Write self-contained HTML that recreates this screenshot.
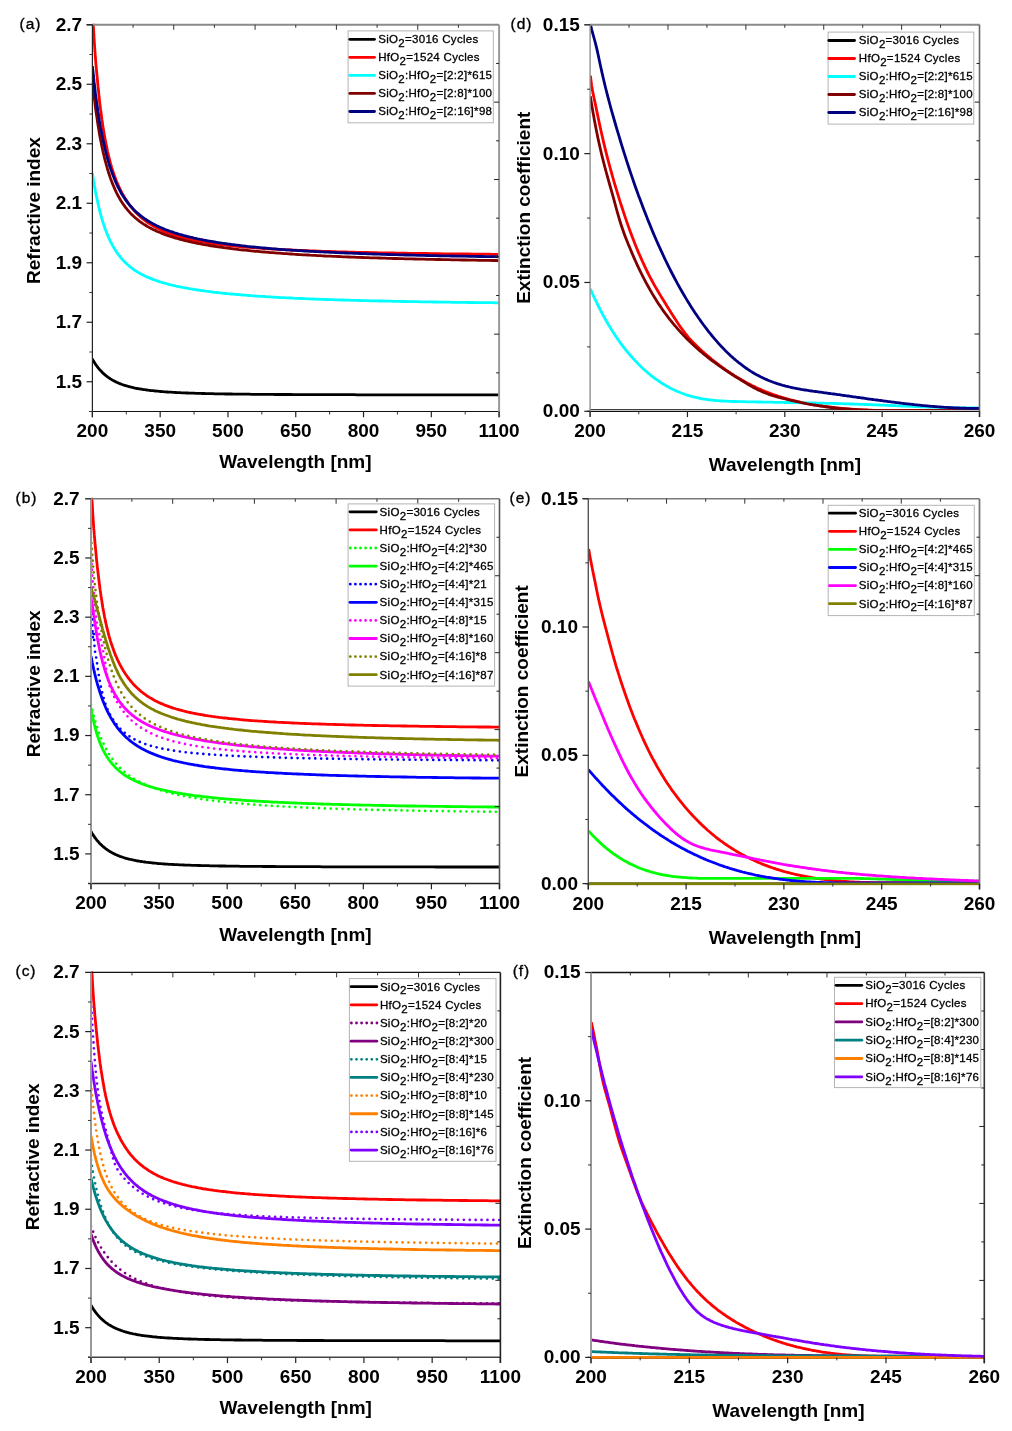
<!DOCTYPE html>
<html><head><meta charset="utf-8"><style>
html,body{margin:0;padding:0;background:#fff;}
body{width:1012px;height:1431px;overflow:hidden;}
svg{display:block;will-change:transform;}
</style></head><body>
<svg width="1012" height="1431" viewBox="0 0 1012 1431" font-family='"Liberation Sans", sans-serif'>
<rect width="1012" height="1431" fill="#fff"/>
<line x1="89.4" y1="411.5" x2="499.1" y2="411.5" stroke="#111" stroke-width="1.2"/>
<clipPath id="clipa"><rect x="92.4" y="23.8" width="406.70000000000005" height="387.7"/></clipPath>
<g clip-path="url(#clipa)" fill="none" stroke-linejoin="round">
<path d="M92.4,359.2 92.4,359.2 92.4,359.2 92.4,359.2 92.4,359.3 92.5,359.3 92.5,359.4 92.5,359.4 92.6,359.5 92.7,359.6 92.7,359.7 92.8,359.9 92.9,360.0 93.0,360.2 93.1,360.3 93.2,360.5 93.3,360.7 93.4,360.9 93.6,361.2 93.7,361.4 93.9,361.7 94.0,361.9 94.2,362.2 94.4,362.5 94.6,362.8 94.8,363.1 95.0,363.4 95.2,363.8 95.4,364.1 95.7,364.5 95.9,364.8 96.2,365.2 96.5,365.6 96.8,366.0 97.1,366.4 97.4,366.8 97.7,367.2 98.0,367.6 98.4,368.1 98.7,368.5 99.1,368.9 99.4,369.4 99.8,369.8 100.2,370.2 100.6,370.7 101.1,371.1 101.5,371.6 101.9,372.0 102.4,372.5 102.8,372.9 103.3,373.4 103.8,373.8 104.3,374.2 104.8,374.7 105.3,375.1 105.9,375.6 106.4,376.0 107.0,376.4 107.5,376.9 108.1,377.3 108.7,377.7 109.3,378.1 109.9,378.5 110.5,378.9 111.2,379.3 111.8,379.7 112.5,380.1 113.2,380.5 113.9,380.8 114.6,381.2 115.3,381.6 116.0,381.9 116.7,382.3 117.5,382.6 118.2,382.9 119.0,383.3 119.8,383.6 120.6,383.9 121.4,384.2 122.2,384.5 123.1,384.8 123.9,385.1 124.8,385.4 125.7,385.7 126.6,385.9 127.5,386.2 128.4,386.4 129.3,386.7 130.2,386.9 131.2,387.2 132.2,387.4 133.1,387.6 134.1,387.8 135.1,388.1 136.1,388.3 137.2,388.5 138.2,388.7 139.3,388.9 140.3,389.0 141.4,389.2 142.5,389.4 143.6,389.6 144.8,389.7 145.9,389.9 147.0,390.0 148.2,390.2 149.4,390.3 150.6,390.5 151.8,390.6 153.0,390.7 154.2,390.9 155.5,391.0 156.7,391.1 158.0,391.2 159.3,391.4 160.6,391.5 161.9,391.6 163.2,391.7 164.5,391.8 165.9,391.9 167.3,392.0 168.6,392.1 170.0,392.2 171.4,392.2 172.9,392.3 174.3,392.4 175.7,392.5 177.2,392.6 178.7,392.6 180.2,392.7 181.7,392.8 183.2,392.8 184.7,392.9 186.3,393.0 187.8,393.0 189.4,393.1 191.0,393.1 192.6,393.2 194.2,393.2 195.8,393.3 197.5,393.3 199.1,393.4 200.8,393.4 202.5,393.5 204.2,393.5 205.9,393.6 207.6,393.6 209.4,393.7 211.1,393.7 212.9,393.7 214.7,393.8 216.5,393.8 218.3,393.8 220.1,393.9 222.0,393.9 223.8,393.9 225.7,394.0 227.6,394.0 229.5,394.0 231.4,394.0 233.4,394.1 235.3,394.1 237.3,394.1 239.2,394.1 241.2,394.2 243.2,394.2 245.2,394.2 247.3,394.2 249.3,394.2 251.4,394.3 253.5,394.3 255.6,394.3 257.7,394.3 259.8,394.3 261.9,394.4 264.1,394.4 266.2,394.4 268.4,394.4 270.6,394.4 272.8,394.4 275.0,394.5 277.3,394.5 279.5,394.5 281.8,394.5 284.1,394.5 286.4,394.5 288.7,394.5 291.0,394.5 293.4,394.6 295.7,394.6 298.1,394.6 300.5,394.6 302.9,394.6 305.3,394.6 307.8,394.6 310.2,394.6 312.7,394.6 315.2,394.6 317.7,394.7 320.2,394.7 322.7,394.7 325.2,394.7 327.8,394.7 330.4,394.7 332.9,394.7 335.5,394.7 338.2,394.7 340.8,394.7 343.4,394.7 346.1,394.7 348.8,394.7 351.5,394.7 354.2,394.7 356.9,394.8 359.7,394.8 362.4,394.8 365.2,394.8 368.0,394.8 370.8,394.8 373.6,394.8 376.4,394.8 379.3,394.8 382.1,394.8 385.0,394.8 387.9,394.8 390.8,394.8 393.7,394.8 396.7,394.8 399.6,394.8 402.6,394.8 405.6,394.8 408.6,394.8 411.6,394.8 414.7,394.8 417.7,394.8 420.8,394.8 423.9,394.9 427.0,394.9 430.1,394.9 433.2,394.9 436.3,394.9 439.5,394.9 442.7,394.9 445.9,394.9 449.1,394.9 452.3,394.9 455.5,394.9 458.8,394.9 462.1,394.9 465.4,394.9 468.7,394.9 472.0,394.9 475.3,394.9 478.7,394.9 482.0,394.9 485.4,394.9 488.8,394.9 492.2,394.9 495.7,394.9 499.1,394.9" stroke="#000000" stroke-width="2.8"/>
<path d="M92.4,4.0 92.4,4.1 92.4,4.2 92.4,4.6 92.4,5.1 92.5,5.7 92.5,6.5 92.5,7.6 92.6,8.7 92.7,10.1 92.7,11.6 92.8,13.3 92.9,15.2 93.0,17.2 93.1,19.3 93.2,21.6 93.3,24.0 93.4,26.5 93.6,29.1 93.7,31.7 93.9,34.5 94.0,37.3 94.2,40.2 94.4,43.1 94.6,46.0 94.8,49.0 95.0,52.0 95.2,55.0 95.4,58.0 95.7,61.1 95.9,64.1 96.2,67.2 96.5,70.3 96.8,73.5 97.1,76.6 97.4,79.8 97.7,83.1 98.0,86.4 98.4,89.7 98.7,93.1 99.1,96.4 99.4,99.8 99.8,103.1 100.2,106.4 100.6,109.7 101.1,113.0 101.5,116.2 101.9,119.4 102.4,122.5 102.8,125.6 103.3,128.7 103.8,131.7 104.3,134.6 104.8,137.5 105.3,140.4 105.9,143.2 106.4,145.9 107.0,148.6 107.5,151.2 108.1,153.8 108.7,156.2 109.3,158.7 109.9,161.1 110.5,163.4 111.2,165.6 111.8,167.8 112.5,170.0 113.2,172.1 113.9,174.1 114.6,176.1 115.3,178.0 116.0,179.9 116.7,181.7 117.5,183.5 118.2,185.2 119.0,186.9 119.8,188.6 120.6,190.2 121.4,191.8 122.2,193.4 123.1,194.9 123.9,196.3 124.8,197.8 125.7,199.2 126.6,200.6 127.5,201.9 128.4,203.3 129.3,204.6 130.2,205.8 131.2,207.0 132.2,208.2 133.1,209.4 134.1,210.5 135.1,211.6 136.1,212.7 137.2,213.8 138.2,214.8 139.3,215.8 140.3,216.7 141.4,217.7 142.5,218.6 143.6,219.5 144.8,220.4 145.9,221.2 147.0,222.1 148.2,222.9 149.4,223.6 150.6,224.4 151.8,225.1 153.0,225.9 154.2,226.6 155.5,227.3 156.7,227.9 158.0,228.6 159.3,229.2 160.6,229.8 161.9,230.4 163.2,231.0 164.5,231.6 165.9,232.1 167.3,232.7 168.6,233.2 170.0,233.7 171.4,234.2 172.9,234.7 174.3,235.2 175.7,235.6 177.2,236.1 178.7,236.5 180.2,236.9 181.7,237.3 183.2,237.7 184.7,238.1 186.3,238.5 187.8,238.9 189.4,239.3 191.0,239.6 192.6,240.0 194.2,240.3 195.8,240.6 197.5,241.0 199.1,241.3 200.8,241.6 202.5,241.9 204.2,242.2 205.9,242.4 207.6,242.7 209.4,243.0 211.1,243.3 212.9,243.5 214.7,243.8 216.5,244.0 218.3,244.3 220.1,244.5 222.0,244.7 223.8,245.0 225.7,245.2 227.6,245.4 229.5,245.6 231.4,245.8 233.4,246.0 235.3,246.2 237.3,246.4 239.2,246.6 241.2,246.8 243.2,246.9 245.2,247.1 247.3,247.3 249.3,247.4 251.4,247.6 253.5,247.8 255.6,247.9 257.7,248.1 259.8,248.2 261.9,248.4 264.1,248.5 266.2,248.7 268.4,248.8 270.6,248.9 272.8,249.1 275.0,249.2 277.3,249.3 279.5,249.4 281.8,249.6 284.1,249.7 286.4,249.8 288.7,249.9 291.0,250.0 293.4,250.1 295.7,250.2 298.1,250.3 300.5,250.4 302.9,250.5 305.3,250.6 307.8,250.7 310.2,250.8 312.7,250.9 315.2,251.0 317.7,251.1 320.2,251.2 322.7,251.3 325.2,251.4 327.8,251.5 330.4,251.5 332.9,251.6 335.5,251.7 338.2,251.8 340.8,251.8 343.4,251.9 346.1,252.0 348.8,252.1 351.5,252.1 354.2,252.2 356.9,252.3 359.7,252.3 362.4,252.4 365.2,252.5 368.0,252.5 370.8,252.6 373.6,252.6 376.4,252.7 379.3,252.8 382.1,252.8 385.0,252.9 387.9,252.9 390.8,253.0 393.7,253.0 396.7,253.1 399.6,253.1 402.6,253.2 405.6,253.2 408.6,253.3 411.6,253.3 414.7,253.4 417.7,253.4 420.8,253.5 423.9,253.5 427.0,253.5 430.1,253.6 433.2,253.6 436.3,253.7 439.5,253.7 442.7,253.8 445.9,253.8 449.1,253.8 452.3,253.9 455.5,253.9 458.8,253.9 462.1,254.0 465.4,254.0 468.7,254.0 472.0,254.1 475.3,254.1 478.7,254.1 482.0,254.2 485.4,254.2 488.8,254.2 492.2,254.3 495.7,254.3 499.1,254.3" stroke="#ff0000" stroke-width="2.8"/>
<path d="M92.4,173.3 92.4,173.3 92.4,173.3 92.4,173.4 92.4,173.6 92.5,173.7 92.5,174.0 92.5,174.2 92.6,174.5 92.7,174.9 92.7,175.3 92.8,175.8 92.9,176.3 93.0,176.9 93.1,177.5 93.2,178.2 93.3,179.0 93.4,179.7 93.6,180.6 93.7,181.4 93.9,182.4 94.0,183.3 94.2,184.4 94.4,185.4 94.6,186.5 94.8,187.6 95.0,188.8 95.2,190.0 95.4,191.3 95.7,192.6 95.9,193.9 96.2,195.2 96.5,196.6 96.8,198.0 97.1,199.4 97.4,200.8 97.7,202.3 98.0,203.7 98.4,205.2 98.7,206.7 99.1,208.2 99.4,209.7 99.8,211.2 100.2,212.8 100.6,214.3 101.1,215.8 101.5,217.3 101.9,218.9 102.4,220.4 102.8,221.9 103.3,223.4 103.8,224.9 104.3,226.3 104.8,227.8 105.3,229.3 105.9,230.7 106.4,232.1 107.0,233.5 107.5,234.9 108.1,236.3 108.7,237.7 109.3,239.0 109.9,240.3 110.5,241.6 111.2,242.9 111.8,244.1 112.5,245.4 113.2,246.6 113.9,247.8 114.6,248.9 115.3,250.1 116.0,251.2 116.7,252.3 117.5,253.4 118.2,254.4 119.0,255.4 119.8,256.4 120.6,257.4 121.4,258.4 122.2,259.3 123.1,260.3 123.9,261.2 124.8,262.0 125.7,262.9 126.6,263.7 127.5,264.5 128.4,265.3 129.3,266.1 130.2,266.9 131.2,267.6 132.2,268.4 133.1,269.1 134.1,269.8 135.1,270.5 136.1,271.1 137.2,271.8 138.2,272.4 139.3,273.0 140.3,273.6 141.4,274.2 142.5,274.8 143.6,275.3 144.8,275.9 145.9,276.4 147.0,276.9 148.2,277.4 149.4,277.9 150.6,278.4 151.8,278.9 153.0,279.4 154.2,279.8 155.5,280.3 156.7,280.7 158.0,281.1 159.3,281.6 160.6,282.0 161.9,282.4 163.2,282.8 164.5,283.2 165.9,283.5 167.3,283.9 168.6,284.3 170.0,284.6 171.4,285.0 172.9,285.3 174.3,285.6 175.7,286.0 177.2,286.3 178.7,286.6 180.2,286.9 181.7,287.2 183.2,287.5 184.7,287.8 186.3,288.1 187.8,288.4 189.4,288.7 191.0,288.9 192.6,289.2 194.2,289.5 195.8,289.7 197.5,290.0 199.1,290.2 200.8,290.5 202.5,290.7 204.2,290.9 205.9,291.2 207.6,291.4 209.4,291.6 211.1,291.8 212.9,292.1 214.7,292.3 216.5,292.5 218.3,292.7 220.1,292.9 222.0,293.1 223.8,293.3 225.7,293.5 227.6,293.7 229.5,293.8 231.4,294.0 233.4,294.2 235.3,294.4 237.3,294.5 239.2,294.7 241.2,294.9 243.2,295.0 245.2,295.2 247.3,295.4 249.3,295.5 251.4,295.7 253.5,295.8 255.6,296.0 257.7,296.1 259.8,296.3 261.9,296.4 264.1,296.5 266.2,296.7 268.4,296.8 270.6,296.9 272.8,297.1 275.0,297.2 277.3,297.3 279.5,297.5 281.8,297.6 284.1,297.7 286.4,297.8 288.7,297.9 291.0,298.0 293.4,298.2 295.7,298.3 298.1,298.4 300.5,298.5 302.9,298.6 305.3,298.7 307.8,298.8 310.2,298.9 312.7,299.0 315.2,299.1 317.7,299.2 320.2,299.3 322.7,299.4 325.2,299.5 327.8,299.5 330.4,299.6 332.9,299.7 335.5,299.8 338.2,299.9 340.8,300.0 343.4,300.0 346.1,300.1 348.8,300.2 351.5,300.3 354.2,300.4 356.9,300.4 359.7,300.5 362.4,300.6 365.2,300.6 368.0,300.7 370.8,300.8 373.6,300.8 376.4,300.9 379.3,301.0 382.1,301.0 385.0,301.1 387.9,301.2 390.8,301.2 393.7,301.3 396.7,301.3 399.6,301.4 402.6,301.5 405.6,301.5 408.6,301.6 411.6,301.6 414.7,301.7 417.7,301.7 420.8,301.8 423.9,301.8 427.0,301.9 430.1,301.9 433.2,302.0 436.3,302.0 439.5,302.1 442.7,302.1 445.9,302.2 449.1,302.2 452.3,302.3 455.5,302.3 458.8,302.4 462.1,302.4 465.4,302.4 468.7,302.5 472.0,302.5 475.3,302.6 478.7,302.6 482.0,302.6 485.4,302.7 488.8,302.7 492.2,302.7 495.7,302.8 499.1,302.8" stroke="#00ffff" stroke-width="2.8"/>
<path d="M92.4,81.5 92.4,81.5 92.4,81.6 92.4,81.7 92.4,81.9 92.5,82.2 92.5,82.5 92.5,82.9 92.6,83.3 92.7,83.9 92.7,84.5 92.8,85.2 92.9,85.9 93.0,86.7 93.1,87.6 93.2,88.6 93.3,89.7 93.4,90.8 93.6,92.0 93.7,93.2 93.9,94.6 94.0,96.0 94.2,97.4 94.4,98.9 94.6,100.5 94.8,102.2 95.0,103.8 95.2,105.6 95.4,107.4 95.7,109.2 95.9,111.1 96.2,113.0 96.5,114.9 96.8,116.9 97.1,118.9 97.4,121.0 97.7,123.0 98.0,125.1 98.4,127.2 98.7,129.4 99.1,131.5 99.4,133.7 99.8,135.8 100.2,138.0 100.6,140.1 101.1,142.3 101.5,144.4 101.9,146.6 102.4,148.7 102.8,150.8 103.3,152.9 103.8,155.0 104.3,157.1 104.8,159.2 105.3,161.2 105.9,163.2 106.4,165.2 107.0,167.2 107.5,169.2 108.1,171.1 108.7,173.0 109.3,174.8 109.9,176.6 110.5,178.4 111.2,180.2 111.8,181.9 112.5,183.6 113.2,185.3 113.9,186.9 114.6,188.5 115.3,190.1 116.0,191.6 116.7,193.1 117.5,194.6 118.2,196.0 119.0,197.4 119.8,198.8 120.6,200.2 121.4,201.5 122.2,202.7 123.1,204.0 123.9,205.2 124.8,206.4 125.7,207.6 126.6,208.7 127.5,209.8 128.4,210.9 129.3,211.9 130.2,212.9 131.2,213.9 132.2,214.9 133.1,215.8 134.1,216.8 135.1,217.7 136.1,218.5 137.2,219.4 138.2,220.2 139.3,221.1 140.3,221.8 141.4,222.6 142.5,223.4 143.6,224.1 144.8,224.8 145.9,225.5 147.0,226.2 148.2,226.9 149.4,227.6 150.6,228.2 151.8,228.8 153.0,229.4 154.2,230.0 155.5,230.6 156.7,231.2 158.0,231.8 159.3,232.3 160.6,232.8 161.9,233.4 163.2,233.9 164.5,234.4 165.9,234.9 167.3,235.4 168.6,235.8 170.0,236.3 171.4,236.7 172.9,237.2 174.3,237.6 175.7,238.1 177.2,238.5 178.7,238.9 180.2,239.3 181.7,239.7 183.2,240.1 184.7,240.5 186.3,240.8 187.8,241.2 189.4,241.6 191.0,241.9 192.6,242.3 194.2,242.6 195.8,243.0 197.5,243.3 199.1,243.6 200.8,243.9 202.5,244.3 204.2,244.6 205.9,244.9 207.6,245.2 209.4,245.5 211.1,245.8 212.9,246.0 214.7,246.3 216.5,246.6 218.3,246.9 220.1,247.1 222.0,247.4 223.8,247.7 225.7,247.9 227.6,248.2 229.5,248.4 231.4,248.6 233.4,248.9 235.3,249.1 237.3,249.3 239.2,249.6 241.2,249.8 243.2,250.0 245.2,250.2 247.3,250.4 249.3,250.6 251.4,250.9 253.5,251.1 255.6,251.3 257.7,251.4 259.8,251.6 261.9,251.8 264.1,252.0 266.2,252.2 268.4,252.4 270.6,252.6 272.8,252.7 275.0,252.9 277.3,253.1 279.5,253.2 281.8,253.4 284.1,253.6 286.4,253.7 288.7,253.9 291.0,254.0 293.4,254.2 295.7,254.3 298.1,254.5 300.5,254.6 302.9,254.8 305.3,254.9 307.8,255.0 310.2,255.2 312.7,255.3 315.2,255.4 317.7,255.6 320.2,255.7 322.7,255.8 325.2,256.0 327.8,256.1 330.4,256.2 332.9,256.3 335.5,256.4 338.2,256.5 340.8,256.6 343.4,256.8 346.1,256.9 348.8,257.0 351.5,257.1 354.2,257.2 356.9,257.3 359.7,257.4 362.4,257.5 365.2,257.6 368.0,257.7 370.8,257.8 373.6,257.9 376.4,257.9 379.3,258.0 382.1,258.1 385.0,258.2 387.9,258.3 390.8,258.4 393.7,258.5 396.7,258.5 399.6,258.6 402.6,258.7 405.6,258.8 408.6,258.9 411.6,258.9 414.7,259.0 417.7,259.1 420.8,259.1 423.9,259.2 427.0,259.3 430.1,259.3 433.2,259.4 436.3,259.5 439.5,259.5 442.7,259.6 445.9,259.7 449.1,259.7 452.3,259.8 455.5,259.9 458.8,259.9 462.1,260.0 465.4,260.0 468.7,260.1 472.0,260.1 475.3,260.2 478.7,260.3 482.0,260.3 485.4,260.4 488.8,260.4 492.2,260.5 495.7,260.5 499.1,260.6" stroke="#800000" stroke-width="2.8"/>
<path d="M92.4,66.1 92.4,66.1 92.4,66.2 92.4,66.3 92.4,66.5 92.5,66.8 92.5,67.1 92.5,67.5 92.6,68.0 92.7,68.6 92.7,69.2 92.8,69.9 92.9,70.7 93.0,71.6 93.1,72.5 93.2,73.6 93.3,74.7 93.4,75.8 93.6,77.1 93.7,78.4 93.9,79.8 94.0,81.2 94.2,82.8 94.4,84.4 94.6,86.0 94.8,87.7 95.0,89.5 95.2,91.3 95.4,93.2 95.7,95.1 95.9,97.1 96.2,99.1 96.5,101.1 96.8,103.2 97.1,105.3 97.4,107.5 97.7,109.7 98.0,111.9 98.4,114.1 98.7,116.3 99.1,118.6 99.4,120.9 99.8,123.1 100.2,125.4 100.6,127.7 101.1,130.0 101.5,132.2 101.9,134.5 102.4,136.8 102.8,139.0 103.3,141.3 103.8,143.5 104.3,145.7 104.8,147.9 105.3,150.1 105.9,152.2 106.4,154.3 107.0,156.4 107.5,158.5 108.1,160.6 108.7,162.6 109.3,164.6 109.9,166.5 110.5,168.4 111.2,170.3 111.8,172.2 112.5,174.0 113.2,175.8 113.9,177.6 114.6,179.3 115.3,181.0 116.0,182.6 116.7,184.3 117.5,185.8 118.2,187.4 119.0,188.9 119.8,190.4 120.6,191.8 121.4,193.3 122.2,194.7 123.1,196.0 123.9,197.3 124.8,198.6 125.7,199.9 126.6,201.1 127.5,202.3 128.4,203.5 129.3,204.6 130.2,205.7 131.2,206.8 132.2,207.9 133.1,208.9 134.1,209.9 135.1,210.9 136.1,211.9 137.2,212.8 138.2,213.7 139.3,214.6 140.3,215.5 141.4,216.3 142.5,217.2 143.6,218.0 144.8,218.8 145.9,219.5 147.0,220.3 148.2,221.0 149.4,221.7 150.6,222.4 151.8,223.1 153.0,223.8 154.2,224.4 155.5,225.1 156.7,225.7 158.0,226.3 159.3,226.9 160.6,227.5 161.9,228.1 163.2,228.6 164.5,229.2 165.9,229.7 167.3,230.2 168.6,230.7 170.0,231.3 171.4,231.7 172.9,232.2 174.3,232.7 175.7,233.2 177.2,233.6 178.7,234.1 180.2,234.5 181.7,234.9 183.2,235.4 184.7,235.8 186.3,236.2 187.8,236.6 189.4,237.0 191.0,237.3 192.6,237.7 194.2,238.1 195.8,238.4 197.5,238.8 199.1,239.1 200.8,239.5 202.5,239.8 204.2,240.2 205.9,240.5 207.6,240.8 209.4,241.1 211.1,241.4 212.9,241.7 214.7,242.0 216.5,242.3 218.3,242.6 220.1,242.9 222.0,243.2 223.8,243.4 225.7,243.7 227.6,244.0 229.5,244.2 231.4,244.5 233.4,244.7 235.3,245.0 237.3,245.2 239.2,245.4 241.2,245.7 243.2,245.9 245.2,246.1 247.3,246.4 249.3,246.6 251.4,246.8 253.5,247.0 255.6,247.2 257.7,247.4 259.8,247.6 261.9,247.8 264.1,248.0 266.2,248.2 268.4,248.4 270.6,248.6 272.8,248.8 275.0,248.9 277.3,249.1 279.5,249.3 281.8,249.5 284.1,249.6 286.4,249.8 288.7,249.9 291.0,250.1 293.4,250.3 295.7,250.4 298.1,250.6 300.5,250.7 302.9,250.9 305.3,251.0 307.8,251.1 310.2,251.3 312.7,251.4 315.2,251.6 317.7,251.7 320.2,251.8 322.7,251.9 325.2,252.1 327.8,252.2 330.4,252.3 332.9,252.4 335.5,252.6 338.2,252.7 340.8,252.8 343.4,252.9 346.1,253.0 348.8,253.1 351.5,253.2 354.2,253.3 356.9,253.4 359.7,253.5 362.4,253.6 365.2,253.7 368.0,253.8 370.8,253.9 373.6,254.0 376.4,254.1 379.3,254.2 382.1,254.3 385.0,254.4 387.9,254.5 390.8,254.6 393.7,254.6 396.7,254.7 399.6,254.8 402.6,254.9 405.6,255.0 408.6,255.0 411.6,255.1 414.7,255.2 417.7,255.3 420.8,255.3 423.9,255.4 427.0,255.5 430.1,255.6 433.2,255.6 436.3,255.7 439.5,255.8 442.7,255.8 445.9,255.9 449.1,255.9 452.3,256.0 455.5,256.1 458.8,256.1 462.1,256.2 465.4,256.2 468.7,256.3 472.0,256.4 475.3,256.4 478.7,256.5 482.0,256.5 485.4,256.6 488.8,256.6 492.2,256.7 495.7,256.7 499.1,256.8" stroke="#000080" stroke-width="2.8"/>
</g>
<line x1="92.4" y1="24.8" x2="499.1" y2="24.8" stroke="#8a8a8a" stroke-width="2"/>
<line x1="499.1" y1="24.8" x2="499.1" y2="417.3" stroke="#9a9a9a" stroke-width="2"/>
<line x1="92.4" y1="24.8" x2="92.4" y2="417.3" stroke="#222" stroke-width="1.2"/>
<line x1="86.60000000000001" y1="24.8" x2="92.4" y2="24.8" stroke="#222" stroke-width="1.2"/>
<line x1="133.07" y1="24.8" x2="133.07" y2="27.8" stroke="#333" stroke-width="1"/>
<line x1="496.1" y1="63.47" x2="499.1" y2="63.47" stroke="#222" stroke-width="1"/>
<line x1="173.74" y1="24.8" x2="173.74" y2="29.8" stroke="#333" stroke-width="1"/>
<line x1="494.1" y1="102.14" x2="499.1" y2="102.14" stroke="#222" stroke-width="1"/>
<line x1="214.41" y1="24.8" x2="214.41" y2="27.8" stroke="#333" stroke-width="1"/>
<line x1="496.1" y1="140.81" x2="499.1" y2="140.81" stroke="#222" stroke-width="1"/>
<line x1="255.08" y1="24.8" x2="255.08" y2="29.8" stroke="#333" stroke-width="1"/>
<line x1="494.1" y1="179.48" x2="499.1" y2="179.48" stroke="#222" stroke-width="1"/>
<line x1="295.75" y1="24.8" x2="295.75" y2="27.8" stroke="#333" stroke-width="1"/>
<line x1="496.1" y1="218.15" x2="499.1" y2="218.15" stroke="#222" stroke-width="1"/>
<line x1="336.42" y1="24.8" x2="336.42" y2="29.8" stroke="#333" stroke-width="1"/>
<line x1="494.1" y1="256.82" x2="499.1" y2="256.82" stroke="#222" stroke-width="1"/>
<line x1="377.09" y1="24.8" x2="377.09" y2="27.8" stroke="#333" stroke-width="1"/>
<line x1="496.1" y1="295.49" x2="499.1" y2="295.49" stroke="#222" stroke-width="1"/>
<line x1="417.76" y1="24.8" x2="417.76" y2="29.8" stroke="#333" stroke-width="1"/>
<line x1="494.1" y1="334.16" x2="499.1" y2="334.16" stroke="#222" stroke-width="1"/>
<line x1="458.43" y1="24.8" x2="458.43" y2="27.8" stroke="#333" stroke-width="1"/>
<line x1="496.1" y1="372.83" x2="499.1" y2="372.83" stroke="#222" stroke-width="1"/>
<line x1="92.40" y1="411.5" x2="92.40" y2="417.3" stroke="#222" stroke-width="1.2"/>
<text x="92.40" y="436.50" font-size="19" font-weight="bold" text-anchor="middle" >200</text>
<line x1="160.18" y1="411.5" x2="160.18" y2="417.3" stroke="#222" stroke-width="1.2"/>
<text x="160.18" y="436.50" font-size="19" font-weight="bold" text-anchor="middle" >350</text>
<line x1="227.97" y1="411.5" x2="227.97" y2="417.3" stroke="#222" stroke-width="1.2"/>
<text x="227.97" y="436.50" font-size="19" font-weight="bold" text-anchor="middle" >500</text>
<line x1="295.75" y1="411.5" x2="295.75" y2="417.3" stroke="#222" stroke-width="1.2"/>
<text x="295.75" y="436.50" font-size="19" font-weight="bold" text-anchor="middle" >650</text>
<line x1="363.53" y1="411.5" x2="363.53" y2="417.3" stroke="#222" stroke-width="1.2"/>
<text x="363.53" y="436.50" font-size="19" font-weight="bold" text-anchor="middle" >800</text>
<line x1="431.32" y1="411.5" x2="431.32" y2="417.3" stroke="#222" stroke-width="1.2"/>
<text x="431.32" y="436.50" font-size="19" font-weight="bold" text-anchor="middle" >950</text>
<line x1="499.10" y1="411.5" x2="499.10" y2="417.3" stroke="#222" stroke-width="1.2"/>
<text x="499.10" y="436.50" font-size="19" font-weight="bold" text-anchor="middle" >1100</text>
<line x1="126.29" y1="411.5" x2="126.29" y2="414.5" stroke="#333" stroke-width="1"/>
<line x1="194.08" y1="411.5" x2="194.08" y2="414.5" stroke="#333" stroke-width="1"/>
<line x1="261.86" y1="411.5" x2="261.86" y2="414.5" stroke="#333" stroke-width="1"/>
<line x1="329.64" y1="411.5" x2="329.64" y2="414.5" stroke="#333" stroke-width="1"/>
<line x1="397.43" y1="411.5" x2="397.43" y2="414.5" stroke="#333" stroke-width="1"/>
<line x1="465.21" y1="411.5" x2="465.21" y2="414.5" stroke="#333" stroke-width="1"/>
<line x1="86.60000000000001" y1="381.75" x2="92.4" y2="381.75" stroke="#222" stroke-width="1.2"/>
<text x="82.10" y="387.65" font-size="19" font-weight="bold" text-anchor="end" >1.5</text>
<line x1="86.60000000000001" y1="322.26" x2="92.4" y2="322.26" stroke="#222" stroke-width="1.2"/>
<text x="82.10" y="328.16" font-size="19" font-weight="bold" text-anchor="end" >1.7</text>
<line x1="86.60000000000001" y1="262.77" x2="92.4" y2="262.77" stroke="#222" stroke-width="1.2"/>
<text x="82.10" y="268.67" font-size="19" font-weight="bold" text-anchor="end" >1.9</text>
<line x1="86.60000000000001" y1="203.28" x2="92.4" y2="203.28" stroke="#222" stroke-width="1.2"/>
<text x="82.10" y="209.18" font-size="19" font-weight="bold" text-anchor="end" >2.1</text>
<line x1="86.60000000000001" y1="143.78" x2="92.4" y2="143.78" stroke="#222" stroke-width="1.2"/>
<text x="82.10" y="149.68" font-size="19" font-weight="bold" text-anchor="end" >2.3</text>
<line x1="86.60000000000001" y1="84.29" x2="92.4" y2="84.29" stroke="#222" stroke-width="1.2"/>
<text x="82.10" y="90.19" font-size="19" font-weight="bold" text-anchor="end" >2.5</text>
<line x1="86.60000000000001" y1="24.80" x2="92.4" y2="24.80" stroke="#222" stroke-width="1.2"/>
<text x="82.10" y="30.70" font-size="19" font-weight="bold" text-anchor="end" >2.7</text>
<line x1="89.4" y1="411.50" x2="92.4" y2="411.50" stroke="#333" stroke-width="1"/>
<line x1="89.4" y1="352.01" x2="92.4" y2="352.01" stroke="#333" stroke-width="1"/>
<line x1="89.4" y1="292.52" x2="92.4" y2="292.52" stroke="#333" stroke-width="1"/>
<line x1="89.4" y1="233.02" x2="92.4" y2="233.02" stroke="#333" stroke-width="1"/>
<line x1="89.4" y1="173.53" x2="92.4" y2="173.53" stroke="#333" stroke-width="1"/>
<line x1="89.4" y1="114.04" x2="92.4" y2="114.04" stroke="#333" stroke-width="1"/>
<line x1="89.4" y1="54.55" x2="92.4" y2="54.55" stroke="#333" stroke-width="1"/>
<text x="295.40" y="467.90" font-size="19" font-weight="bold" text-anchor="middle" >Wavelength [nm]</text>
<text x="0" y="0" font-size="19" font-weight="bold" text-anchor="middle" transform="translate(40.20,210.55) rotate(-90)">Refractive index</text>
<text x="19.60" y="28.80" font-size="15.5" font-weight="normal" text-anchor="start" stroke="#000" stroke-width="0.35" letter-spacing="0.9">(a)</text>
<rect x="348.1" y="30.9" width="145.2" height="91.9" fill="#fff" stroke="#b4b4b4" stroke-width="1"/>
<line x1="349.8" y1="39.30" x2="374.5" y2="39.30" stroke="#000000" stroke-width="2.8" stroke-linecap="round"/>
<text x="378.20" y="43.10" font-size="11.5" font-weight="normal" text-anchor="start" letter-spacing="0.3" stroke="#000" stroke-width="0.3">SiO<tspan dy="3.9">2</tspan><tspan dy="-3.9">=3016 Cycles</tspan></text>
<line x1="349.8" y1="57.35" x2="374.5" y2="57.35" stroke="#ff0000" stroke-width="2.8" stroke-linecap="round"/>
<text x="378.20" y="61.15" font-size="11.5" font-weight="normal" text-anchor="start" letter-spacing="0.3" stroke="#000" stroke-width="0.3">HfO<tspan dy="3.9">2</tspan><tspan dy="-3.9">=1524 Cycles</tspan></text>
<line x1="349.8" y1="75.40" x2="374.5" y2="75.40" stroke="#00ffff" stroke-width="2.8" stroke-linecap="round"/>
<text x="378.20" y="79.20" font-size="11.5" font-weight="normal" text-anchor="start" letter-spacing="0.3" stroke="#000" stroke-width="0.3">SiO<tspan dy="3.9">2</tspan><tspan dy="-3.9">:HfO</tspan><tspan dy="3.9">2</tspan><tspan dy="-3.9">=[2:2]*615</tspan></text>
<line x1="349.8" y1="93.45" x2="374.5" y2="93.45" stroke="#800000" stroke-width="2.8" stroke-linecap="round"/>
<text x="378.20" y="97.25" font-size="11.5" font-weight="normal" text-anchor="start" letter-spacing="0.3" stroke="#000" stroke-width="0.3">SiO<tspan dy="3.9">2</tspan><tspan dy="-3.9">:HfO</tspan><tspan dy="3.9">2</tspan><tspan dy="-3.9">=[2:8]*100</tspan></text>
<line x1="349.8" y1="111.50" x2="374.5" y2="111.50" stroke="#000080" stroke-width="2.8" stroke-linecap="round"/>
<text x="378.20" y="115.30" font-size="11.5" font-weight="normal" text-anchor="start" letter-spacing="0.3" stroke="#000" stroke-width="0.3">SiO<tspan dy="3.9">2</tspan><tspan dy="-3.9">:HfO</tspan><tspan dy="3.9">2</tspan><tspan dy="-3.9">=[2:16]*98</tspan></text>
<line x1="88.0" y1="883.5" x2="499.5" y2="883.5" stroke="#222" stroke-width="1.3"/>
<clipPath id="clipb"><rect x="91.0" y="497.8" width="408.5" height="385.7"/></clipPath>
<g clip-path="url(#clipb)" fill="none" stroke-linejoin="round">
<path d="M91.0,831.5 91.0,831.5 91.0,831.5 91.0,831.5 91.0,831.5 91.1,831.6 91.1,831.6 91.1,831.7 91.2,831.8 91.3,831.9 91.3,832.0 91.4,832.1 91.5,832.3 91.6,832.4 91.7,832.6 91.8,832.8 91.9,833.0 92.0,833.2 92.2,833.4 92.3,833.7 92.5,833.9 92.6,834.2 92.8,834.5 93.0,834.7 93.2,835.0 93.4,835.4 93.6,835.7 93.8,836.0 94.1,836.4 94.3,836.7 94.6,837.1 94.8,837.5 95.1,837.8 95.4,838.2 95.7,838.6 96.0,839.0 96.3,839.4 96.6,839.9 97.0,840.3 97.3,840.7 97.7,841.1 98.1,841.6 98.5,842.0 98.9,842.4 99.3,842.9 99.7,843.3 100.1,843.8 100.6,844.2 101.0,844.7 101.5,845.1 102.0,845.6 102.4,846.0 102.9,846.4 103.5,846.9 104.0,847.3 104.5,847.7 105.1,848.2 105.6,848.6 106.2,849.0 106.8,849.4 107.4,849.9 108.0,850.3 108.6,850.7 109.2,851.1 109.9,851.5 110.5,851.9 111.2,852.2 111.9,852.6 112.6,853.0 113.3,853.4 114.0,853.7 114.7,854.1 115.4,854.4 116.2,854.8 117.0,855.1 117.7,855.4 118.5,855.7 119.3,856.1 120.1,856.4 121.0,856.7 121.8,857.0 122.7,857.2 123.5,857.5 124.4,857.8 125.3,858.1 126.2,858.3 127.1,858.6 128.1,858.8 129.0,859.1 130.0,859.3 130.9,859.5 131.9,859.7 132.9,860.0 133.9,860.2 134.9,860.4 136.0,860.6 137.0,860.8 138.1,861.0 139.2,861.2 140.2,861.3 141.3,861.5 142.5,861.7 143.6,861.8 144.7,862.0 145.9,862.2 147.0,862.3 148.2,862.4 149.4,862.6 150.6,862.7 151.9,862.9 153.1,863.0 154.3,863.1 155.6,863.2 156.9,863.3 158.2,863.5 159.5,863.6 160.8,863.7 162.1,863.8 163.5,863.9 164.8,864.0 166.2,864.1 167.6,864.2 169.0,864.3 170.4,864.3 171.8,864.4 173.2,864.5 174.7,864.6 176.2,864.7 177.7,864.7 179.2,864.8 180.7,864.9 182.2,864.9 183.7,865.0 185.3,865.1 186.8,865.1 188.4,865.2 190.0,865.2 191.6,865.3 193.3,865.3 194.9,865.4 196.5,865.4 198.2,865.5 199.9,865.5 201.6,865.6 203.3,865.6 205.0,865.7 206.7,865.7 208.5,865.7 210.3,865.8 212.0,865.8 213.8,865.9 215.6,865.9 217.5,865.9 219.3,866.0 221.2,866.0 223.0,866.0 224.9,866.0 226.8,866.1 228.7,866.1 230.6,866.1 232.6,866.2 234.5,866.2 236.5,866.2 238.5,866.2 240.5,866.3 242.5,866.3 244.5,866.3 246.6,866.3 248.6,866.3 250.7,866.4 252.8,866.4 254.9,866.4 257.0,866.4 259.1,866.4 261.3,866.4 263.4,866.5 265.6,866.5 267.8,866.5 270.0,866.5 272.2,866.5 274.5,866.5 276.7,866.6 279.0,866.6 281.3,866.6 283.5,866.6 285.9,866.6 288.2,866.6 290.5,866.6 292.9,866.6 295.2,866.7 297.6,866.7 300.0,866.7 302.4,866.7 304.9,866.7 307.3,866.7 309.8,866.7 312.3,866.7 314.7,866.7 317.3,866.7 319.8,866.7 322.3,866.8 324.9,866.8 327.4,866.8 330.0,866.8 332.6,866.8 335.2,866.8 337.9,866.8 340.5,866.8 343.2,866.8 345.8,866.8 348.5,866.8 351.2,866.8 353.9,866.8 356.7,866.8 359.4,866.8 362.2,866.9 365.0,866.9 367.8,866.9 370.6,866.9 373.4,866.9 376.3,866.9 379.1,866.9 382.0,866.9 384.9,866.9 387.8,866.9 390.7,866.9 393.7,866.9 396.6,866.9 399.6,866.9 402.6,866.9 405.6,866.9 408.6,866.9 411.6,866.9 414.7,866.9 417.7,866.9 420.8,866.9 423.9,866.9 427.0,866.9 430.2,866.9 433.3,866.9 436.5,867.0 439.6,867.0 442.8,867.0 446.0,867.0 449.3,867.0 452.5,867.0 455.7,867.0 459.0,867.0 462.3,867.0 465.6,867.0 468.9,867.0 472.3,867.0 475.6,867.0 479.0,867.0 482.4,867.0 485.7,867.0 489.2,867.0 492.6,867.0 496.0,867.0 499.5,867.0" stroke="#000000" stroke-width="2.8"/>
<path d="M91.0,478.1 91.0,478.2 91.0,478.3 91.0,478.7 91.0,479.2 91.1,479.8 91.1,480.6 91.1,481.6 91.2,482.8 91.3,484.2 91.3,485.7 91.4,487.4 91.5,489.2 91.6,491.2 91.7,493.3 91.8,495.6 91.9,498.0 92.0,500.5 92.2,503.0 92.3,505.7 92.5,508.4 92.6,511.2 92.8,514.1 93.0,517.0 93.2,519.9 93.4,522.9 93.6,525.9 93.8,528.9 94.1,531.9 94.3,534.9 94.6,537.9 94.8,541.0 95.1,544.1 95.4,547.2 95.7,550.4 96.0,553.6 96.3,556.8 96.6,560.1 97.0,563.4 97.3,566.7 97.7,570.0 98.1,573.4 98.5,576.7 98.9,580.0 99.3,583.3 99.7,586.5 100.1,589.7 100.6,592.9 101.0,596.0 101.5,599.1 102.0,602.1 102.4,605.1 102.9,608.1 103.5,611.0 104.0,613.8 104.5,616.6 105.1,619.3 105.6,621.9 106.2,624.5 106.8,627.1 107.4,629.6 108.0,632.0 108.6,634.3 109.2,636.7 109.9,638.9 110.5,641.1 111.2,643.2 111.9,645.3 112.6,647.3 113.3,649.3 114.0,651.2 114.7,653.1 115.4,654.9 116.2,656.7 117.0,658.4 117.7,660.1 118.5,661.7 119.3,663.4 120.1,664.9 121.0,666.5 121.8,668.0 122.7,669.5 123.5,670.9 124.4,672.3 125.3,673.7 126.2,675.0 127.1,676.3 128.1,677.6 129.0,678.9 130.0,680.1 130.9,681.3 131.9,682.4 132.9,683.6 133.9,684.7 134.9,685.7 136.0,686.8 137.0,687.8 138.1,688.8 139.2,689.7 140.2,690.7 141.3,691.6 142.5,692.5 143.6,693.4 144.7,694.2 145.9,695.0 147.0,695.8 148.2,696.6 149.4,697.4 150.6,698.1 151.9,698.8 153.1,699.5 154.3,700.2 155.6,700.9 156.9,701.5 158.2,702.2 159.5,702.8 160.8,703.4 162.1,703.9 163.5,704.5 164.8,705.1 166.2,705.6 167.6,706.1 169.0,706.6 170.4,707.1 171.8,707.6 173.2,708.1 174.7,708.5 176.2,709.0 177.7,709.4 179.2,709.8 180.7,710.2 182.2,710.6 183.7,711.0 185.3,711.4 186.8,711.8 188.4,712.2 190.0,712.5 191.6,712.8 193.3,713.2 194.9,713.5 196.5,713.8 198.2,714.1 199.9,714.5 201.6,714.7 203.3,715.0 205.0,715.3 206.7,715.6 208.5,715.9 210.3,716.1 212.0,716.4 213.8,716.6 215.6,716.9 217.5,717.1 219.3,717.4 221.2,717.6 223.0,717.8 224.9,718.0 226.8,718.2 228.7,718.5 230.6,718.7 232.6,718.9 234.5,719.0 236.5,719.2 238.5,719.4 240.5,719.6 242.5,719.8 244.5,720.0 246.6,720.1 248.6,720.3 250.7,720.5 252.8,720.6 254.9,720.8 257.0,720.9 259.1,721.1 261.3,721.2 263.4,721.4 265.6,721.5 267.8,721.6 270.0,721.8 272.2,721.9 274.5,722.0 276.7,722.2 279.0,722.3 281.3,722.4 283.5,722.5 285.9,722.6 288.2,722.7 290.5,722.9 292.9,723.0 295.2,723.1 297.6,723.2 300.0,723.3 302.4,723.4 304.9,723.5 307.3,723.6 309.8,723.7 312.3,723.8 314.7,723.9 317.3,723.9 319.8,724.0 322.3,724.1 324.9,724.2 327.4,724.3 330.0,724.4 332.6,724.4 335.2,724.5 337.9,724.6 340.5,724.7 343.2,724.7 345.8,724.8 348.5,724.9 351.2,725.0 353.9,725.0 356.7,725.1 359.4,725.2 362.2,725.2 365.0,725.3 367.8,725.3 370.6,725.4 373.4,725.5 376.3,725.5 379.1,725.6 382.0,725.6 384.9,725.7 387.8,725.7 390.7,725.8 393.7,725.8 396.6,725.9 399.6,725.9 402.6,726.0 405.6,726.0 408.6,726.1 411.6,726.1 414.7,726.2 417.7,726.2 420.8,726.3 423.9,726.3 427.0,726.4 430.2,726.4 433.3,726.4 436.5,726.5 439.6,726.5 442.8,726.6 446.0,726.6 449.3,726.6 452.5,726.7 455.7,726.7 459.0,726.8 462.3,726.8 465.6,726.8 468.9,726.9 472.3,726.9 475.6,726.9 479.0,727.0 482.4,727.0 485.7,727.0 489.2,727.0 492.6,727.1 496.0,727.1 499.5,727.1" stroke="#ff0000" stroke-width="2.8"/>
<path d="M91.0,704.5 91.0,704.5 91.0,704.6 91.0,704.6 91.0,704.7 91.1,704.8 91.1,705.0 91.1,705.2 91.2,705.4 91.3,705.7 91.3,706.0 91.4,706.3 91.5,706.6 91.6,707.0 91.7,707.5 91.8,707.9 91.9,708.5 92.0,709.0 92.2,709.6 92.3,710.2 92.5,710.8 92.6,711.5 92.8,712.2 93.0,712.9 93.2,713.7 93.4,714.5 93.6,715.3 93.8,716.2 94.1,717.1 94.3,718.0 94.6,718.9 94.8,719.8 95.1,720.8 95.4,721.8 95.7,722.8 96.0,723.8 96.3,724.8 96.6,725.9 97.0,727.0 97.3,728.0 97.7,729.1 98.1,730.2 98.5,731.3 98.9,732.4 99.3,733.5 99.7,734.6 100.1,735.8 100.6,736.9 101.0,738.0 101.5,739.1 102.0,740.2 102.4,741.3 102.9,742.4 103.5,743.6 104.0,744.7 104.5,745.7 105.1,746.8 105.6,747.9 106.2,749.0 106.8,750.0 107.4,751.1 108.0,752.1 108.6,753.2 109.2,754.2 109.9,755.2 110.5,756.2 111.2,757.2 111.9,758.1 112.6,759.1 113.3,760.0 114.0,761.0 114.7,761.9 115.4,762.8 116.2,763.7 117.0,764.6 117.7,765.4 118.5,766.3 119.3,767.1 120.1,767.9 121.0,768.7 121.8,769.5 122.7,770.3 123.5,771.1 124.4,771.8 125.3,772.6 126.2,773.3 127.1,774.0 128.1,774.7 129.0,775.4 130.0,776.1 130.9,776.7 131.9,777.4 132.9,778.0 133.9,778.7 134.9,779.3 136.0,779.9 137.0,780.5 138.1,781.1 139.2,781.6 140.2,782.2 141.3,782.7 142.5,783.3 143.6,783.8 144.7,784.3 145.9,784.9 147.0,785.4 148.2,785.9 149.4,786.3 150.6,786.8 151.9,787.3 153.1,787.7 154.3,788.2 155.6,788.6 156.9,789.1 158.2,789.5 159.5,789.9 160.8,790.3 162.1,790.7 163.5,791.1 164.8,791.5 166.2,791.9 167.6,792.3 169.0,792.6 170.4,793.0 171.8,793.4 173.2,793.7 174.7,794.1 176.2,794.4 177.7,794.7 179.2,795.1 180.7,795.4 182.2,795.7 183.7,796.0 185.3,796.3 186.8,796.6 188.4,796.9 190.0,797.2 191.6,797.5 193.3,797.8 194.9,798.0 196.5,798.3 198.2,798.6 199.9,798.8 201.6,799.1 203.3,799.3 205.0,799.6 206.7,799.8 208.5,800.1 210.3,800.3 212.0,800.5 213.8,800.7 215.6,801.0 217.5,801.2 219.3,801.4 221.2,801.6 223.0,801.8 224.9,802.0 226.8,802.2 228.7,802.4 230.6,802.6 232.6,802.8 234.5,803.0 236.5,803.2 238.5,803.4 240.5,803.5 242.5,803.7 244.5,803.9 246.6,804.1 248.6,804.2 250.7,804.4 252.8,804.5 254.9,804.7 257.0,804.9 259.1,805.0 261.3,805.2 263.4,805.3 265.6,805.5 267.8,805.6 270.0,805.7 272.2,805.9 274.5,806.0 276.7,806.1 279.0,806.3 281.3,806.4 283.5,806.5 285.9,806.7 288.2,806.8 290.5,806.9 292.9,807.0 295.2,807.1 297.6,807.2 300.0,807.4 302.4,807.5 304.9,807.6 307.3,807.7 309.8,807.8 312.3,807.9 314.7,808.0 317.3,808.1 319.8,808.2 322.3,808.3 324.9,808.4 327.4,808.5 330.0,808.6 332.6,808.6 335.2,808.7 337.9,808.8 340.5,808.9 343.2,809.0 345.8,809.1 348.5,809.2 351.2,809.2 353.9,809.3 356.7,809.4 359.4,809.5 362.2,809.5 365.0,809.6 367.8,809.7 370.6,809.8 373.4,809.8 376.3,809.9 379.1,810.0 382.0,810.0 384.9,810.1 387.8,810.2 390.7,810.2 393.7,810.3 396.6,810.3 399.6,810.4 402.6,810.5 405.6,810.5 408.6,810.6 411.6,810.6 414.7,810.7 417.7,810.7 420.8,810.8 423.9,810.9 427.0,810.9 430.2,811.0 433.3,811.0 436.5,811.1 439.6,811.1 442.8,811.1 446.0,811.2 449.3,811.2 452.5,811.3 455.7,811.3 459.0,811.4 462.3,811.4 465.6,811.5 468.9,811.5 472.3,811.5 475.6,811.6 479.0,811.6 482.4,811.7 485.7,811.7 489.2,811.7 492.6,811.8 496.0,811.8 499.5,811.8" stroke="#00ff00" stroke-width="2.7" stroke-dasharray="0 5.9" stroke-linecap="round"/>
<path d="M91.0,708.4 91.0,708.4 91.0,708.4 91.0,708.5 91.0,708.6 91.1,708.7 91.1,708.9 91.1,709.2 91.2,709.4 91.3,709.8 91.3,710.1 91.4,710.5 91.5,711.0 91.6,711.4 91.7,712.0 91.8,712.5 91.9,713.2 92.0,713.8 92.2,714.5 92.3,715.2 92.5,716.0 92.6,716.8 92.8,717.6 93.0,718.5 93.2,719.4 93.4,720.3 93.6,721.3 93.8,722.3 94.1,723.3 94.3,724.3 94.6,725.3 94.8,726.4 95.1,727.5 95.4,728.6 95.7,729.7 96.0,730.8 96.3,731.9 96.6,733.1 97.0,734.2 97.3,735.3 97.7,736.5 98.1,737.6 98.5,738.7 98.9,739.9 99.3,741.0 99.7,742.1 100.1,743.2 100.6,744.3 101.0,745.4 101.5,746.5 102.0,747.5 102.4,748.6 102.9,749.6 103.5,750.7 104.0,751.7 104.5,752.7 105.1,753.7 105.6,754.6 106.2,755.6 106.8,756.5 107.4,757.5 108.0,758.4 108.6,759.3 109.2,760.1 109.9,761.0 110.5,761.9 111.2,762.7 111.9,763.5 112.6,764.3 113.3,765.1 114.0,765.9 114.7,766.7 115.4,767.4 116.2,768.2 117.0,768.9 117.7,769.6 118.5,770.3 119.3,771.0 120.1,771.7 121.0,772.3 121.8,773.0 122.7,773.6 123.5,774.3 124.4,774.9 125.3,775.5 126.2,776.1 127.1,776.6 128.1,777.2 129.0,777.7 130.0,778.3 130.9,778.8 131.9,779.3 132.9,779.8 133.9,780.3 134.9,780.8 136.0,781.3 137.0,781.8 138.1,782.2 139.2,782.7 140.2,783.1 141.3,783.6 142.5,784.0 143.6,784.4 144.7,784.8 145.9,785.2 147.0,785.6 148.2,786.0 149.4,786.4 150.6,786.8 151.9,787.1 153.1,787.5 154.3,787.8 155.6,788.2 156.9,788.5 158.2,788.9 159.5,789.2 160.8,789.5 162.1,789.8 163.5,790.1 164.8,790.4 166.2,790.7 167.6,791.0 169.0,791.3 170.4,791.6 171.8,791.9 173.2,792.2 174.7,792.4 176.2,792.7 177.7,793.0 179.2,793.2 180.7,793.5 182.2,793.7 183.7,794.0 185.3,794.2 186.8,794.4 188.4,794.7 190.0,794.9 191.6,795.1 193.3,795.4 194.9,795.6 196.5,795.8 198.2,796.0 199.9,796.2 201.6,796.4 203.3,796.6 205.0,796.8 206.7,797.0 208.5,797.2 210.3,797.4 212.0,797.6 213.8,797.8 215.6,797.9 217.5,798.1 219.3,798.3 221.2,798.5 223.0,798.6 224.9,798.8 226.8,799.0 228.7,799.1 230.6,799.3 232.6,799.4 234.5,799.6 236.5,799.7 238.5,799.9 240.5,800.0 242.5,800.2 244.5,800.3 246.6,800.5 248.6,800.6 250.7,800.7 252.8,800.9 254.9,801.0 257.0,801.1 259.1,801.2 261.3,801.4 263.4,801.5 265.6,801.6 267.8,801.7 270.0,801.8 272.2,802.0 274.5,802.1 276.7,802.2 279.0,802.3 281.3,802.4 283.5,802.5 285.9,802.6 288.2,802.7 290.5,802.8 292.9,802.9 295.2,803.0 297.6,803.1 300.0,803.2 302.4,803.3 304.9,803.4 307.3,803.5 309.8,803.6 312.3,803.6 314.7,803.7 317.3,803.8 319.8,803.9 322.3,804.0 324.9,804.1 327.4,804.1 330.0,804.2 332.6,804.3 335.2,804.4 337.9,804.4 340.5,804.5 343.2,804.6 345.8,804.7 348.5,804.7 351.2,804.8 353.9,804.9 356.7,804.9 359.4,805.0 362.2,805.1 365.0,805.1 367.8,805.2 370.6,805.2 373.4,805.3 376.3,805.4 379.1,805.4 382.0,805.5 384.9,805.5 387.8,805.6 390.7,805.6 393.7,805.7 396.6,805.8 399.6,805.8 402.6,805.9 405.6,805.9 408.6,806.0 411.6,806.0 414.7,806.0 417.7,806.1 420.8,806.1 423.9,806.2 427.0,806.2 430.2,806.3 433.3,806.3 436.5,806.4 439.6,806.4 442.8,806.4 446.0,806.5 449.3,806.5 452.5,806.6 455.7,806.6 459.0,806.6 462.3,806.7 465.6,806.7 468.9,806.8 472.3,806.8 475.6,806.8 479.0,806.9 482.4,806.9 485.7,806.9 489.2,807.0 492.6,807.0 496.0,807.0 499.5,807.1" stroke="#00ff00" stroke-width="2.8"/>
<path d="M91.0,581.4 91.0,580.9 91.0,579.1 91.0,576.1 91.0,572.4 91.1,568.5 91.1,565.3 91.1,563.8 91.2,564.8 91.3,568.6 91.3,575.0 91.4,582.6 91.5,588.8 91.6,592.6 91.7,594.2 91.8,593.9 91.9,592.8 92.0,592.5 92.2,595.6 92.3,605.4 92.5,621.0 92.6,631.9 92.8,637.3 93.0,638.3 93.2,636.1 93.4,632.8 93.6,630.9 93.8,632.8 94.1,637.6 94.3,643.1 94.6,647.4 94.8,650.2 95.1,652.0 95.4,653.3 95.7,654.7 96.0,656.4 96.3,658.4 96.6,660.7 97.0,663.1 97.3,665.7 97.7,668.2 98.1,670.8 98.5,673.3 98.9,675.7 99.3,678.2 99.7,680.5 100.1,682.8 100.6,685.1 101.0,687.3 101.5,689.5 102.0,691.6 102.4,693.6 102.9,695.5 103.5,697.4 104.0,699.3 104.5,701.0 105.1,702.7 105.6,704.4 106.2,706.0 106.8,707.5 107.4,709.0 108.0,710.4 108.6,711.8 109.2,713.1 109.9,714.3 110.5,715.6 111.2,716.7 111.9,717.9 112.6,719.0 113.3,720.1 114.0,721.1 114.7,722.1 115.4,723.1 116.2,724.1 117.0,725.0 117.7,726.0 118.5,726.9 119.3,727.8 120.1,728.6 121.0,729.5 121.8,730.3 122.7,731.1 123.5,731.8 124.4,732.6 125.3,733.3 126.2,734.0 127.1,734.7 128.1,735.4 129.0,736.0 130.0,736.7 130.9,737.3 131.9,737.9 132.9,738.5 133.9,739.0 134.9,739.6 136.0,740.1 137.0,740.6 138.1,741.1 139.2,741.6 140.2,742.1 141.3,742.6 142.5,743.0 143.6,743.4 144.7,743.8 145.9,744.3 147.0,744.6 148.2,745.0 149.4,745.4 150.6,745.8 151.9,746.1 153.1,746.5 154.3,746.8 155.6,747.1 156.9,747.4 158.2,747.7 159.5,748.0 160.8,748.3 162.1,748.6 163.5,748.9 164.8,749.1 166.2,749.4 167.6,749.6 169.0,749.9 170.4,750.1 171.8,750.3 173.2,750.6 174.7,750.8 176.2,751.0 177.7,751.2 179.2,751.4 180.7,751.6 182.2,751.8 183.7,752.0 185.3,752.2 186.8,752.4 188.4,752.5 190.0,752.7 191.6,752.9 193.3,753.0 194.9,753.2 196.5,753.3 198.2,753.5 199.9,753.6 201.6,753.8 203.3,753.9 205.0,754.1 206.7,754.2 208.5,754.3 210.3,754.5 212.0,754.6 213.8,754.7 215.6,754.8 217.5,754.9 219.3,755.1 221.2,755.2 223.0,755.3 224.9,755.4 226.8,755.5 228.7,755.6 230.6,755.7 232.6,755.8 234.5,755.9 236.5,756.0 238.5,756.1 240.5,756.2 242.5,756.3 244.5,756.4 246.6,756.5 248.6,756.5 250.7,756.6 252.8,756.7 254.9,756.8 257.0,756.9 259.1,756.9 261.3,757.0 263.4,757.1 265.6,757.2 267.8,757.2 270.0,757.3 272.2,757.4 274.5,757.4 276.7,757.5 279.0,757.6 281.3,757.6 283.5,757.7 285.9,757.8 288.2,757.8 290.5,757.9 292.9,757.9 295.2,758.0 297.6,758.1 300.0,758.1 302.4,758.2 304.9,758.2 307.3,758.3 309.8,758.3 312.3,758.4 314.7,758.4 317.3,758.5 319.8,758.5 322.3,758.6 324.9,758.6 327.4,758.7 330.0,758.7 332.6,758.7 335.2,758.8 337.9,758.8 340.5,758.9 343.2,758.9 345.8,759.0 348.5,759.0 351.2,759.0 353.9,759.1 356.7,759.1 359.4,759.1 362.2,759.2 365.0,759.2 367.8,759.3 370.6,759.3 373.4,759.3 376.3,759.4 379.1,759.4 382.0,759.4 384.9,759.5 387.8,759.5 390.7,759.5 393.7,759.5 396.6,759.6 399.6,759.6 402.6,759.6 405.6,759.7 408.6,759.7 411.6,759.7 414.7,759.7 417.7,759.8 420.8,759.8 423.9,759.8 427.0,759.8 430.2,759.9 433.3,759.9 436.5,759.9 439.6,759.9 442.8,760.0 446.0,760.0 449.3,760.0 452.5,760.0 455.7,760.1 459.0,760.1 462.3,760.1 465.6,760.1 468.9,760.1 472.3,760.2 475.6,760.2 479.0,760.2 482.4,760.2 485.7,760.2 489.2,760.2 492.6,760.3 496.0,760.3 499.5,760.3" stroke="#0000ff" stroke-width="2.7" stroke-dasharray="0 5.9" stroke-linecap="round"/>
<path d="M91.0,656.2 91.0,656.2 91.0,656.3 91.0,656.3 91.0,656.4 91.1,656.6 91.1,656.7 91.1,657.0 91.2,657.2 91.3,657.5 91.3,657.9 91.4,658.2 91.5,658.7 91.6,659.1 91.7,659.6 91.8,660.2 91.9,660.8 92.0,661.4 92.2,662.1 92.3,662.8 92.5,663.5 92.6,664.3 92.8,665.2 93.0,666.0 93.2,666.9 93.4,667.8 93.6,668.8 93.8,669.8 94.1,670.8 94.3,671.9 94.6,673.0 94.8,674.1 95.1,675.2 95.4,676.4 95.7,677.6 96.0,678.8 96.3,680.0 96.6,681.2 97.0,682.5 97.3,683.7 97.7,685.0 98.1,686.3 98.5,687.6 98.9,688.9 99.3,690.2 99.7,691.5 100.1,692.9 100.6,694.2 101.0,695.5 101.5,696.8 102.0,698.2 102.4,699.5 102.9,700.8 103.5,702.1 104.0,703.4 104.5,704.7 105.1,706.0 105.6,707.3 106.2,708.6 106.8,709.8 107.4,711.1 108.0,712.3 108.6,713.5 109.2,714.7 109.9,715.9 110.5,717.1 111.2,718.3 111.9,719.4 112.6,720.6 113.3,721.7 114.0,722.8 114.7,723.9 115.4,725.0 116.2,726.0 117.0,727.1 117.7,728.1 118.5,729.1 119.3,730.1 120.1,731.0 121.0,732.0 121.8,732.9 122.7,733.9 123.5,734.8 124.4,735.6 125.3,736.5 126.2,737.4 127.1,738.2 128.1,739.0 129.0,739.8 130.0,740.6 130.9,741.4 131.9,742.2 132.9,742.9 133.9,743.6 134.9,744.3 136.0,745.0 137.0,745.7 138.1,746.4 139.2,747.0 140.2,747.7 141.3,748.3 142.5,748.9 143.6,749.5 144.7,750.1 145.9,750.7 147.0,751.3 148.2,751.8 149.4,752.4 150.6,752.9 151.9,753.4 153.1,753.9 154.3,754.4 155.6,754.9 156.9,755.4 158.2,755.9 159.5,756.3 160.8,756.8 162.1,757.2 163.5,757.7 164.8,758.1 166.2,758.5 167.6,758.9 169.0,759.3 170.4,759.7 171.8,760.1 173.2,760.5 174.7,760.8 176.2,761.2 177.7,761.5 179.2,761.9 180.7,762.2 182.2,762.5 183.7,762.9 185.3,763.2 186.8,763.5 188.4,763.8 190.0,764.1 191.6,764.4 193.3,764.7 194.9,765.0 196.5,765.2 198.2,765.5 199.9,765.8 201.6,766.0 203.3,766.3 205.0,766.6 206.7,766.8 208.5,767.0 210.3,767.3 212.0,767.5 213.8,767.7 215.6,768.0 217.5,768.2 219.3,768.4 221.2,768.6 223.0,768.8 224.9,769.0 226.8,769.2 228.7,769.4 230.6,769.6 232.6,769.8 234.5,770.0 236.5,770.1 238.5,770.3 240.5,770.5 242.5,770.7 244.5,770.8 246.6,771.0 248.6,771.2 250.7,771.3 252.8,771.5 254.9,771.6 257.0,771.8 259.1,771.9 261.3,772.1 263.4,772.2 265.6,772.3 267.8,772.5 270.0,772.6 272.2,772.7 274.5,772.9 276.7,773.0 279.0,773.1 281.3,773.2 283.5,773.4 285.9,773.5 288.2,773.6 290.5,773.7 292.9,773.8 295.2,773.9 297.6,774.0 300.0,774.1 302.4,774.2 304.9,774.3 307.3,774.4 309.8,774.5 312.3,774.6 314.7,774.7 317.3,774.8 319.8,774.9 322.3,775.0 324.9,775.1 327.4,775.2 330.0,775.3 332.6,775.3 335.2,775.4 337.9,775.5 340.5,775.6 343.2,775.7 345.8,775.7 348.5,775.8 351.2,775.9 353.9,775.9 356.7,776.0 359.4,776.1 362.2,776.2 365.0,776.2 367.8,776.3 370.6,776.4 373.4,776.4 376.3,776.5 379.1,776.5 382.0,776.6 384.9,776.7 387.8,776.7 390.7,776.8 393.7,776.8 396.6,776.9 399.6,776.9 402.6,777.0 405.6,777.0 408.6,777.1 411.6,777.2 414.7,777.2 417.7,777.3 420.8,777.3 423.9,777.3 427.0,777.4 430.2,777.4 433.3,777.5 436.5,777.5 439.6,777.6 442.8,777.6 446.0,777.7 449.3,777.7 452.5,777.7 455.7,777.8 459.0,777.8 462.3,777.9 465.6,777.9 468.9,777.9 472.3,778.0 475.6,778.0 479.0,778.0 482.4,778.1 485.7,778.1 489.2,778.1 492.6,778.2 496.0,778.2 499.5,778.2" stroke="#0000ff" stroke-width="2.8"/>
<path d="M91.0,557.9 91.0,557.9 91.0,558.0 91.0,558.0 91.0,558.1 91.1,558.3 91.1,558.5 91.1,558.9 91.2,559.4 91.3,560.0 91.3,560.9 91.4,561.9 91.5,563.2 91.6,564.7 91.7,566.5 91.8,568.4 91.9,570.5 92.0,572.6 92.2,574.7 92.3,576.7 92.5,578.6 92.6,580.5 92.8,582.3 93.0,584.1 93.2,585.8 93.4,587.7 93.6,589.6 93.8,591.9 94.1,594.4 94.3,597.3 94.6,600.4 94.8,603.6 95.1,606.9 95.4,610.0 95.7,612.9 96.0,615.6 96.3,618.2 96.6,620.7 97.0,622.9 97.3,625.1 97.7,627.1 98.1,629.0 98.5,630.9 98.9,632.6 99.3,634.4 99.7,636.1 100.1,637.7 100.6,639.5 101.0,641.3 101.5,643.1 102.0,645.1 102.4,647.3 102.9,649.7 103.5,652.3 104.0,655.2 104.5,658.5 105.1,662.0 105.6,665.7 106.2,669.5 106.8,673.2 107.4,676.7 108.0,680.0 108.6,682.8 109.2,685.2 109.9,687.1 110.5,688.8 111.2,690.4 111.9,691.9 112.6,693.4 113.3,694.9 114.0,696.3 114.7,697.8 115.4,699.1 116.2,700.5 117.0,701.9 117.7,703.2 118.5,704.5 119.3,705.7 120.1,706.9 121.0,708.2 121.8,709.3 122.7,710.5 123.5,711.6 124.4,712.7 125.3,713.8 126.2,714.9 127.1,715.9 128.1,716.9 129.0,717.9 130.0,718.8 130.9,719.8 131.9,720.7 132.9,721.6 133.9,722.4 134.9,723.3 136.0,724.1 137.0,724.9 138.1,725.7 139.2,726.4 140.2,727.2 141.3,727.9 142.5,728.6 143.6,729.3 144.7,730.0 145.9,730.6 147.0,731.3 148.2,731.9 149.4,732.5 150.6,733.1 151.9,733.7 153.1,734.3 154.3,734.8 155.6,735.3 156.9,735.9 158.2,736.4 159.5,736.9 160.8,737.4 162.1,737.8 163.5,738.3 164.8,738.7 166.2,739.2 167.6,739.6 169.0,740.0 170.4,740.4 171.8,740.8 173.2,741.2 174.7,741.6 176.2,742.0 177.7,742.3 179.2,742.7 180.7,743.0 182.2,743.4 183.7,743.7 185.3,744.0 186.8,744.3 188.4,744.7 190.0,745.0 191.6,745.2 193.3,745.5 194.9,745.8 196.5,746.1 198.2,746.4 199.9,746.6 201.6,746.9 203.3,747.1 205.0,747.4 206.7,747.6 208.5,747.8 210.3,748.1 212.0,748.3 213.8,748.5 215.6,748.7 217.5,748.9 219.3,749.1 221.2,749.3 223.0,749.5 224.9,749.7 226.8,749.9 228.7,750.1 230.6,750.3 232.6,750.5 234.5,750.6 236.5,750.8 238.5,751.0 240.5,751.1 242.5,751.3 244.5,751.5 246.6,751.6 248.6,751.8 250.7,751.9 252.8,752.1 254.9,752.2 257.0,752.3 259.1,752.5 261.3,752.6 263.4,752.7 265.6,752.9 267.8,753.0 270.0,753.1 272.2,753.2 274.5,753.4 276.7,753.5 279.0,753.6 281.3,753.7 283.5,753.8 285.9,753.9 288.2,754.0 290.5,754.1 292.9,754.2 295.2,754.3 297.6,754.4 300.0,754.5 302.4,754.6 304.9,754.7 307.3,754.8 309.8,754.9 312.3,755.0 314.7,755.1 317.3,755.2 319.8,755.2 322.3,755.3 324.9,755.4 327.4,755.5 330.0,755.6 332.6,755.6 335.2,755.7 337.9,755.8 340.5,755.8 343.2,755.9 345.8,756.0 348.5,756.1 351.2,756.1 353.9,756.2 356.7,756.2 359.4,756.3 362.2,756.4 365.0,756.4 367.8,756.5 370.6,756.6 373.4,756.6 376.3,756.7 379.1,756.7 382.0,756.8 384.9,756.8 387.8,756.9 390.7,756.9 393.7,757.0 396.6,757.0 399.6,757.1 402.6,757.1 405.6,757.2 408.6,757.2 411.6,757.3 414.7,757.3 417.7,757.4 420.8,757.4 423.9,757.4 427.0,757.5 430.2,757.5 433.3,757.6 436.5,757.6 439.6,757.6 442.8,757.7 446.0,757.7 449.3,757.8 452.5,757.8 455.7,757.8 459.0,757.9 462.3,757.9 465.6,757.9 468.9,758.0 472.3,758.0 475.6,758.0 479.0,758.1 482.4,758.1 485.7,758.1 489.2,758.2 492.6,758.2 496.0,758.2 499.5,758.3" stroke="#ff00ff" stroke-width="2.7" stroke-dasharray="0 5.9" stroke-linecap="round"/>
<path d="M91.0,597.7 91.0,597.7 91.0,597.7 91.0,597.8 91.0,597.9 91.1,598.1 91.1,598.3 91.1,598.5 91.2,598.8 91.3,599.1 91.3,599.5 91.4,599.9 91.5,600.4 91.6,601.0 91.7,601.6 91.8,602.3 91.9,603.0 92.0,603.8 92.2,604.7 92.3,605.6 92.5,606.6 92.6,607.7 92.8,608.8 93.0,610.0 93.2,611.3 93.4,612.7 93.6,614.2 93.8,615.7 94.1,617.2 94.3,618.9 94.6,620.6 94.8,622.4 95.1,624.2 95.4,626.0 95.7,627.9 96.0,629.9 96.3,631.8 96.6,633.8 97.0,635.8 97.3,637.8 97.7,639.8 98.1,641.8 98.5,643.8 98.9,645.8 99.3,647.8 99.7,649.8 100.1,651.8 100.6,653.7 101.0,655.7 101.5,657.6 102.0,659.5 102.4,661.4 102.9,663.3 103.5,665.2 104.0,667.0 104.5,668.8 105.1,670.6 105.6,672.3 106.2,674.1 106.8,675.8 107.4,677.4 108.0,679.1 108.6,680.7 109.2,682.2 109.9,683.8 110.5,685.3 111.2,686.8 111.9,688.2 112.6,689.7 113.3,691.1 114.0,692.4 114.7,693.8 115.4,695.1 116.2,696.4 117.0,697.6 117.7,698.8 118.5,700.0 119.3,701.2 120.1,702.3 121.0,703.4 121.8,704.5 122.7,705.6 123.5,706.6 124.4,707.6 125.3,708.6 126.2,709.5 127.1,710.5 128.1,711.4 129.0,712.3 130.0,713.1 130.9,714.0 131.9,714.8 132.9,715.6 133.9,716.4 134.9,717.2 136.0,717.9 137.0,718.6 138.1,719.4 139.2,720.0 140.2,720.7 141.3,721.4 142.5,722.0 143.6,722.7 144.7,723.3 145.9,723.9 147.0,724.5 148.2,725.1 149.4,725.6 150.6,726.2 151.9,726.7 153.1,727.3 154.3,727.8 155.6,728.3 156.9,728.8 158.2,729.3 159.5,729.8 160.8,730.2 162.1,730.7 163.5,731.1 164.8,731.6 166.2,732.0 167.6,732.4 169.0,732.9 170.4,733.3 171.8,733.7 173.2,734.1 174.7,734.5 176.2,734.9 177.7,735.2 179.2,735.6 180.7,736.0 182.2,736.3 183.7,736.7 185.3,737.0 186.8,737.4 188.4,737.7 190.0,738.0 191.6,738.4 193.3,738.7 194.9,739.0 196.5,739.3 198.2,739.6 199.9,739.9 201.6,740.2 203.3,740.5 205.0,740.8 206.7,741.1 208.5,741.4 210.3,741.6 212.0,741.9 213.8,742.2 215.6,742.4 217.5,742.7 219.3,743.0 221.2,743.2 223.0,743.5 224.9,743.7 226.8,743.9 228.7,744.2 230.6,744.4 232.6,744.6 234.5,744.9 236.5,745.1 238.5,745.3 240.5,745.5 242.5,745.7 244.5,745.9 246.6,746.1 248.6,746.4 250.7,746.6 252.8,746.8 254.9,746.9 257.0,747.1 259.1,747.3 261.3,747.5 263.4,747.7 265.6,747.9 267.8,748.1 270.0,748.2 272.2,748.4 274.5,748.6 276.7,748.7 279.0,748.9 281.3,749.1 283.5,749.2 285.9,749.4 288.2,749.5 290.5,749.7 292.9,749.8 295.2,750.0 297.6,750.1 300.0,750.3 302.4,750.4 304.9,750.6 307.3,750.7 309.8,750.8 312.3,751.0 314.7,751.1 317.3,751.2 319.8,751.3 322.3,751.5 324.9,751.6 327.4,751.7 330.0,751.8 332.6,751.9 335.2,752.1 337.9,752.2 340.5,752.3 343.2,752.4 345.8,752.5 348.5,752.6 351.2,752.7 353.9,752.8 356.7,752.9 359.4,753.0 362.2,753.1 365.0,753.2 367.8,753.3 370.6,753.4 373.4,753.5 376.3,753.6 379.1,753.7 382.0,753.8 384.9,753.9 387.8,753.9 390.7,754.0 393.7,754.1 396.6,754.2 399.6,754.3 402.6,754.4 405.6,754.4 408.6,754.5 411.6,754.6 414.7,754.7 417.7,754.7 420.8,754.8 423.9,754.9 427.0,754.9 430.2,755.0 433.3,755.1 436.5,755.1 439.6,755.2 442.8,755.3 446.0,755.3 449.3,755.4 452.5,755.5 455.7,755.5 459.0,755.6 462.3,755.6 465.6,755.7 468.9,755.8 472.3,755.8 475.6,755.9 479.0,755.9 482.4,756.0 485.7,756.0 489.2,756.1 492.6,756.1 496.0,756.2 499.5,756.2" stroke="#ff00ff" stroke-width="2.8"/>
<path d="M91.0,537.2 91.0,537.2 91.0,537.3 91.0,537.4 91.0,537.6 91.1,537.8 91.1,538.1 91.1,538.6 91.2,539.1 91.3,539.8 91.3,540.7 91.4,541.7 91.5,542.9 91.6,544.3 91.7,545.8 91.8,547.6 91.9,549.4 92.0,551.5 92.2,553.5 92.3,555.7 92.5,557.9 92.6,560.1 92.8,562.4 93.0,564.7 93.2,567.1 93.4,569.4 93.6,571.8 93.8,574.2 94.1,576.6 94.3,579.1 94.6,581.6 94.8,584.0 95.1,586.5 95.4,589.1 95.7,591.6 96.0,594.1 96.3,596.7 96.6,599.3 97.0,601.9 97.3,604.5 97.7,607.1 98.1,609.7 98.5,612.3 98.9,614.9 99.3,617.5 99.7,620.1 100.1,622.7 100.6,625.3 101.0,627.8 101.5,630.4 102.0,632.9 102.4,635.4 102.9,637.9 103.5,640.3 104.0,642.7 104.5,645.2 105.1,647.5 105.6,649.9 106.2,652.2 106.8,654.5 107.4,656.7 108.0,658.9 108.6,661.1 109.2,663.2 109.9,665.3 110.5,667.4 111.2,669.4 111.9,671.4 112.6,673.3 113.3,675.2 114.0,677.1 114.7,678.9 115.4,680.7 116.2,682.4 117.0,684.1 117.7,685.8 118.5,687.4 119.3,689.0 120.1,690.5 121.0,692.0 121.8,693.5 122.7,694.9 123.5,696.3 124.4,697.7 125.3,699.0 126.2,700.3 127.1,701.5 128.1,702.8 129.0,704.0 130.0,705.1 130.9,706.2 131.9,707.3 132.9,708.4 133.9,709.4 134.9,710.5 136.0,711.4 137.0,712.4 138.1,713.3 139.2,714.2 140.2,715.1 141.3,716.0 142.5,716.8 143.6,717.6 144.7,718.4 145.9,719.2 147.0,720.0 148.2,720.7 149.4,721.4 150.6,722.1 151.9,722.8 153.1,723.5 154.3,724.1 155.6,724.8 156.9,725.4 158.2,726.0 159.5,726.6 160.8,727.1 162.1,727.7 163.5,728.2 164.8,728.8 166.2,729.3 167.6,729.8 169.0,730.3 170.4,730.8 171.8,731.3 173.2,731.7 174.7,732.2 176.2,732.7 177.7,733.1 179.2,733.5 180.7,733.9 182.2,734.4 183.7,734.8 185.3,735.1 186.8,735.5 188.4,735.9 190.0,736.3 191.6,736.6 193.3,737.0 194.9,737.4 196.5,737.7 198.2,738.0 199.9,738.4 201.6,738.7 203.3,739.0 205.0,739.3 206.7,739.6 208.5,739.9 210.3,740.2 212.0,740.5 213.8,740.8 215.6,741.1 217.5,741.3 219.3,741.6 221.2,741.9 223.0,742.1 224.9,742.4 226.8,742.6 228.7,742.9 230.6,743.1 232.6,743.4 234.5,743.6 236.5,743.8 238.5,744.1 240.5,744.3 242.5,744.5 244.5,744.7 246.6,744.9 248.6,745.1 250.7,745.3 252.8,745.5 254.9,745.7 257.0,745.9 259.1,746.1 261.3,746.3 263.4,746.5 265.6,746.7 267.8,746.8 270.0,747.0 272.2,747.2 274.5,747.4 276.7,747.5 279.0,747.7 281.3,747.8 283.5,748.0 285.9,748.2 288.2,748.3 290.5,748.5 292.9,748.6 295.2,748.8 297.6,748.9 300.0,749.0 302.4,749.2 304.9,749.3 307.3,749.4 309.8,749.6 312.3,749.7 314.7,749.8 317.3,750.0 319.8,750.1 322.3,750.2 324.9,750.3 327.4,750.4 330.0,750.6 332.6,750.7 335.2,750.8 337.9,750.9 340.5,751.0 343.2,751.1 345.8,751.2 348.5,751.3 351.2,751.4 353.9,751.5 356.7,751.6 359.4,751.7 362.2,751.8 365.0,751.9 367.8,752.0 370.6,752.1 373.4,752.2 376.3,752.3 379.1,752.3 382.0,752.4 384.9,752.5 387.8,752.6 390.7,752.7 393.7,752.7 396.6,752.8 399.6,752.9 402.6,753.0 405.6,753.0 408.6,753.1 411.6,753.2 414.7,753.3 417.7,753.3 420.8,753.4 423.9,753.5 427.0,753.5 430.2,753.6 433.3,753.7 436.5,753.7 439.6,753.8 442.8,753.9 446.0,753.9 449.3,754.0 452.5,754.0 455.7,754.1 459.0,754.1 462.3,754.2 465.6,754.3 468.9,754.3 472.3,754.4 475.6,754.4 479.0,754.5 482.4,754.5 485.7,754.6 489.2,754.6 492.6,754.7 496.0,754.7 499.5,754.8" stroke="#808000" stroke-width="2.7" stroke-dasharray="0 5.9" stroke-linecap="round"/>
<path d="M91.0,588.0 91.0,588.0 91.0,588.0 91.0,588.0 91.0,588.1 91.1,588.2 91.1,588.3 91.1,588.4 91.2,588.5 91.3,588.7 91.3,588.9 91.4,589.1 91.5,589.4 91.6,589.6 91.7,589.9 91.8,590.3 91.9,590.6 92.0,591.0 92.2,591.4 92.3,591.9 92.5,592.4 92.6,592.9 92.8,593.5 93.0,594.1 93.2,594.7 93.4,595.4 93.6,596.1 93.8,596.9 94.1,597.7 94.3,598.6 94.6,599.5 94.8,600.4 95.1,601.4 95.4,602.4 95.7,603.5 96.0,604.6 96.3,605.8 96.6,607.0 97.0,608.3 97.3,609.6 97.7,610.9 98.1,612.3 98.5,613.8 98.9,615.3 99.3,616.8 99.7,618.4 100.1,620.0 100.6,621.6 101.0,623.3 101.5,625.0 102.0,626.8 102.4,628.5 102.9,630.3 103.5,632.2 104.0,634.0 104.5,635.9 105.1,637.7 105.6,639.6 106.2,641.5 106.8,643.4 107.4,645.3 108.0,647.3 108.6,649.2 109.2,651.1 109.9,653.0 110.5,654.9 111.2,656.7 111.9,658.6 112.6,660.4 113.3,662.2 114.0,664.0 114.7,665.8 115.4,667.5 116.2,669.2 117.0,670.9 117.7,672.5 118.5,674.1 119.3,675.7 120.1,677.2 121.0,678.7 121.8,680.1 122.7,681.5 123.5,682.9 124.4,684.2 125.3,685.5 126.2,686.8 127.1,688.0 128.1,689.2 129.0,690.4 130.0,691.5 130.9,692.7 131.9,693.7 132.9,694.8 133.9,695.8 134.9,696.8 136.0,697.8 137.0,698.7 138.1,699.6 139.2,700.5 140.2,701.4 141.3,702.2 142.5,703.1 143.6,703.9 144.7,704.7 145.9,705.4 147.0,706.2 148.2,706.9 149.4,707.6 150.6,708.3 151.9,709.0 153.1,709.6 154.3,710.2 155.6,710.9 156.9,711.5 158.2,712.1 159.5,712.6 160.8,713.2 162.1,713.8 163.5,714.3 164.8,714.8 166.2,715.3 167.6,715.8 169.0,716.3 170.4,716.8 171.8,717.3 173.2,717.7 174.7,718.2 176.2,718.6 177.7,719.1 179.2,719.5 180.7,719.9 182.2,720.3 183.7,720.7 185.3,721.1 186.8,721.5 188.4,721.8 190.0,722.2 191.6,722.5 193.3,722.9 194.9,723.2 196.5,723.6 198.2,723.9 199.9,724.2 201.6,724.6 203.3,724.9 205.0,725.2 206.7,725.5 208.5,725.8 210.3,726.1 212.0,726.3 213.8,726.6 215.6,726.9 217.5,727.2 219.3,727.4 221.2,727.7 223.0,727.9 224.9,728.2 226.8,728.4 228.7,728.7 230.6,728.9 232.6,729.1 234.5,729.4 236.5,729.6 238.5,729.8 240.5,730.0 242.5,730.2 244.5,730.5 246.6,730.7 248.6,730.9 250.7,731.1 252.8,731.3 254.9,731.4 257.0,731.6 259.1,731.8 261.3,732.0 263.4,732.2 265.6,732.4 267.8,732.5 270.0,732.7 272.2,732.9 274.5,733.0 276.7,733.2 279.0,733.4 281.3,733.5 283.5,733.7 285.9,733.8 288.2,734.0 290.5,734.1 292.9,734.3 295.2,734.4 297.6,734.5 300.0,734.7 302.4,734.8 304.9,735.0 307.3,735.1 309.8,735.2 312.3,735.3 314.7,735.5 317.3,735.6 319.8,735.7 322.3,735.8 324.9,735.9 327.4,736.1 330.0,736.2 332.6,736.3 335.2,736.4 337.9,736.5 340.5,736.6 343.2,736.7 345.8,736.8 348.5,736.9 351.2,737.0 353.9,737.1 356.7,737.2 359.4,737.3 362.2,737.4 365.0,737.5 367.8,737.6 370.6,737.7 373.4,737.7 376.3,737.8 379.1,737.9 382.0,738.0 384.9,738.1 387.8,738.2 390.7,738.2 393.7,738.3 396.6,738.4 399.6,738.5 402.6,738.5 405.6,738.6 408.6,738.7 411.6,738.7 414.7,738.8 417.7,738.9 420.8,738.9 423.9,739.0 427.0,739.1 430.2,739.1 433.3,739.2 436.5,739.3 439.6,739.3 442.8,739.4 446.0,739.4 449.3,739.5 452.5,739.6 455.7,739.6 459.0,739.7 462.3,739.7 465.6,739.8 468.9,739.8 472.3,739.9 475.6,739.9 479.0,740.0 482.4,740.0 485.7,740.1 489.2,740.1 492.6,740.2 496.0,740.2 499.5,740.3" stroke="#808000" stroke-width="2.8"/>
</g>
<line x1="91.0" y1="498.8" x2="499.5" y2="498.8" stroke="#7a7a7a" stroke-width="1.6"/>
<line x1="499.5" y1="498.8" x2="499.5" y2="889.3" stroke="#555" stroke-width="1.6"/>
<line x1="91.0" y1="498.8" x2="91.0" y2="889.3" stroke="#999" stroke-width="2"/>
<line x1="85.2" y1="498.8" x2="91.0" y2="498.8" stroke="#999" stroke-width="1.2"/>
<line x1="131.85" y1="498.8" x2="131.85" y2="501.8" stroke="#333" stroke-width="1"/>
<line x1="496.5" y1="537.27" x2="499.5" y2="537.27" stroke="#222" stroke-width="1"/>
<line x1="172.70" y1="498.8" x2="172.70" y2="503.8" stroke="#333" stroke-width="1"/>
<line x1="494.5" y1="575.74" x2="499.5" y2="575.74" stroke="#222" stroke-width="1"/>
<line x1="213.55" y1="498.8" x2="213.55" y2="501.8" stroke="#333" stroke-width="1"/>
<line x1="496.5" y1="614.21" x2="499.5" y2="614.21" stroke="#222" stroke-width="1"/>
<line x1="254.40" y1="498.8" x2="254.40" y2="503.8" stroke="#333" stroke-width="1"/>
<line x1="494.5" y1="652.68" x2="499.5" y2="652.68" stroke="#222" stroke-width="1"/>
<line x1="295.25" y1="498.8" x2="295.25" y2="501.8" stroke="#333" stroke-width="1"/>
<line x1="496.5" y1="691.15" x2="499.5" y2="691.15" stroke="#222" stroke-width="1"/>
<line x1="336.10" y1="498.8" x2="336.10" y2="503.8" stroke="#333" stroke-width="1"/>
<line x1="494.5" y1="729.62" x2="499.5" y2="729.62" stroke="#222" stroke-width="1"/>
<line x1="376.95" y1="498.8" x2="376.95" y2="501.8" stroke="#333" stroke-width="1"/>
<line x1="496.5" y1="768.09" x2="499.5" y2="768.09" stroke="#222" stroke-width="1"/>
<line x1="417.80" y1="498.8" x2="417.80" y2="503.8" stroke="#333" stroke-width="1"/>
<line x1="494.5" y1="806.56" x2="499.5" y2="806.56" stroke="#222" stroke-width="1"/>
<line x1="458.65" y1="498.8" x2="458.65" y2="501.8" stroke="#333" stroke-width="1"/>
<line x1="496.5" y1="845.03" x2="499.5" y2="845.03" stroke="#222" stroke-width="1"/>
<line x1="91.00" y1="883.5" x2="91.00" y2="889.3" stroke="#222" stroke-width="1.2"/>
<text x="91.00" y="909.20" font-size="19" font-weight="bold" text-anchor="middle" >200</text>
<line x1="159.08" y1="883.5" x2="159.08" y2="889.3" stroke="#222" stroke-width="1.2"/>
<text x="159.08" y="909.20" font-size="19" font-weight="bold" text-anchor="middle" >350</text>
<line x1="227.17" y1="883.5" x2="227.17" y2="889.3" stroke="#222" stroke-width="1.2"/>
<text x="227.17" y="909.20" font-size="19" font-weight="bold" text-anchor="middle" >500</text>
<line x1="295.25" y1="883.5" x2="295.25" y2="889.3" stroke="#222" stroke-width="1.2"/>
<text x="295.25" y="909.20" font-size="19" font-weight="bold" text-anchor="middle" >650</text>
<line x1="363.33" y1="883.5" x2="363.33" y2="889.3" stroke="#222" stroke-width="1.2"/>
<text x="363.33" y="909.20" font-size="19" font-weight="bold" text-anchor="middle" >800</text>
<line x1="431.42" y1="883.5" x2="431.42" y2="889.3" stroke="#222" stroke-width="1.2"/>
<text x="431.42" y="909.20" font-size="19" font-weight="bold" text-anchor="middle" >950</text>
<line x1="499.50" y1="883.5" x2="499.50" y2="889.3" stroke="#222" stroke-width="1.2"/>
<text x="499.50" y="909.20" font-size="19" font-weight="bold" text-anchor="middle" >1100</text>
<line x1="125.04" y1="883.5" x2="125.04" y2="886.5" stroke="#333" stroke-width="1"/>
<line x1="193.12" y1="883.5" x2="193.12" y2="886.5" stroke="#333" stroke-width="1"/>
<line x1="261.21" y1="883.5" x2="261.21" y2="886.5" stroke="#333" stroke-width="1"/>
<line x1="329.29" y1="883.5" x2="329.29" y2="886.5" stroke="#333" stroke-width="1"/>
<line x1="397.38" y1="883.5" x2="397.38" y2="886.5" stroke="#333" stroke-width="1"/>
<line x1="465.46" y1="883.5" x2="465.46" y2="886.5" stroke="#333" stroke-width="1"/>
<line x1="85.2" y1="853.91" x2="91.0" y2="853.91" stroke="#222" stroke-width="1.2"/>
<text x="79.70" y="859.81" font-size="19" font-weight="bold" text-anchor="end" >1.5</text>
<line x1="85.2" y1="794.72" x2="91.0" y2="794.72" stroke="#222" stroke-width="1.2"/>
<text x="79.70" y="800.62" font-size="19" font-weight="bold" text-anchor="end" >1.7</text>
<line x1="85.2" y1="735.54" x2="91.0" y2="735.54" stroke="#222" stroke-width="1.2"/>
<text x="79.70" y="741.44" font-size="19" font-weight="bold" text-anchor="end" >1.9</text>
<line x1="85.2" y1="676.35" x2="91.0" y2="676.35" stroke="#222" stroke-width="1.2"/>
<text x="79.70" y="682.25" font-size="19" font-weight="bold" text-anchor="end" >2.1</text>
<line x1="85.2" y1="617.17" x2="91.0" y2="617.17" stroke="#222" stroke-width="1.2"/>
<text x="79.70" y="623.07" font-size="19" font-weight="bold" text-anchor="end" >2.3</text>
<line x1="85.2" y1="557.98" x2="91.0" y2="557.98" stroke="#222" stroke-width="1.2"/>
<text x="79.70" y="563.88" font-size="19" font-weight="bold" text-anchor="end" >2.5</text>
<line x1="85.2" y1="498.80" x2="91.0" y2="498.80" stroke="#222" stroke-width="1.2"/>
<text x="79.70" y="504.70" font-size="19" font-weight="bold" text-anchor="end" >2.7</text>
<line x1="88.0" y1="883.50" x2="91.0" y2="883.50" stroke="#333" stroke-width="1"/>
<line x1="88.0" y1="824.32" x2="91.0" y2="824.32" stroke="#333" stroke-width="1"/>
<line x1="88.0" y1="765.13" x2="91.0" y2="765.13" stroke="#333" stroke-width="1"/>
<line x1="88.0" y1="705.95" x2="91.0" y2="705.95" stroke="#333" stroke-width="1"/>
<line x1="88.0" y1="646.76" x2="91.0" y2="646.76" stroke="#333" stroke-width="1"/>
<line x1="88.0" y1="587.58" x2="91.0" y2="587.58" stroke="#333" stroke-width="1"/>
<line x1="88.0" y1="528.39" x2="91.0" y2="528.39" stroke="#333" stroke-width="1"/>
<text x="295.45" y="941.10" font-size="19" font-weight="bold" text-anchor="middle" >Wavelength [nm]</text>
<text x="0" y="0" font-size="19" font-weight="bold" text-anchor="middle" transform="translate(39.60,683.80) rotate(-90)">Refractive index</text>
<text x="15.60" y="502.60" font-size="15.5" font-weight="normal" text-anchor="start" stroke="#000" stroke-width="0.35" letter-spacing="0.9">(b)</text>
<rect x="348.1" y="503.9" width="146.5" height="182.20000000000005" fill="#fff" stroke="#b4b4b4" stroke-width="1"/>
<line x1="350.0" y1="511.80" x2="376.3" y2="511.80" stroke="#000000" stroke-width="2.8" stroke-linecap="round"/>
<text x="379.60" y="515.60" font-size="11.5" font-weight="normal" text-anchor="start" letter-spacing="0.3" stroke="#000" stroke-width="0.3">SiO<tspan dy="3.9">2</tspan><tspan dy="-3.9">=3016 Cycles</tspan></text>
<line x1="350.0" y1="529.90" x2="376.3" y2="529.90" stroke="#ff0000" stroke-width="2.8" stroke-linecap="round"/>
<text x="379.60" y="533.70" font-size="11.5" font-weight="normal" text-anchor="start" letter-spacing="0.3" stroke="#000" stroke-width="0.3">HfO<tspan dy="3.9">2</tspan><tspan dy="-3.9">=1524 Cycles</tspan></text>
<line x1="350.3" y1="548.00" x2="377.5" y2="548.00" stroke="#00ff00" stroke-width="2.8" stroke-dasharray="0 5.1" stroke-linecap="round"/>
<text x="379.60" y="551.80" font-size="11.5" font-weight="normal" text-anchor="start" letter-spacing="0.3" stroke="#000" stroke-width="0.3">SiO<tspan dy="3.9">2</tspan><tspan dy="-3.9">:HfO</tspan><tspan dy="3.9">2</tspan><tspan dy="-3.9">=[4:2]*30</tspan></text>
<line x1="350.0" y1="566.10" x2="376.3" y2="566.10" stroke="#00ff00" stroke-width="2.8" stroke-linecap="round"/>
<text x="379.60" y="569.90" font-size="11.5" font-weight="normal" text-anchor="start" letter-spacing="0.3" stroke="#000" stroke-width="0.3">SiO<tspan dy="3.9">2</tspan><tspan dy="-3.9">:HfO</tspan><tspan dy="3.9">2</tspan><tspan dy="-3.9">=[4:2]*465</tspan></text>
<line x1="350.3" y1="584.20" x2="377.5" y2="584.20" stroke="#0000ff" stroke-width="2.8" stroke-dasharray="0 5.1" stroke-linecap="round"/>
<text x="379.60" y="588.00" font-size="11.5" font-weight="normal" text-anchor="start" letter-spacing="0.3" stroke="#000" stroke-width="0.3">SiO<tspan dy="3.9">2</tspan><tspan dy="-3.9">:HfO</tspan><tspan dy="3.9">2</tspan><tspan dy="-3.9">=[4:4]*21</tspan></text>
<line x1="350.0" y1="602.30" x2="376.3" y2="602.30" stroke="#0000ff" stroke-width="2.8" stroke-linecap="round"/>
<text x="379.60" y="606.10" font-size="11.5" font-weight="normal" text-anchor="start" letter-spacing="0.3" stroke="#000" stroke-width="0.3">SiO<tspan dy="3.9">2</tspan><tspan dy="-3.9">:HfO</tspan><tspan dy="3.9">2</tspan><tspan dy="-3.9">=[4:4]*315</tspan></text>
<line x1="350.3" y1="620.40" x2="377.5" y2="620.40" stroke="#ff00ff" stroke-width="2.8" stroke-dasharray="0 5.1" stroke-linecap="round"/>
<text x="379.60" y="624.20" font-size="11.5" font-weight="normal" text-anchor="start" letter-spacing="0.3" stroke="#000" stroke-width="0.3">SiO<tspan dy="3.9">2</tspan><tspan dy="-3.9">:HfO</tspan><tspan dy="3.9">2</tspan><tspan dy="-3.9">=[4:8]*15</tspan></text>
<line x1="350.0" y1="638.50" x2="376.3" y2="638.50" stroke="#ff00ff" stroke-width="2.8" stroke-linecap="round"/>
<text x="379.60" y="642.30" font-size="11.5" font-weight="normal" text-anchor="start" letter-spacing="0.3" stroke="#000" stroke-width="0.3">SiO<tspan dy="3.9">2</tspan><tspan dy="-3.9">:HfO</tspan><tspan dy="3.9">2</tspan><tspan dy="-3.9">=[4:8]*160</tspan></text>
<line x1="350.3" y1="656.60" x2="377.5" y2="656.60" stroke="#808000" stroke-width="2.8" stroke-dasharray="0 5.1" stroke-linecap="round"/>
<text x="379.60" y="660.40" font-size="11.5" font-weight="normal" text-anchor="start" letter-spacing="0.3" stroke="#000" stroke-width="0.3">SiO<tspan dy="3.9">2</tspan><tspan dy="-3.9">:HfO</tspan><tspan dy="3.9">2</tspan><tspan dy="-3.9">=[4:16]*8</tspan></text>
<line x1="350.0" y1="674.70" x2="376.3" y2="674.70" stroke="#808000" stroke-width="2.8" stroke-linecap="round"/>
<text x="379.60" y="678.50" font-size="11.5" font-weight="normal" text-anchor="start" letter-spacing="0.3" stroke="#000" stroke-width="0.3">SiO<tspan dy="3.9">2</tspan><tspan dy="-3.9">:HfO</tspan><tspan dy="3.9">2</tspan><tspan dy="-3.9">=[4:16]*87</tspan></text>
<line x1="88.0" y1="1357.3" x2="500.4" y2="1357.3" stroke="#444" stroke-width="1.6"/>
<clipPath id="clipc"><rect x="91.0" y="971.4" width="409.4" height="385.9"/></clipPath>
<g clip-path="url(#clipc)" fill="none" stroke-linejoin="round">
<path d="M91.0,1305.2 91.0,1305.2 91.0,1305.2 91.0,1305.3 91.0,1305.3 91.1,1305.3 91.1,1305.4 91.1,1305.5 91.2,1305.6 91.3,1305.7 91.3,1305.8 91.4,1305.9 91.5,1306.1 91.6,1306.2 91.7,1306.4 91.8,1306.6 91.9,1306.8 92.0,1307.0 92.2,1307.2 92.3,1307.4 92.5,1307.7 92.6,1308.0 92.8,1308.2 93.0,1308.5 93.2,1308.8 93.4,1309.1 93.6,1309.5 93.8,1309.8 94.1,1310.1 94.3,1310.5 94.6,1310.9 94.8,1311.2 95.1,1311.6 95.4,1312.0 95.7,1312.4 96.0,1312.8 96.3,1313.2 96.7,1313.6 97.0,1314.1 97.4,1314.5 97.7,1314.9 98.1,1315.4 98.5,1315.8 98.9,1316.2 99.3,1316.7 99.7,1317.1 100.1,1317.6 100.6,1318.0 101.0,1318.4 101.5,1318.9 102.0,1319.3 102.5,1319.8 103.0,1320.2 103.5,1320.7 104.0,1321.1 104.5,1321.5 105.1,1322.0 105.6,1322.4 106.2,1322.8 106.8,1323.2 107.4,1323.6 108.0,1324.1 108.6,1324.5 109.3,1324.9 109.9,1325.3 110.6,1325.6 111.2,1326.0 111.9,1326.4 112.6,1326.8 113.3,1327.1 114.0,1327.5 114.7,1327.9 115.5,1328.2 116.2,1328.5 117.0,1328.9 117.8,1329.2 118.6,1329.5 119.4,1329.8 120.2,1330.1 121.0,1330.4 121.9,1330.7 122.7,1331.0 123.6,1331.3 124.5,1331.6 125.4,1331.8 126.3,1332.1 127.2,1332.4 128.1,1332.6 129.1,1332.8 130.0,1333.1 131.0,1333.3 132.0,1333.5 133.0,1333.8 134.0,1334.0 135.0,1334.2 136.1,1334.4 137.1,1334.6 138.2,1334.8 139.3,1334.9 140.3,1335.1 141.5,1335.3 142.6,1335.5 143.7,1335.6 144.8,1335.8 146.0,1335.9 147.2,1336.1 148.4,1336.2 149.6,1336.4 150.8,1336.5 152.0,1336.6 153.2,1336.8 154.5,1336.9 155.7,1337.0 157.0,1337.1 158.3,1337.3 159.6,1337.4 160.9,1337.5 162.3,1337.6 163.6,1337.7 165.0,1337.8 166.4,1337.9 167.7,1338.0 169.1,1338.0 170.6,1338.1 172.0,1338.2 173.4,1338.3 174.9,1338.4 176.4,1338.4 177.8,1338.5 179.3,1338.6 180.9,1338.7 182.4,1338.7 183.9,1338.8 185.5,1338.8 187.1,1338.9 188.6,1339.0 190.2,1339.0 191.8,1339.1 193.5,1339.1 195.1,1339.2 196.8,1339.2 198.4,1339.3 200.1,1339.3 201.8,1339.4 203.5,1339.4 205.3,1339.5 207.0,1339.5 208.8,1339.5 210.5,1339.6 212.3,1339.6 214.1,1339.6 215.9,1339.7 217.7,1339.7 219.6,1339.7 221.4,1339.8 223.3,1339.8 225.2,1339.8 227.1,1339.9 229.0,1339.9 230.9,1339.9 232.9,1339.9 234.8,1340.0 236.8,1340.0 238.8,1340.0 240.8,1340.0 242.8,1340.1 244.9,1340.1 246.9,1340.1 249.0,1340.1 251.0,1340.1 253.1,1340.2 255.2,1340.2 257.4,1340.2 259.5,1340.2 261.6,1340.2 263.8,1340.3 266.0,1340.3 268.2,1340.3 270.4,1340.3 272.6,1340.3 274.9,1340.3 277.1,1340.3 279.4,1340.4 281.7,1340.4 284.0,1340.4 286.3,1340.4 288.6,1340.4 291.0,1340.4 293.3,1340.4 295.7,1340.4 298.1,1340.5 300.5,1340.5 302.9,1340.5 305.3,1340.5 307.8,1340.5 310.3,1340.5 312.7,1340.5 315.2,1340.5 317.8,1340.5 320.3,1340.5 322.8,1340.5 325.4,1340.6 328.0,1340.6 330.5,1340.6 333.1,1340.6 335.8,1340.6 338.4,1340.6 341.0,1340.6 343.7,1340.6 346.4,1340.6 349.1,1340.6 351.8,1340.6 354.5,1340.6 357.3,1340.6 360.0,1340.6 362.8,1340.6 365.6,1340.6 368.4,1340.7 371.2,1340.7 374.1,1340.7 376.9,1340.7 379.8,1340.7 382.7,1340.7 385.6,1340.7 388.5,1340.7 391.4,1340.7 394.3,1340.7 397.3,1340.7 400.3,1340.7 403.3,1340.7 406.3,1340.7 409.3,1340.7 412.3,1340.7 415.4,1340.7 418.5,1340.7 421.6,1340.7 424.7,1340.7 427.8,1340.7 430.9,1340.7 434.1,1340.7 437.2,1340.7 440.4,1340.7 443.6,1340.7 446.8,1340.8 450.0,1340.8 453.3,1340.8 456.5,1340.8 459.8,1340.8 463.1,1340.8 466.4,1340.8 469.8,1340.8 473.1,1340.8 476.5,1340.8 479.8,1340.8 483.2,1340.8 486.6,1340.8 490.0,1340.8 493.5,1340.8 496.9,1340.8 500.4,1340.8" stroke="#000000" stroke-width="2.8"/>
<path d="M91.0,951.7 91.0,951.7 91.0,951.9 91.0,952.3 91.0,952.7 91.1,953.4 91.1,954.2 91.1,955.2 91.2,956.4 91.3,957.8 91.3,959.3 91.4,961.0 91.5,962.8 91.6,964.8 91.7,966.9 91.8,969.2 91.9,971.6 92.0,974.1 92.2,976.6 92.3,979.3 92.5,982.0 92.6,984.9 92.8,987.7 93.0,990.6 93.2,993.5 93.4,996.5 93.6,999.5 93.8,1002.5 94.1,1005.5 94.3,1008.5 94.6,1011.5 94.8,1014.6 95.1,1017.7 95.4,1020.8 95.7,1024.0 96.0,1027.2 96.3,1030.4 96.7,1033.7 97.0,1037.0 97.4,1040.3 97.7,1043.7 98.1,1047.0 98.5,1050.3 98.9,1053.6 99.3,1056.9 99.7,1060.1 100.1,1063.4 100.6,1066.5 101.0,1069.7 101.5,1072.8 102.0,1075.8 102.5,1078.8 103.0,1081.7 103.5,1084.6 104.0,1087.5 104.5,1090.2 105.1,1093.0 105.6,1095.6 106.2,1098.2 106.8,1100.8 107.4,1103.2 108.0,1105.7 108.6,1108.0 109.3,1110.3 109.9,1112.6 110.6,1114.8 111.2,1116.9 111.9,1119.0 112.6,1121.0 113.3,1123.0 114.0,1124.9 114.7,1126.7 115.5,1128.6 116.2,1130.3 117.0,1132.1 117.8,1133.8 118.6,1135.4 119.4,1137.0 120.2,1138.6 121.0,1140.2 121.9,1141.7 122.7,1143.2 123.6,1144.6 124.5,1146.0 125.4,1147.4 126.3,1148.7 127.2,1150.0 128.1,1151.3 129.1,1152.6 130.0,1153.8 131.0,1155.0 132.0,1156.1 133.0,1157.3 134.0,1158.4 135.0,1159.4 136.1,1160.5 137.1,1161.5 138.2,1162.5 139.3,1163.4 140.3,1164.4 141.5,1165.3 142.6,1166.2 143.7,1167.1 144.8,1167.9 146.0,1168.7 147.2,1169.5 148.4,1170.3 149.6,1171.1 150.8,1171.8 152.0,1172.5 153.2,1173.2 154.5,1173.9 155.7,1174.6 157.0,1175.2 158.3,1175.9 159.6,1176.5 160.9,1177.1 162.3,1177.6 163.6,1178.2 165.0,1178.8 166.4,1179.3 167.7,1179.8 169.1,1180.3 170.6,1180.8 172.0,1181.3 173.4,1181.8 174.9,1182.2 176.4,1182.7 177.8,1183.1 179.3,1183.5 180.9,1183.9 182.4,1184.4 183.9,1184.7 185.5,1185.1 187.1,1185.5 188.6,1185.9 190.2,1186.2 191.8,1186.6 193.5,1186.9 195.1,1187.2 196.8,1187.5 198.4,1187.9 200.1,1188.2 201.8,1188.5 203.5,1188.8 205.3,1189.0 207.0,1189.3 208.8,1189.6 210.5,1189.8 212.3,1190.1 214.1,1190.4 215.9,1190.6 217.7,1190.8 219.6,1191.1 221.4,1191.3 223.3,1191.5 225.2,1191.7 227.1,1192.0 229.0,1192.2 230.9,1192.4 232.9,1192.6 234.8,1192.8 236.8,1193.0 238.8,1193.1 240.8,1193.3 242.8,1193.5 244.9,1193.7 246.9,1193.8 249.0,1194.0 251.0,1194.2 253.1,1194.3 255.2,1194.5 257.4,1194.6 259.5,1194.8 261.6,1194.9 263.8,1195.1 266.0,1195.2 268.2,1195.4 270.4,1195.5 272.6,1195.6 274.9,1195.7 277.1,1195.9 279.4,1196.0 281.7,1196.1 284.0,1196.2 286.3,1196.4 288.6,1196.5 291.0,1196.6 293.3,1196.7 295.7,1196.8 298.1,1196.9 300.5,1197.0 302.9,1197.1 305.3,1197.2 307.8,1197.3 310.3,1197.4 312.7,1197.5 315.2,1197.6 317.8,1197.7 320.3,1197.7 322.8,1197.8 325.4,1197.9 328.0,1198.0 330.5,1198.1 333.1,1198.2 335.8,1198.2 338.4,1198.3 341.0,1198.4 343.7,1198.5 346.4,1198.5 349.1,1198.6 351.8,1198.7 354.5,1198.7 357.3,1198.8 360.0,1198.9 362.8,1198.9 365.6,1199.0 368.4,1199.1 371.2,1199.1 374.1,1199.2 376.9,1199.2 379.8,1199.3 382.7,1199.4 385.6,1199.4 388.5,1199.5 391.4,1199.5 394.3,1199.6 397.3,1199.6 400.3,1199.7 403.3,1199.7 406.3,1199.8 409.3,1199.8 412.3,1199.9 415.4,1199.9 418.5,1200.0 421.6,1200.0 424.7,1200.0 427.8,1200.1 430.9,1200.1 434.1,1200.2 437.2,1200.2 440.4,1200.2 443.6,1200.3 446.8,1200.3 450.0,1200.4 453.3,1200.4 456.5,1200.4 459.8,1200.5 463.1,1200.5 466.4,1200.5 469.8,1200.6 473.1,1200.6 476.5,1200.6 479.8,1200.7 483.2,1200.7 486.6,1200.7 490.0,1200.8 493.5,1200.8 496.9,1200.8 500.4,1200.9" stroke="#ff0000" stroke-width="2.8"/>
<path d="M91.0,1226.3 91.0,1226.3 91.0,1226.3 91.0,1226.4 91.0,1226.4 91.1,1226.5 91.1,1226.6 91.1,1226.7 91.2,1226.8 91.3,1227.0 91.3,1227.1 91.4,1227.3 91.5,1227.6 91.6,1227.8 91.7,1228.1 91.8,1228.3 91.9,1228.6 92.0,1229.0 92.2,1229.3 92.3,1229.7 92.5,1230.1 92.6,1230.5 92.8,1230.9 93.0,1231.4 93.2,1231.8 93.4,1232.3 93.6,1232.8 93.8,1233.4 94.1,1233.9 94.3,1234.5 94.6,1235.0 94.8,1235.6 95.1,1236.2 95.4,1236.9 95.7,1237.5 96.0,1238.2 96.3,1238.8 96.7,1239.5 97.0,1240.2 97.4,1240.9 97.7,1241.6 98.1,1242.3 98.5,1243.0 98.9,1243.8 99.3,1244.5 99.7,1245.3 100.1,1246.0 100.6,1246.8 101.0,1247.5 101.5,1248.3 102.0,1249.1 102.5,1249.8 103.0,1250.6 103.5,1251.4 104.0,1252.1 104.5,1252.9 105.1,1253.7 105.6,1254.5 106.2,1255.2 106.8,1256.0 107.4,1256.7 108.0,1257.5 108.6,1258.3 109.3,1259.0 109.9,1259.8 110.6,1260.5 111.2,1261.2 111.9,1262.0 112.6,1262.7 113.3,1263.4 114.0,1264.1 114.7,1264.8 115.5,1265.5 116.2,1266.2 117.0,1266.9 117.8,1267.6 118.6,1268.2 119.4,1268.9 120.2,1269.5 121.0,1270.2 121.9,1270.8 122.7,1271.5 123.6,1272.1 124.5,1272.7 125.4,1273.3 126.3,1273.9 127.2,1274.4 128.1,1275.0 129.1,1275.6 130.0,1276.1 131.0,1276.7 132.0,1277.2 133.0,1277.7 134.0,1278.3 135.0,1278.8 136.1,1279.3 137.1,1279.8 138.2,1280.2 139.3,1280.7 140.3,1281.2 141.5,1281.7 142.6,1282.1 143.7,1282.5 144.8,1283.0 146.0,1283.4 147.2,1283.8 148.4,1284.2 149.6,1284.6 150.8,1285.0 152.0,1285.4 153.2,1285.8 154.5,1286.2 155.7,1286.5 157.0,1286.9 158.3,1287.2 159.6,1287.6 160.9,1287.9 162.3,1288.2 163.6,1288.6 165.0,1288.9 166.4,1289.2 167.7,1289.5 169.1,1289.8 170.6,1290.1 172.0,1290.4 173.4,1290.7 174.9,1290.9 176.4,1291.2 177.8,1291.5 179.3,1291.7 180.9,1292.0 182.4,1292.2 183.9,1292.5 185.5,1292.7 187.1,1292.9 188.6,1293.2 190.2,1293.4 191.8,1293.6 193.5,1293.8 195.1,1294.0 196.8,1294.2 198.4,1294.4 200.1,1294.6 201.8,1294.8 203.5,1295.0 205.3,1295.2 207.0,1295.4 208.8,1295.6 210.5,1295.7 212.3,1295.9 214.1,1296.1 215.9,1296.2 217.7,1296.4 219.6,1296.6 221.4,1296.7 223.3,1296.9 225.2,1297.0 227.1,1297.2 229.0,1297.3 230.9,1297.4 232.9,1297.6 234.8,1297.7 236.8,1297.8 238.8,1298.0 240.8,1298.1 242.8,1298.2 244.9,1298.3 246.9,1298.5 249.0,1298.6 251.0,1298.7 253.1,1298.8 255.2,1298.9 257.4,1299.0 259.5,1299.1 261.6,1299.2 263.8,1299.3 266.0,1299.4 268.2,1299.5 270.4,1299.6 272.6,1299.7 274.9,1299.8 277.1,1299.9 279.4,1300.0 281.7,1300.1 284.0,1300.1 286.3,1300.2 288.6,1300.3 291.0,1300.4 293.3,1300.5 295.7,1300.5 298.1,1300.6 300.5,1300.7 302.9,1300.7 305.3,1300.8 307.8,1300.9 310.3,1301.0 312.7,1301.0 315.2,1301.1 317.8,1301.2 320.3,1301.2 322.8,1301.3 325.4,1301.3 328.0,1301.4 330.5,1301.5 333.1,1301.5 335.8,1301.6 338.4,1301.6 341.0,1301.7 343.7,1301.7 346.4,1301.8 349.1,1301.8 351.8,1301.9 354.5,1301.9 357.3,1302.0 360.0,1302.0 362.8,1302.1 365.6,1302.1 368.4,1302.2 371.2,1302.2 374.1,1302.2 376.9,1302.3 379.8,1302.3 382.7,1302.4 385.6,1302.4 388.5,1302.4 391.4,1302.5 394.3,1302.5 397.3,1302.6 400.3,1302.6 403.3,1302.6 406.3,1302.7 409.3,1302.7 412.3,1302.7 415.4,1302.8 418.5,1302.8 421.6,1302.8 424.7,1302.9 427.8,1302.9 430.9,1302.9 434.1,1303.0 437.2,1303.0 440.4,1303.0 443.6,1303.0 446.8,1303.1 450.0,1303.1 453.3,1303.1 456.5,1303.2 459.8,1303.2 463.1,1303.2 466.4,1303.2 469.8,1303.3 473.1,1303.3 476.5,1303.3 479.8,1303.3 483.2,1303.4 486.6,1303.4 490.0,1303.4 493.5,1303.4 496.9,1303.4 500.4,1303.5" stroke="#800080" stroke-width="2.7" stroke-dasharray="0 5.9" stroke-linecap="round"/>
<path d="M91.0,1234.1 91.0,1234.1 91.0,1234.1 91.0,1234.1 91.0,1234.2 91.1,1234.3 91.1,1234.4 91.1,1234.5 91.2,1234.6 91.3,1234.8 91.3,1235.0 91.4,1235.2 91.5,1235.5 91.6,1235.8 91.7,1236.0 91.8,1236.4 91.9,1236.7 92.0,1237.1 92.2,1237.4 92.3,1237.9 92.5,1238.3 92.6,1238.7 92.8,1239.2 93.0,1239.7 93.2,1240.2 93.4,1240.7 93.6,1241.3 93.8,1241.9 94.1,1242.4 94.3,1243.0 94.6,1243.6 94.8,1244.3 95.1,1244.9 95.4,1245.6 95.7,1246.2 96.0,1246.9 96.3,1247.6 96.7,1248.3 97.0,1248.9 97.4,1249.6 97.7,1250.3 98.1,1251.1 98.5,1251.8 98.9,1252.5 99.3,1253.2 99.7,1253.9 100.1,1254.6 100.6,1255.3 101.0,1256.0 101.5,1256.8 102.0,1257.5 102.5,1258.2 103.0,1258.9 103.5,1259.6 104.0,1260.3 104.5,1260.9 105.1,1261.6 105.6,1262.3 106.2,1263.0 106.8,1263.6 107.4,1264.3 108.0,1264.9 108.6,1265.5 109.3,1266.2 109.9,1266.8 110.6,1267.4 111.2,1268.0 111.9,1268.6 112.6,1269.2 113.3,1269.7 114.0,1270.3 114.7,1270.9 115.5,1271.4 116.2,1272.0 117.0,1272.5 117.8,1273.0 118.6,1273.5 119.4,1274.0 120.2,1274.5 121.0,1275.0 121.9,1275.5 122.7,1275.9 123.6,1276.4 124.5,1276.9 125.4,1277.3 126.3,1277.7 127.2,1278.2 128.1,1278.6 129.1,1279.0 130.0,1279.4 131.0,1279.8 132.0,1280.2 133.0,1280.6 134.0,1281.0 135.0,1281.3 136.1,1281.7 137.1,1282.1 138.2,1282.4 139.3,1282.8 140.3,1283.1 141.5,1283.5 142.6,1283.8 143.7,1284.1 144.8,1284.4 146.0,1284.8 147.2,1285.1 148.4,1285.4 149.6,1285.7 150.8,1286.0 152.0,1286.3 153.2,1286.6 154.5,1286.8 155.7,1287.1 157.0,1287.4 158.3,1287.7 159.6,1287.9 160.9,1288.2 162.3,1288.5 163.6,1288.7 165.0,1289.0 166.4,1289.2 167.7,1289.5 169.1,1289.7 170.6,1290.0 172.0,1290.2 173.4,1290.4 174.9,1290.7 176.4,1290.9 177.8,1291.1 179.3,1291.3 180.9,1291.5 182.4,1291.8 183.9,1292.0 185.5,1292.2 187.1,1292.4 188.6,1292.6 190.2,1292.8 191.8,1293.0 193.5,1293.2 195.1,1293.4 196.8,1293.6 198.4,1293.7 200.1,1293.9 201.8,1294.1 203.5,1294.3 205.3,1294.5 207.0,1294.6 208.8,1294.8 210.5,1295.0 212.3,1295.1 214.1,1295.3 215.9,1295.5 217.7,1295.6 219.6,1295.8 221.4,1295.9 223.3,1296.1 225.2,1296.3 227.1,1296.4 229.0,1296.5 230.9,1296.7 232.9,1296.8 234.8,1297.0 236.8,1297.1 238.8,1297.2 240.8,1297.4 242.8,1297.5 244.9,1297.6 246.9,1297.8 249.0,1297.9 251.0,1298.0 253.1,1298.1 255.2,1298.3 257.4,1298.4 259.5,1298.5 261.6,1298.6 263.8,1298.7 266.0,1298.8 268.2,1299.0 270.4,1299.1 272.6,1299.2 274.9,1299.3 277.1,1299.4 279.4,1299.5 281.7,1299.6 284.0,1299.7 286.3,1299.8 288.6,1299.9 291.0,1300.0 293.3,1300.1 295.7,1300.1 298.1,1300.2 300.5,1300.3 302.9,1300.4 305.3,1300.5 307.8,1300.6 310.3,1300.7 312.7,1300.8 315.2,1300.8 317.8,1300.9 320.3,1301.0 322.8,1301.1 325.4,1301.1 328.0,1301.2 330.5,1301.3 333.1,1301.4 335.8,1301.4 338.4,1301.5 341.0,1301.6 343.7,1301.6 346.4,1301.7 349.1,1301.8 351.8,1301.8 354.5,1301.9 357.3,1302.0 360.0,1302.0 362.8,1302.1 365.6,1302.1 368.4,1302.2 371.2,1302.3 374.1,1302.3 376.9,1302.4 379.8,1302.4 382.7,1302.5 385.6,1302.5 388.5,1302.6 391.4,1302.6 394.3,1302.7 397.3,1302.7 400.3,1302.8 403.3,1302.8 406.3,1302.9 409.3,1302.9 412.3,1303.0 415.4,1303.0 418.5,1303.1 421.6,1303.1 424.7,1303.2 427.8,1303.2 430.9,1303.2 434.1,1303.3 437.2,1303.3 440.4,1303.4 443.6,1303.4 446.8,1303.4 450.0,1303.5 453.3,1303.5 456.5,1303.6 459.8,1303.6 463.1,1303.6 466.4,1303.7 469.8,1303.7 473.1,1303.7 476.5,1303.8 479.8,1303.8 483.2,1303.8 486.6,1303.9 490.0,1303.9 493.5,1303.9 496.9,1304.0 500.4,1304.0" stroke="#800080" stroke-width="2.8"/>
<path d="M91.0,1160.1 91.0,1160.1 91.0,1160.2 91.0,1160.3 91.0,1160.4 91.1,1160.6 91.1,1160.8 91.1,1161.1 91.2,1161.4 91.3,1161.8 91.3,1162.2 91.4,1162.6 91.5,1163.2 91.6,1163.7 91.7,1164.4 91.8,1165.0 91.9,1165.8 92.0,1166.5 92.2,1167.3 92.3,1168.2 92.5,1169.1 92.6,1170.1 92.8,1171.1 93.0,1172.1 93.2,1173.2 93.4,1174.3 93.6,1175.5 93.8,1176.7 94.1,1177.9 94.3,1179.1 94.6,1180.4 94.8,1181.7 95.1,1183.1 95.4,1184.4 95.7,1185.8 96.0,1187.2 96.3,1188.6 96.7,1190.0 97.0,1191.5 97.4,1192.9 97.7,1194.4 98.1,1195.8 98.5,1197.3 98.9,1198.7 99.3,1200.2 99.7,1201.6 100.1,1203.1 100.6,1204.5 101.0,1206.0 101.5,1207.4 102.0,1208.8 102.5,1210.2 103.0,1211.6 103.5,1213.0 104.0,1214.4 104.5,1215.7 105.1,1217.1 105.6,1218.4 106.2,1219.7 106.8,1220.9 107.4,1222.2 108.0,1223.4 108.6,1224.6 109.3,1225.8 109.9,1227.0 110.6,1228.1 111.2,1229.2 111.9,1230.3 112.6,1231.4 113.3,1232.4 114.0,1233.5 114.7,1234.5 115.5,1235.4 116.2,1236.4 117.0,1237.3 117.8,1238.2 118.6,1239.1 119.4,1240.0 120.2,1240.8 121.0,1241.7 121.9,1242.5 122.7,1243.2 123.6,1244.0 124.5,1244.7 125.4,1245.5 126.3,1246.2 127.2,1246.9 128.1,1247.5 129.1,1248.2 130.0,1248.8 131.0,1249.4 132.0,1250.0 133.0,1250.6 134.0,1251.2 135.0,1251.7 136.1,1252.3 137.1,1252.8 138.2,1253.3 139.3,1253.8 140.3,1254.3 141.5,1254.8 142.6,1255.2 143.7,1255.7 144.8,1256.1 146.0,1256.5 147.2,1257.0 148.4,1257.4 149.6,1257.8 150.8,1258.2 152.0,1258.5 153.2,1258.9 154.5,1259.3 155.7,1259.6 157.0,1260.0 158.3,1260.3 159.6,1260.7 160.9,1261.0 162.3,1261.3 163.6,1261.6 165.0,1261.9 166.4,1262.2 167.7,1262.5 169.1,1262.8 170.6,1263.1 172.0,1263.4 173.4,1263.7 174.9,1263.9 176.4,1264.2 177.8,1264.5 179.3,1264.7 180.9,1265.0 182.4,1265.2 183.9,1265.5 185.5,1265.7 187.1,1265.9 188.6,1266.2 190.2,1266.4 191.8,1266.6 193.5,1266.8 195.1,1267.0 196.8,1267.3 198.4,1267.5 200.1,1267.7 201.8,1267.9 203.5,1268.1 205.3,1268.3 207.0,1268.5 208.8,1268.6 210.5,1268.8 212.3,1269.0 214.1,1269.2 215.9,1269.4 217.7,1269.6 219.6,1269.7 221.4,1269.9 223.3,1270.1 225.2,1270.2 227.1,1270.4 229.0,1270.5 230.9,1270.7 232.9,1270.9 234.8,1271.0 236.8,1271.2 238.8,1271.3 240.8,1271.5 242.8,1271.6 244.9,1271.7 246.9,1271.9 249.0,1272.0 251.0,1272.2 253.1,1272.3 255.2,1272.4 257.4,1272.5 259.5,1272.7 261.6,1272.8 263.8,1272.9 266.0,1273.0 268.2,1273.2 270.4,1273.3 272.6,1273.4 274.9,1273.5 277.1,1273.6 279.4,1273.7 281.7,1273.8 284.0,1274.0 286.3,1274.1 288.6,1274.2 291.0,1274.3 293.3,1274.4 295.7,1274.5 298.1,1274.6 300.5,1274.7 302.9,1274.8 305.3,1274.9 307.8,1274.9 310.3,1275.0 312.7,1275.1 315.2,1275.2 317.8,1275.3 320.3,1275.4 322.8,1275.5 325.4,1275.6 328.0,1275.6 330.5,1275.7 333.1,1275.8 335.8,1275.9 338.4,1275.9 341.0,1276.0 343.7,1276.1 346.4,1276.2 349.1,1276.2 351.8,1276.3 354.5,1276.4 357.3,1276.5 360.0,1276.5 362.8,1276.6 365.6,1276.7 368.4,1276.7 371.2,1276.8 374.1,1276.8 376.9,1276.9 379.8,1277.0 382.7,1277.0 385.6,1277.1 388.5,1277.1 391.4,1277.2 394.3,1277.3 397.3,1277.3 400.3,1277.4 403.3,1277.4 406.3,1277.5 409.3,1277.5 412.3,1277.6 415.4,1277.6 418.5,1277.7 421.6,1277.7 424.7,1277.8 427.8,1277.8 430.9,1277.9 434.1,1277.9 437.2,1278.0 440.4,1278.0 443.6,1278.0 446.8,1278.1 450.0,1278.1 453.3,1278.2 456.5,1278.2 459.8,1278.3 463.1,1278.3 466.4,1278.3 469.8,1278.4 473.1,1278.4 476.5,1278.4 479.8,1278.5 483.2,1278.5 486.6,1278.6 490.0,1278.6 493.5,1278.6 496.9,1278.7 500.4,1278.7" stroke="#008080" stroke-width="2.7" stroke-dasharray="0 5.9" stroke-linecap="round"/>
<path d="M91.0,1178.2 91.0,1178.3 91.0,1178.3 91.0,1178.3 91.0,1178.4 91.1,1178.5 91.1,1178.7 91.1,1178.9 91.2,1179.1 91.3,1179.3 91.3,1179.6 91.4,1179.9 91.5,1180.3 91.6,1180.7 91.7,1181.1 91.8,1181.5 91.9,1182.0 92.0,1182.5 92.2,1183.1 92.3,1183.7 92.5,1184.3 92.6,1185.0 92.8,1185.6 93.0,1186.3 93.2,1187.1 93.4,1187.9 93.6,1188.6 93.8,1189.5 94.1,1190.3 94.3,1191.2 94.6,1192.1 94.8,1193.0 95.1,1193.9 95.4,1194.9 95.7,1195.8 96.0,1196.8 96.3,1197.8 96.7,1198.8 97.0,1199.9 97.4,1200.9 97.7,1202.0 98.1,1203.0 98.5,1204.1 98.9,1205.1 99.3,1206.2 99.7,1207.3 100.1,1208.4 100.6,1209.4 101.0,1210.5 101.5,1211.6 102.0,1212.7 102.5,1213.7 103.0,1214.8 103.5,1215.9 104.0,1216.9 104.5,1218.0 105.1,1219.0 105.6,1220.1 106.2,1221.1 106.8,1222.1 107.4,1223.1 108.0,1224.1 108.6,1225.1 109.3,1226.1 109.9,1227.1 110.6,1228.0 111.2,1228.9 111.9,1229.9 112.6,1230.8 113.3,1231.7 114.0,1232.6 114.7,1233.4 115.5,1234.3 116.2,1235.2 117.0,1236.0 117.8,1236.8 118.6,1237.6 119.4,1238.4 120.2,1239.2 121.0,1239.9 121.9,1240.7 122.7,1241.4 123.6,1242.1 124.5,1242.8 125.4,1243.5 126.3,1244.2 127.2,1244.9 128.1,1245.5 129.1,1246.2 130.0,1246.8 131.0,1247.4 132.0,1248.0 133.0,1248.6 134.0,1249.2 135.0,1249.7 136.1,1250.3 137.1,1250.8 138.2,1251.4 139.3,1251.9 140.3,1252.4 141.5,1252.9 142.6,1253.4 143.7,1253.9 144.8,1254.3 146.0,1254.8 147.2,1255.2 148.4,1255.7 149.6,1256.1 150.8,1256.5 152.0,1256.9 153.2,1257.4 154.5,1257.7 155.7,1258.1 157.0,1258.5 158.3,1258.9 159.6,1259.3 160.9,1259.6 162.3,1260.0 163.6,1260.3 165.0,1260.6 166.4,1261.0 167.7,1261.3 169.1,1261.6 170.6,1261.9 172.0,1262.2 173.4,1262.5 174.9,1262.8 176.4,1263.1 177.8,1263.4 179.3,1263.7 180.9,1263.9 182.4,1264.2 183.9,1264.5 185.5,1264.7 187.1,1265.0 188.6,1265.2 190.2,1265.4 191.8,1265.7 193.5,1265.9 195.1,1266.1 196.8,1266.4 198.4,1266.6 200.1,1266.8 201.8,1267.0 203.5,1267.2 205.3,1267.4 207.0,1267.6 208.8,1267.8 210.5,1268.0 212.3,1268.2 214.1,1268.3 215.9,1268.5 217.7,1268.7 219.6,1268.9 221.4,1269.0 223.3,1269.2 225.2,1269.4 227.1,1269.5 229.0,1269.7 230.9,1269.9 232.9,1270.0 234.8,1270.2 236.8,1270.3 238.8,1270.4 240.8,1270.6 242.8,1270.7 244.9,1270.9 246.9,1271.0 249.0,1271.1 251.0,1271.2 253.1,1271.4 255.2,1271.5 257.4,1271.6 259.5,1271.7 261.6,1271.9 263.8,1272.0 266.0,1272.1 268.2,1272.2 270.4,1272.3 272.6,1272.4 274.9,1272.5 277.1,1272.6 279.4,1272.7 281.7,1272.8 284.0,1272.9 286.3,1273.0 288.6,1273.1 291.0,1273.2 293.3,1273.3 295.7,1273.4 298.1,1273.5 300.5,1273.6 302.9,1273.6 305.3,1273.7 307.8,1273.8 310.3,1273.9 312.7,1274.0 315.2,1274.0 317.8,1274.1 320.3,1274.2 322.8,1274.3 325.4,1274.3 328.0,1274.4 330.5,1274.5 333.1,1274.5 335.8,1274.6 338.4,1274.7 341.0,1274.7 343.7,1274.8 346.4,1274.9 349.1,1274.9 351.8,1275.0 354.5,1275.1 357.3,1275.1 360.0,1275.2 362.8,1275.2 365.6,1275.3 368.4,1275.3 371.2,1275.4 374.1,1275.4 376.9,1275.5 379.8,1275.5 382.7,1275.6 385.6,1275.6 388.5,1275.7 391.4,1275.7 394.3,1275.8 397.3,1275.8 400.3,1275.9 403.3,1275.9 406.3,1276.0 409.3,1276.0 412.3,1276.1 415.4,1276.1 418.5,1276.1 421.6,1276.2 424.7,1276.2 427.8,1276.3 430.9,1276.3 434.1,1276.3 437.2,1276.4 440.4,1276.4 443.6,1276.4 446.8,1276.5 450.0,1276.5 453.3,1276.5 456.5,1276.6 459.8,1276.6 463.1,1276.6 466.4,1276.7 469.8,1276.7 473.1,1276.7 476.5,1276.8 479.8,1276.8 483.2,1276.8 486.6,1276.9 490.0,1276.9 493.5,1276.9 496.9,1276.9 500.4,1277.0" stroke="#008080" stroke-width="2.8"/>
<path d="M91.0,1083.6 91.0,1083.6 91.0,1083.7 91.0,1083.8 91.0,1084.1 91.1,1084.4 91.1,1084.8 91.1,1085.3 91.2,1085.8 91.3,1086.5 91.3,1087.2 91.4,1088.0 91.5,1089.0 91.6,1090.0 91.7,1091.1 91.8,1092.2 91.9,1093.5 92.0,1094.8 92.2,1096.2 92.3,1097.7 92.5,1099.3 92.6,1100.9 92.8,1102.6 93.0,1104.4 93.2,1106.2 93.4,1108.1 93.6,1110.0 93.8,1112.0 94.1,1114.0 94.3,1116.1 94.6,1118.2 94.8,1120.3 95.1,1122.4 95.4,1124.6 95.7,1126.7 96.0,1128.9 96.3,1131.1 96.7,1133.3 97.0,1135.5 97.4,1137.7 97.7,1139.9 98.1,1142.0 98.5,1144.2 98.9,1146.3 99.3,1148.4 99.7,1150.5 100.1,1152.6 100.6,1154.6 101.0,1156.6 101.5,1158.6 102.0,1160.5 102.5,1162.4 103.0,1164.3 103.5,1166.1 104.0,1167.9 104.5,1169.7 105.1,1171.4 105.6,1173.1 106.2,1174.7 106.8,1176.3 107.4,1177.8 108.0,1179.3 108.6,1180.8 109.3,1182.3 109.9,1183.7 110.6,1185.0 111.2,1186.4 111.9,1187.7 112.6,1189.0 113.3,1190.2 114.0,1191.5 114.7,1192.6 115.5,1193.8 116.2,1195.0 117.0,1196.1 117.8,1197.2 118.6,1198.2 119.4,1199.3 120.2,1200.3 121.0,1201.3 121.9,1202.3 122.7,1203.2 123.6,1204.1 124.5,1205.0 125.4,1205.9 126.3,1206.8 127.2,1207.6 128.1,1208.4 129.1,1209.2 130.0,1210.0 131.0,1210.7 132.0,1211.5 133.0,1212.2 134.0,1212.9 135.0,1213.5 136.1,1214.2 137.1,1214.8 138.2,1215.5 139.3,1216.1 140.3,1216.7 141.5,1217.2 142.6,1217.8 143.7,1218.4 144.8,1218.9 146.0,1219.4 147.2,1219.9 148.4,1220.4 149.6,1220.9 150.8,1221.4 152.0,1221.8 153.2,1222.3 154.5,1222.7 155.7,1223.1 157.0,1223.6 158.3,1224.0 159.6,1224.4 160.9,1224.8 162.3,1225.1 163.6,1225.5 165.0,1225.9 166.4,1226.2 167.7,1226.6 169.1,1226.9 170.6,1227.2 172.0,1227.6 173.4,1227.9 174.9,1228.2 176.4,1228.5 177.8,1228.8 179.3,1229.1 180.9,1229.4 182.4,1229.7 183.9,1229.9 185.5,1230.2 187.1,1230.5 188.6,1230.7 190.2,1231.0 191.8,1231.2 193.5,1231.5 195.1,1231.7 196.8,1231.9 198.4,1232.2 200.1,1232.4 201.8,1232.6 203.5,1232.8 205.3,1233.1 207.0,1233.3 208.8,1233.5 210.5,1233.7 212.3,1233.9 214.1,1234.1 215.9,1234.3 217.7,1234.4 219.6,1234.6 221.4,1234.8 223.3,1235.0 225.2,1235.2 227.1,1235.3 229.0,1235.5 230.9,1235.7 232.9,1235.8 234.8,1236.0 236.8,1236.1 238.8,1236.3 240.8,1236.5 242.8,1236.6 244.9,1236.7 246.9,1236.9 249.0,1237.0 251.0,1237.2 253.1,1237.3 255.2,1237.4 257.4,1237.6 259.5,1237.7 261.6,1237.8 263.8,1238.0 266.0,1238.1 268.2,1238.2 270.4,1238.3 272.6,1238.4 274.9,1238.6 277.1,1238.7 279.4,1238.8 281.7,1238.9 284.0,1239.0 286.3,1239.1 288.6,1239.2 291.0,1239.3 293.3,1239.4 295.7,1239.5 298.1,1239.6 300.5,1239.7 302.9,1239.8 305.3,1239.9 307.8,1240.0 310.3,1240.1 312.7,1240.2 315.2,1240.3 317.8,1240.3 320.3,1240.4 322.8,1240.5 325.4,1240.6 328.0,1240.7 330.5,1240.7 333.1,1240.8 335.8,1240.9 338.4,1241.0 341.0,1241.1 343.7,1241.1 346.4,1241.2 349.1,1241.3 351.8,1241.3 354.5,1241.4 357.3,1241.5 360.0,1241.5 362.8,1241.6 365.6,1241.7 368.4,1241.7 371.2,1241.8 374.1,1241.8 376.9,1241.9 379.8,1242.0 382.7,1242.0 385.6,1242.1 388.5,1242.1 391.4,1242.2 394.3,1242.2 397.3,1242.3 400.3,1242.4 403.3,1242.4 406.3,1242.5 409.3,1242.5 412.3,1242.6 415.4,1242.6 418.5,1242.6 421.6,1242.7 424.7,1242.7 427.8,1242.8 430.9,1242.8 434.1,1242.9 437.2,1242.9 440.4,1243.0 443.6,1243.0 446.8,1243.0 450.0,1243.1 453.3,1243.1 456.5,1243.2 459.8,1243.2 463.1,1243.2 466.4,1243.3 469.8,1243.3 473.1,1243.3 476.5,1243.4 479.8,1243.4 483.2,1243.5 486.6,1243.5 490.0,1243.5 493.5,1243.6 496.9,1243.6 500.4,1243.6" stroke="#ff8000" stroke-width="2.7" stroke-dasharray="0 5.9" stroke-linecap="round"/>
<path d="M91.0,1135.8 91.0,1135.8 91.0,1135.9 91.0,1136.0 91.0,1136.1 91.1,1136.2 91.1,1136.4 91.1,1136.7 91.2,1137.0 91.3,1137.3 91.3,1137.7 91.4,1138.1 91.5,1138.6 91.6,1139.1 91.7,1139.7 91.8,1140.3 91.9,1140.9 92.0,1141.6 92.2,1142.4 92.3,1143.1 92.5,1144.0 92.6,1144.8 92.8,1145.7 93.0,1146.6 93.2,1147.6 93.4,1148.6 93.6,1149.6 93.8,1150.7 94.1,1151.7 94.3,1152.8 94.6,1153.9 94.8,1155.1 95.1,1156.2 95.4,1157.4 95.7,1158.6 96.0,1159.8 96.3,1161.0 96.7,1162.2 97.0,1163.4 97.4,1164.6 97.7,1165.9 98.1,1167.1 98.5,1168.3 98.9,1169.5 99.3,1170.7 99.7,1171.9 100.1,1173.1 100.6,1174.3 101.0,1175.5 101.5,1176.6 102.0,1177.8 102.5,1178.9 103.0,1180.1 103.5,1181.2 104.0,1182.3 104.5,1183.4 105.1,1184.4 105.6,1185.5 106.2,1186.5 106.8,1187.5 107.4,1188.5 108.0,1189.5 108.6,1190.5 109.3,1191.4 109.9,1192.4 110.6,1193.3 111.2,1194.2 111.9,1195.1 112.6,1195.9 113.3,1196.8 114.0,1197.6 114.7,1198.5 115.5,1199.3 116.2,1200.1 117.0,1200.9 117.8,1201.7 118.6,1202.4 119.4,1203.2 120.2,1204.0 121.0,1204.7 121.9,1205.4 122.7,1206.1 123.6,1206.9 124.5,1207.6 125.4,1208.3 126.3,1209.0 127.2,1209.7 128.1,1210.3 129.1,1211.0 130.0,1211.7 131.0,1212.4 132.0,1213.0 133.0,1213.7 134.0,1214.3 135.0,1214.9 136.1,1215.6 137.1,1216.2 138.2,1216.8 139.3,1217.4 140.3,1218.0 141.5,1218.6 142.6,1219.2 143.7,1219.8 144.8,1220.3 146.0,1220.9 147.2,1221.5 148.4,1222.0 149.6,1222.6 150.8,1223.1 152.0,1223.6 153.2,1224.1 154.5,1224.6 155.7,1225.1 157.0,1225.6 158.3,1226.1 159.6,1226.6 160.9,1227.1 162.3,1227.5 163.6,1228.0 165.0,1228.4 166.4,1228.9 167.7,1229.3 169.1,1229.7 170.6,1230.1 172.0,1230.5 173.4,1230.9 174.9,1231.3 176.4,1231.7 177.8,1232.1 179.3,1232.5 180.9,1232.9 182.4,1233.2 183.9,1233.6 185.5,1233.9 187.1,1234.3 188.6,1234.6 190.2,1234.9 191.8,1235.3 193.5,1235.6 195.1,1235.9 196.8,1236.2 198.4,1236.5 200.1,1236.8 201.8,1237.1 203.5,1237.4 205.3,1237.7 207.0,1237.9 208.8,1238.2 210.5,1238.5 212.3,1238.7 214.1,1239.0 215.9,1239.2 217.7,1239.5 219.6,1239.7 221.4,1240.0 223.3,1240.2 225.2,1240.4 227.1,1240.6 229.0,1240.9 230.9,1241.1 232.9,1241.3 234.8,1241.5 236.8,1241.7 238.8,1241.9 240.8,1242.1 242.8,1242.3 244.9,1242.5 246.9,1242.6 249.0,1242.8 251.0,1243.0 253.1,1243.2 255.2,1243.3 257.4,1243.5 259.5,1243.7 261.6,1243.8 263.8,1244.0 266.0,1244.1 268.2,1244.3 270.4,1244.4 272.6,1244.6 274.9,1244.7 277.1,1244.9 279.4,1245.0 281.7,1245.2 284.0,1245.3 286.3,1245.4 288.6,1245.5 291.0,1245.7 293.3,1245.8 295.7,1245.9 298.1,1246.0 300.5,1246.1 302.9,1246.3 305.3,1246.4 307.8,1246.5 310.3,1246.6 312.7,1246.7 315.2,1246.8 317.8,1246.9 320.3,1247.0 322.8,1247.1 325.4,1247.2 328.0,1247.3 330.5,1247.4 333.1,1247.5 335.8,1247.6 338.4,1247.6 341.0,1247.7 343.7,1247.8 346.4,1247.9 349.1,1248.0 351.8,1248.1 354.5,1248.1 357.3,1248.2 360.0,1248.3 362.8,1248.4 365.6,1248.4 368.4,1248.5 371.2,1248.6 374.1,1248.7 376.9,1248.7 379.8,1248.8 382.7,1248.9 385.6,1248.9 388.5,1249.0 391.4,1249.0 394.3,1249.1 397.3,1249.2 400.3,1249.2 403.3,1249.3 406.3,1249.3 409.3,1249.4 412.3,1249.5 415.4,1249.5 418.5,1249.6 421.6,1249.6 424.7,1249.7 427.8,1249.7 430.9,1249.8 434.1,1249.8 437.2,1249.9 440.4,1249.9 443.6,1249.9 446.8,1250.0 450.0,1250.0 453.3,1250.1 456.5,1250.1 459.8,1250.2 463.1,1250.2 466.4,1250.3 469.8,1250.3 473.1,1250.3 476.5,1250.4 479.8,1250.4 483.2,1250.4 486.6,1250.5 490.0,1250.5 493.5,1250.6 496.9,1250.6 500.4,1250.6" stroke="#ff8000" stroke-width="2.8"/>
<path d="M91.0,1001.2 91.0,1001.2 91.0,1001.4 91.0,1001.6 91.0,1002.0 91.1,1002.4 91.1,1003.1 91.1,1003.8 91.2,1004.7 91.3,1005.8 91.3,1006.9 91.4,1008.3 91.5,1009.7 91.6,1011.4 91.7,1013.1 91.8,1015.1 91.9,1017.1 92.0,1019.3 92.2,1021.7 92.3,1024.1 92.5,1026.7 92.6,1029.4 92.8,1032.3 93.0,1035.2 93.2,1038.2 93.4,1041.2 93.6,1044.4 93.8,1047.6 94.1,1050.8 94.3,1054.1 94.6,1057.4 94.8,1060.7 95.1,1064.0 95.4,1067.3 95.7,1070.6 96.0,1073.9 96.3,1077.1 96.7,1080.2 97.0,1083.3 97.4,1086.4 97.7,1089.3 98.1,1092.2 98.5,1094.9 98.9,1097.6 99.3,1100.2 99.7,1102.7 100.1,1105.2 100.6,1107.6 101.0,1109.9 101.5,1112.1 102.0,1114.3 102.5,1116.5 103.0,1118.6 103.5,1120.8 104.0,1122.9 104.5,1125.0 105.1,1127.1 105.6,1129.3 106.2,1131.5 106.8,1133.8 107.4,1136.1 108.0,1138.6 108.6,1141.1 109.3,1143.7 109.9,1146.4 110.6,1149.1 111.2,1151.7 111.9,1154.3 112.6,1156.9 113.3,1159.3 114.0,1161.5 114.7,1163.6 115.5,1165.4 116.2,1167.1 117.0,1168.6 117.8,1170.0 118.6,1171.2 119.4,1172.4 120.2,1173.5 121.0,1174.6 121.9,1175.6 122.7,1176.7 123.6,1177.7 124.5,1178.7 125.4,1179.7 126.3,1180.6 127.2,1181.6 128.1,1182.5 129.1,1183.4 130.0,1184.3 131.0,1185.2 132.0,1186.1 133.0,1186.9 134.0,1187.7 135.0,1188.5 136.1,1189.3 137.1,1190.1 138.2,1190.8 139.3,1191.6 140.3,1192.3 141.5,1193.0 142.6,1193.7 143.7,1194.4 144.8,1195.0 146.0,1195.7 147.2,1196.3 148.4,1196.9 149.6,1197.5 150.8,1198.1 152.0,1198.6 153.2,1199.2 154.5,1199.7 155.7,1200.3 157.0,1200.8 158.3,1201.3 159.6,1201.8 160.9,1202.2 162.3,1202.7 163.6,1203.2 165.0,1203.6 166.4,1204.0 167.7,1204.4 169.1,1204.8 170.6,1205.2 172.0,1205.6 173.4,1206.0 174.9,1206.4 176.4,1206.7 177.8,1207.1 179.3,1207.4 180.9,1207.7 182.4,1208.1 183.9,1208.4 185.5,1208.7 187.1,1209.0 188.6,1209.3 190.2,1209.5 191.8,1209.8 193.5,1210.1 195.1,1210.3 196.8,1210.6 198.4,1210.8 200.1,1211.1 201.8,1211.3 203.5,1211.5 205.3,1211.8 207.0,1212.0 208.8,1212.2 210.5,1212.4 212.3,1212.6 214.1,1212.8 215.9,1213.0 217.7,1213.2 219.6,1213.3 221.4,1213.5 223.3,1213.7 225.2,1213.8 227.1,1214.0 229.0,1214.2 230.9,1214.3 232.9,1214.5 234.8,1214.6 236.8,1214.7 238.8,1214.9 240.8,1215.0 242.8,1215.2 244.9,1215.3 246.9,1215.4 249.0,1215.5 251.0,1215.6 253.1,1215.8 255.2,1215.9 257.4,1216.0 259.5,1216.1 261.6,1216.2 263.8,1216.3 266.0,1216.4 268.2,1216.5 270.4,1216.6 272.6,1216.7 274.9,1216.8 277.1,1216.8 279.4,1216.9 281.7,1217.0 284.0,1217.1 286.3,1217.2 288.6,1217.3 291.0,1217.3 293.3,1217.4 295.7,1217.5 298.1,1217.5 300.5,1217.6 302.9,1217.7 305.3,1217.7 307.8,1217.8 310.3,1217.9 312.7,1217.9 315.2,1218.0 317.8,1218.0 320.3,1218.1 322.8,1218.2 325.4,1218.2 328.0,1218.3 330.5,1218.3 333.1,1218.4 335.8,1218.4 338.4,1218.5 341.0,1218.5 343.7,1218.6 346.4,1218.6 349.1,1218.6 351.8,1218.7 354.5,1218.7 357.3,1218.8 360.0,1218.8 362.8,1218.9 365.6,1218.9 368.4,1218.9 371.2,1219.0 374.1,1219.0 376.9,1219.0 379.8,1219.1 382.7,1219.1 385.6,1219.1 388.5,1219.2 391.4,1219.2 394.3,1219.2 397.3,1219.3 400.3,1219.3 403.3,1219.3 406.3,1219.4 409.3,1219.4 412.3,1219.4 415.4,1219.4 418.5,1219.5 421.6,1219.5 424.7,1219.5 427.8,1219.5 430.9,1219.6 434.1,1219.6 437.2,1219.6 440.4,1219.6 443.6,1219.7 446.8,1219.7 450.0,1219.7 453.3,1219.7 456.5,1219.7 459.8,1219.8 463.1,1219.8 466.4,1219.8 469.8,1219.8 473.1,1219.8 476.5,1219.9 479.8,1219.9 483.2,1219.9 486.6,1219.9 490.0,1219.9 493.5,1219.9 496.9,1220.0 500.4,1220.0" stroke="#8000ff" stroke-width="2.7" stroke-dasharray="0 5.9" stroke-linecap="round"/>
<path d="M91.0,1061.3 91.0,1061.4 91.0,1061.4 91.0,1061.5 91.0,1061.7 91.1,1061.9 91.1,1062.1 91.1,1062.4 91.2,1062.8 91.3,1063.3 91.3,1063.7 91.4,1064.3 91.5,1064.9 91.6,1065.6 91.7,1066.3 91.8,1067.1 91.9,1068.0 92.0,1068.9 92.2,1069.9 92.3,1070.9 92.5,1072.0 92.6,1073.1 92.8,1074.3 93.0,1075.6 93.2,1076.9 93.4,1078.2 93.6,1079.6 93.8,1081.0 94.1,1082.5 94.3,1084.0 94.6,1085.6 94.8,1087.2 95.1,1088.8 95.4,1090.5 95.7,1092.2 96.0,1093.9 96.3,1095.6 96.7,1097.4 97.0,1099.2 97.4,1101.0 97.7,1102.8 98.1,1104.7 98.5,1106.5 98.9,1108.4 99.3,1110.2 99.7,1112.1 100.1,1114.0 100.6,1115.9 101.0,1117.7 101.5,1119.6 102.0,1121.5 102.5,1123.3 103.0,1125.2 103.5,1127.0 104.0,1128.8 104.5,1130.6 105.1,1132.4 105.6,1134.2 106.2,1136.0 106.8,1137.8 107.4,1139.5 108.0,1141.2 108.6,1142.9 109.3,1144.6 109.9,1146.2 110.6,1147.8 111.2,1149.4 111.9,1151.0 112.6,1152.6 113.3,1154.1 114.0,1155.6 114.7,1157.1 115.5,1158.5 116.2,1160.0 117.0,1161.4 117.8,1162.7 118.6,1164.1 119.4,1165.4 120.2,1166.7 121.0,1168.0 121.9,1169.2 122.7,1170.4 123.6,1171.6 124.5,1172.8 125.4,1174.0 126.3,1175.1 127.2,1176.2 128.1,1177.3 129.1,1178.3 130.0,1179.3 131.0,1180.3 132.0,1181.3 133.0,1182.3 134.0,1183.2 135.0,1184.1 136.1,1185.0 137.1,1185.9 138.2,1186.8 139.3,1187.6 140.3,1188.4 141.5,1189.2 142.6,1190.0 143.7,1190.8 144.8,1191.5 146.0,1192.3 147.2,1193.0 148.4,1193.7 149.6,1194.3 150.8,1195.0 152.0,1195.7 153.2,1196.3 154.5,1196.9 155.7,1197.5 157.0,1198.1 158.3,1198.7 159.6,1199.3 160.9,1199.8 162.3,1200.4 163.6,1200.9 165.0,1201.4 166.4,1201.9 167.7,1202.4 169.1,1202.9 170.6,1203.4 172.0,1203.8 173.4,1204.3 174.9,1204.7 176.4,1205.2 177.8,1205.6 179.3,1206.0 180.9,1206.4 182.4,1206.8 183.9,1207.2 185.5,1207.6 187.1,1207.9 188.6,1208.3 190.2,1208.7 191.8,1209.0 193.5,1209.4 195.1,1209.7 196.8,1210.0 198.4,1210.3 200.1,1210.7 201.8,1211.0 203.5,1211.3 205.3,1211.6 207.0,1211.9 208.8,1212.1 210.5,1212.4 212.3,1212.7 214.1,1213.0 215.9,1213.2 217.7,1213.5 219.6,1213.7 221.4,1214.0 223.3,1214.2 225.2,1214.5 227.1,1214.7 229.0,1214.9 230.9,1215.1 232.9,1215.4 234.8,1215.6 236.8,1215.8 238.8,1216.0 240.8,1216.2 242.8,1216.4 244.9,1216.6 246.9,1216.8 249.0,1217.0 251.0,1217.1 253.1,1217.3 255.2,1217.5 257.4,1217.7 259.5,1217.8 261.6,1218.0 263.8,1218.2 266.0,1218.3 268.2,1218.5 270.4,1218.6 272.6,1218.8 274.9,1218.9 277.1,1219.1 279.4,1219.2 281.7,1219.4 284.0,1219.5 286.3,1219.7 288.6,1219.8 291.0,1219.9 293.3,1220.0 295.7,1220.2 298.1,1220.3 300.5,1220.4 302.9,1220.5 305.3,1220.7 307.8,1220.8 310.3,1220.9 312.7,1221.0 315.2,1221.1 317.8,1221.2 320.3,1221.3 322.8,1221.4 325.4,1221.5 328.0,1221.6 330.5,1221.7 333.1,1221.8 335.8,1221.9 338.4,1222.0 341.0,1222.1 343.7,1222.2 346.4,1222.3 349.1,1222.3 351.8,1222.4 354.5,1222.5 357.3,1222.6 360.0,1222.7 362.8,1222.8 365.6,1222.8 368.4,1222.9 371.2,1223.0 374.1,1223.1 376.9,1223.1 379.8,1223.2 382.7,1223.3 385.6,1223.3 388.5,1223.4 391.4,1223.5 394.3,1223.5 397.3,1223.6 400.3,1223.7 403.3,1223.7 406.3,1223.8 409.3,1223.8 412.3,1223.9 415.4,1224.0 418.5,1224.0 421.6,1224.1 424.7,1224.1 427.8,1224.2 430.9,1224.2 434.1,1224.3 437.2,1224.3 440.4,1224.4 443.6,1224.4 446.8,1224.5 450.0,1224.5 453.3,1224.6 456.5,1224.6 459.8,1224.7 463.1,1224.7 466.4,1224.8 469.8,1224.8 473.1,1224.8 476.5,1224.9 479.8,1224.9 483.2,1225.0 486.6,1225.0 490.0,1225.1 493.5,1225.1 496.9,1225.1 500.4,1225.2" stroke="#8000ff" stroke-width="2.8"/>
</g>
<line x1="91.0" y1="972.4" x2="500.4" y2="972.4" stroke="#111" stroke-width="1.4"/>
<line x1="500.4" y1="972.4" x2="500.4" y2="1363.1" stroke="#222" stroke-width="1.6"/>
<line x1="91.0" y1="972.4" x2="91.0" y2="1363.1" stroke="#999" stroke-width="2"/>
<line x1="85.2" y1="972.4" x2="91.0" y2="972.4" stroke="#999" stroke-width="1.2"/>
<line x1="131.94" y1="972.4" x2="131.94" y2="975.4" stroke="#333" stroke-width="1"/>
<line x1="497.4" y1="1010.89" x2="500.4" y2="1010.89" stroke="#222" stroke-width="1"/>
<line x1="172.88" y1="972.4" x2="172.88" y2="977.4" stroke="#333" stroke-width="1"/>
<line x1="495.4" y1="1049.38" x2="500.4" y2="1049.38" stroke="#222" stroke-width="1"/>
<line x1="213.82" y1="972.4" x2="213.82" y2="975.4" stroke="#333" stroke-width="1"/>
<line x1="497.4" y1="1087.87" x2="500.4" y2="1087.87" stroke="#222" stroke-width="1"/>
<line x1="254.76" y1="972.4" x2="254.76" y2="977.4" stroke="#333" stroke-width="1"/>
<line x1="495.4" y1="1126.36" x2="500.4" y2="1126.36" stroke="#222" stroke-width="1"/>
<line x1="295.70" y1="972.4" x2="295.70" y2="975.4" stroke="#333" stroke-width="1"/>
<line x1="497.4" y1="1164.85" x2="500.4" y2="1164.85" stroke="#222" stroke-width="1"/>
<line x1="336.64" y1="972.4" x2="336.64" y2="977.4" stroke="#333" stroke-width="1"/>
<line x1="495.4" y1="1203.34" x2="500.4" y2="1203.34" stroke="#222" stroke-width="1"/>
<line x1="377.58" y1="972.4" x2="377.58" y2="975.4" stroke="#333" stroke-width="1"/>
<line x1="497.4" y1="1241.83" x2="500.4" y2="1241.83" stroke="#222" stroke-width="1"/>
<line x1="418.52" y1="972.4" x2="418.52" y2="977.4" stroke="#333" stroke-width="1"/>
<line x1="495.4" y1="1280.32" x2="500.4" y2="1280.32" stroke="#222" stroke-width="1"/>
<line x1="459.46" y1="972.4" x2="459.46" y2="975.4" stroke="#333" stroke-width="1"/>
<line x1="497.4" y1="1318.81" x2="500.4" y2="1318.81" stroke="#222" stroke-width="1"/>
<line x1="91.00" y1="1357.3" x2="91.00" y2="1363.1" stroke="#222" stroke-width="1.2"/>
<text x="91.00" y="1383.20" font-size="19" font-weight="bold" text-anchor="middle" >200</text>
<line x1="159.23" y1="1357.3" x2="159.23" y2="1363.1" stroke="#222" stroke-width="1.2"/>
<text x="159.23" y="1383.20" font-size="19" font-weight="bold" text-anchor="middle" >350</text>
<line x1="227.47" y1="1357.3" x2="227.47" y2="1363.1" stroke="#222" stroke-width="1.2"/>
<text x="227.47" y="1383.20" font-size="19" font-weight="bold" text-anchor="middle" >500</text>
<line x1="295.70" y1="1357.3" x2="295.70" y2="1363.1" stroke="#222" stroke-width="1.2"/>
<text x="295.70" y="1383.20" font-size="19" font-weight="bold" text-anchor="middle" >650</text>
<line x1="363.93" y1="1357.3" x2="363.93" y2="1363.1" stroke="#222" stroke-width="1.2"/>
<text x="363.93" y="1383.20" font-size="19" font-weight="bold" text-anchor="middle" >800</text>
<line x1="432.17" y1="1357.3" x2="432.17" y2="1363.1" stroke="#222" stroke-width="1.2"/>
<text x="432.17" y="1383.20" font-size="19" font-weight="bold" text-anchor="middle" >950</text>
<line x1="500.40" y1="1357.3" x2="500.40" y2="1363.1" stroke="#222" stroke-width="1.2"/>
<text x="500.40" y="1383.20" font-size="19" font-weight="bold" text-anchor="middle" >1100</text>
<line x1="125.12" y1="1357.3" x2="125.12" y2="1360.3" stroke="#333" stroke-width="1"/>
<line x1="193.35" y1="1357.3" x2="193.35" y2="1360.3" stroke="#333" stroke-width="1"/>
<line x1="261.58" y1="1357.3" x2="261.58" y2="1360.3" stroke="#333" stroke-width="1"/>
<line x1="329.82" y1="1357.3" x2="329.82" y2="1360.3" stroke="#333" stroke-width="1"/>
<line x1="398.05" y1="1357.3" x2="398.05" y2="1360.3" stroke="#333" stroke-width="1"/>
<line x1="466.28" y1="1357.3" x2="466.28" y2="1360.3" stroke="#333" stroke-width="1"/>
<line x1="85.2" y1="1327.69" x2="91.0" y2="1327.69" stroke="#222" stroke-width="1.2"/>
<text x="79.70" y="1333.59" font-size="19" font-weight="bold" text-anchor="end" >1.5</text>
<line x1="85.2" y1="1268.48" x2="91.0" y2="1268.48" stroke="#222" stroke-width="1.2"/>
<text x="79.70" y="1274.38" font-size="19" font-weight="bold" text-anchor="end" >1.7</text>
<line x1="85.2" y1="1209.26" x2="91.0" y2="1209.26" stroke="#222" stroke-width="1.2"/>
<text x="79.70" y="1215.16" font-size="19" font-weight="bold" text-anchor="end" >1.9</text>
<line x1="85.2" y1="1150.05" x2="91.0" y2="1150.05" stroke="#222" stroke-width="1.2"/>
<text x="79.70" y="1155.95" font-size="19" font-weight="bold" text-anchor="end" >2.1</text>
<line x1="85.2" y1="1090.83" x2="91.0" y2="1090.83" stroke="#222" stroke-width="1.2"/>
<text x="79.70" y="1096.73" font-size="19" font-weight="bold" text-anchor="end" >2.3</text>
<line x1="85.2" y1="1031.62" x2="91.0" y2="1031.62" stroke="#222" stroke-width="1.2"/>
<text x="79.70" y="1037.52" font-size="19" font-weight="bold" text-anchor="end" >2.5</text>
<line x1="85.2" y1="972.40" x2="91.0" y2="972.40" stroke="#222" stroke-width="1.2"/>
<text x="79.70" y="978.30" font-size="19" font-weight="bold" text-anchor="end" >2.7</text>
<line x1="88.0" y1="1357.30" x2="91.0" y2="1357.30" stroke="#333" stroke-width="1"/>
<line x1="88.0" y1="1298.08" x2="91.0" y2="1298.08" stroke="#333" stroke-width="1"/>
<line x1="88.0" y1="1238.87" x2="91.0" y2="1238.87" stroke="#333" stroke-width="1"/>
<line x1="88.0" y1="1179.65" x2="91.0" y2="1179.65" stroke="#333" stroke-width="1"/>
<line x1="88.0" y1="1120.44" x2="91.0" y2="1120.44" stroke="#333" stroke-width="1"/>
<line x1="88.0" y1="1061.22" x2="91.0" y2="1061.22" stroke="#333" stroke-width="1"/>
<line x1="88.0" y1="1002.01" x2="91.0" y2="1002.01" stroke="#333" stroke-width="1"/>
<text x="295.75" y="1414.20" font-size="19" font-weight="bold" text-anchor="middle" >Wavelength [nm]</text>
<text x="0" y="0" font-size="19" font-weight="bold" text-anchor="middle" transform="translate(38.80,1156.90) rotate(-90)">Refractive index</text>
<text x="15.60" y="976.30" font-size="15.5" font-weight="normal" text-anchor="start" stroke="#000" stroke-width="0.35" letter-spacing="0.9">(c)</text>
<rect x="349.4" y="978.6" width="146.60000000000002" height="182.69999999999993" fill="#fff" stroke="#b4b4b4" stroke-width="1"/>
<line x1="351.09999999999997" y1="986.70" x2="376.8" y2="986.70" stroke="#000000" stroke-width="2.8" stroke-linecap="round"/>
<text x="379.90" y="990.50" font-size="11.5" font-weight="normal" text-anchor="start" letter-spacing="0.3" stroke="#000" stroke-width="0.3">SiO<tspan dy="3.9">2</tspan><tspan dy="-3.9">=3016 Cycles</tspan></text>
<line x1="351.09999999999997" y1="1004.85" x2="376.8" y2="1004.85" stroke="#ff0000" stroke-width="2.8" stroke-linecap="round"/>
<text x="379.90" y="1008.65" font-size="11.5" font-weight="normal" text-anchor="start" letter-spacing="0.3" stroke="#000" stroke-width="0.3">HfO<tspan dy="3.9">2</tspan><tspan dy="-3.9">=1524 Cycles</tspan></text>
<line x1="351.4" y1="1023.00" x2="378.0" y2="1023.00" stroke="#800080" stroke-width="2.8" stroke-dasharray="0 5.1" stroke-linecap="round"/>
<text x="379.90" y="1026.80" font-size="11.5" font-weight="normal" text-anchor="start" letter-spacing="0.3" stroke="#000" stroke-width="0.3">SiO<tspan dy="3.9">2</tspan><tspan dy="-3.9">:HfO</tspan><tspan dy="3.9">2</tspan><tspan dy="-3.9">=[8:2]*20</tspan></text>
<line x1="351.09999999999997" y1="1041.15" x2="376.8" y2="1041.15" stroke="#800080" stroke-width="2.8" stroke-linecap="round"/>
<text x="379.90" y="1044.95" font-size="11.5" font-weight="normal" text-anchor="start" letter-spacing="0.3" stroke="#000" stroke-width="0.3">SiO<tspan dy="3.9">2</tspan><tspan dy="-3.9">:HfO</tspan><tspan dy="3.9">2</tspan><tspan dy="-3.9">=[8:2]*300</tspan></text>
<line x1="351.4" y1="1059.30" x2="378.0" y2="1059.30" stroke="#008080" stroke-width="2.8" stroke-dasharray="0 5.1" stroke-linecap="round"/>
<text x="379.90" y="1063.10" font-size="11.5" font-weight="normal" text-anchor="start" letter-spacing="0.3" stroke="#000" stroke-width="0.3">SiO<tspan dy="3.9">2</tspan><tspan dy="-3.9">:HfO</tspan><tspan dy="3.9">2</tspan><tspan dy="-3.9">=[8:4]*15</tspan></text>
<line x1="351.09999999999997" y1="1077.45" x2="376.8" y2="1077.45" stroke="#008080" stroke-width="2.8" stroke-linecap="round"/>
<text x="379.90" y="1081.25" font-size="11.5" font-weight="normal" text-anchor="start" letter-spacing="0.3" stroke="#000" stroke-width="0.3">SiO<tspan dy="3.9">2</tspan><tspan dy="-3.9">:HfO</tspan><tspan dy="3.9">2</tspan><tspan dy="-3.9">=[8:4]*230</tspan></text>
<line x1="351.4" y1="1095.60" x2="378.0" y2="1095.60" stroke="#ff8000" stroke-width="2.8" stroke-dasharray="0 5.1" stroke-linecap="round"/>
<text x="379.90" y="1099.40" font-size="11.5" font-weight="normal" text-anchor="start" letter-spacing="0.3" stroke="#000" stroke-width="0.3">SiO<tspan dy="3.9">2</tspan><tspan dy="-3.9">:HfO</tspan><tspan dy="3.9">2</tspan><tspan dy="-3.9">=[8:8]*10</tspan></text>
<line x1="351.09999999999997" y1="1113.75" x2="376.8" y2="1113.75" stroke="#ff8000" stroke-width="2.8" stroke-linecap="round"/>
<text x="379.90" y="1117.55" font-size="11.5" font-weight="normal" text-anchor="start" letter-spacing="0.3" stroke="#000" stroke-width="0.3">SiO<tspan dy="3.9">2</tspan><tspan dy="-3.9">:HfO</tspan><tspan dy="3.9">2</tspan><tspan dy="-3.9">=[8:8]*145</tspan></text>
<line x1="351.4" y1="1131.90" x2="378.0" y2="1131.90" stroke="#8000ff" stroke-width="2.8" stroke-dasharray="0 5.1" stroke-linecap="round"/>
<text x="379.90" y="1135.70" font-size="11.5" font-weight="normal" text-anchor="start" letter-spacing="0.3" stroke="#000" stroke-width="0.3">SiO<tspan dy="3.9">2</tspan><tspan dy="-3.9">:HfO</tspan><tspan dy="3.9">2</tspan><tspan dy="-3.9">=[8:16]*6</tspan></text>
<line x1="351.09999999999997" y1="1150.05" x2="376.8" y2="1150.05" stroke="#8000ff" stroke-width="2.8" stroke-linecap="round"/>
<text x="379.90" y="1153.85" font-size="11.5" font-weight="normal" text-anchor="start" letter-spacing="0.3" stroke="#000" stroke-width="0.3">SiO<tspan dy="3.9">2</tspan><tspan dy="-3.9">:HfO</tspan><tspan dy="3.9">2</tspan><tspan dy="-3.9">=[8:16]*76</tspan></text>
<line x1="587.1" y1="411.3" x2="979.5" y2="411.3" stroke="#111" stroke-width="1.3"/>
<clipPath id="clipd"><rect x="590.1" y="23.8" width="389.4" height="386.3"/></clipPath>
<g clip-path="url(#clipd)" fill="none" stroke-linejoin="round">
<path d="M590.1,410.6 979.5,410.6" stroke="#000000" stroke-width="2.8"/>
<path d="M590.4,75.8 591.7,86.0 593.0,93.4 594.3,99.4 595.6,105.4 596.9,111.6 598.2,117.9 599.5,124.1 600.8,130.0 602.1,135.8 603.4,141.4 604.7,146.8 606.0,152.1 607.3,157.2 608.6,162.2 609.9,167.0 611.2,171.7 612.5,176.3 613.8,180.9 615.1,185.3 616.4,189.7 617.7,193.9 619.0,198.1 620.3,202.3 621.6,206.3 622.9,210.3 624.2,214.2 625.5,218.1 626.8,221.9 628.1,225.6 629.4,229.2 630.7,232.7 632.0,236.2 633.3,239.6 634.6,243.0 635.9,246.2 637.2,249.4 638.5,252.6 639.9,255.6 641.2,258.6 642.5,261.5 643.8,264.4 645.1,267.2 646.4,269.9 647.7,272.5 649.0,275.1 650.3,277.6 651.6,280.0 652.9,282.4 654.2,284.8 655.5,287.1 656.8,289.3 658.1,291.5 659.4,293.7 660.7,295.9 662.0,298.0 663.3,300.1 664.6,302.2 665.9,304.3 667.2,306.4 668.5,308.5 669.8,310.6 671.1,312.7 672.4,314.7 673.7,316.8 675.0,318.8 676.3,320.8 677.6,322.8 678.9,324.7 680.2,326.6 681.5,328.4 682.8,330.2 684.1,331.9 685.4,333.6 686.7,335.2 688.0,336.8 689.3,338.3 690.6,339.8 691.9,341.2 693.2,342.5 694.5,343.8 695.8,345.1 697.1,346.4 698.4,347.6 699.7,348.8 701.0,350.0 702.3,351.2 703.6,352.3 704.9,353.5 706.2,354.6 707.5,355.7 708.8,356.8 710.1,357.9 711.4,359.0 712.7,360.0 714.0,361.1 715.3,362.1 716.6,363.1 717.9,364.1 719.2,365.1 720.5,366.1 721.8,367.0 723.1,368.0 724.4,368.9 725.7,369.8 727.0,370.7 728.3,371.6 729.6,372.5 730.9,373.4 732.2,374.2 733.5,375.0 734.8,375.9 736.1,376.7 737.5,377.5 738.8,378.2 740.1,379.0 741.4,379.8 742.7,380.5 744.0,381.2 745.3,382.0 746.6,382.7 747.9,383.4 749.2,384.0 750.5,384.7 751.8,385.4 753.1,386.0 754.4,386.6 755.7,387.3 757.0,387.9 758.3,388.5 759.6,389.0 760.9,389.6 762.2,390.2 763.5,390.7 764.8,391.3 766.1,391.8 767.4,392.3 768.7,392.8 770.0,393.3 771.3,393.8 772.6,394.3 773.9,394.7 775.2,395.2 776.5,395.6 777.8,396.1 779.1,396.5 780.4,396.9 781.7,397.3 783.0,397.7 784.3,398.1 785.6,398.4 786.9,398.8 788.2,399.2 789.5,399.5 790.8,399.9 792.1,400.2 793.4,400.5 794.7,400.8 796.0,401.2 797.3,401.5 798.6,401.8 799.9,402.0 801.2,402.3 802.5,402.6 803.8,402.9 805.1,403.1 806.4,403.4 807.7,403.6 809.0,403.9 810.3,404.1 811.6,404.3 812.9,404.6 814.2,404.8 815.5,405.0 816.8,405.2 818.1,405.4 819.4,405.6 820.7,405.8 822.0,406.0 823.3,406.2 824.6,406.4 825.9,406.5 827.2,406.7 828.5,406.9 829.8,407.0 831.1,407.2 832.4,407.4 833.8,407.5 835.1,407.7 836.4,407.8 837.7,407.9 839.0,408.1 840.3,408.2 841.6,408.3 842.9,408.4 844.2,408.6 845.5,408.7 846.8,408.8 848.1,408.9 849.4,409.0 850.7,409.1 852.0,409.2 853.3,409.3 854.6,409.4 855.9,409.4 857.2,409.5 858.5,409.6 859.8,409.7 861.1,409.8 862.4,409.8 863.7,409.9 865.0,410.0 866.3,410.0 867.6,410.1 868.9,410.1 870.2,410.2 871.5,410.2 872.8,410.3 874.1,410.3 875.4,410.4 876.7,410.4 878.0,410.4 879.3,410.5 880.6,410.5 881.9,410.5 883.2,410.6 884.5,410.6 885.8,410.6 887.1,410.6 888.4,410.6 889.7,410.7 891.0,410.7 892.3,410.7 893.6,410.7 894.9,410.7 896.2,410.7 897.5,410.7 898.8,410.7 900.1,410.7 901.4,410.8 902.7,410.8 904.0,410.8 905.3,410.8 906.6,410.8 907.9,410.8 909.2,410.8 910.5,410.8 911.8,410.8 913.1,410.8 914.4,410.8 915.7,410.8 917.0,410.8 918.3,410.8 919.6,410.8 920.9,410.8 922.2,410.8 923.5,410.8 924.8,410.8 926.1,410.8 927.4,410.8 928.7,410.8 930.0,410.8 931.4,410.8 932.7,410.8 934.0,410.8 935.3,410.8 936.6,410.8 937.9,410.8 939.2,410.8 940.5,410.8 941.8,410.8 943.1,410.8 944.4,410.8 945.7,410.8 947.0,410.8 948.3,410.8 949.6,410.8 950.9,410.8 952.2,410.8 953.5,410.8 954.8,410.8 956.1,410.8 957.4,410.8 958.7,410.8 960.0,410.8 961.3,410.8 962.6,410.8 963.9,410.8 965.2,410.8 966.5,410.8 967.8,410.8 969.1,410.8 970.4,410.8 971.7,410.8 973.0,410.8 974.3,410.8 975.6,410.8 976.9,410.8 978.2,410.8 979.5,410.8" stroke="#ff0000" stroke-width="2.8"/>
<path d="M590.3,288.9 591.6,291.8 592.9,294.7 594.2,297.5 595.5,300.2 596.8,302.9 598.1,305.5 599.4,308.1 600.7,310.6 602.0,313.1 603.3,315.5 604.6,317.9 605.9,320.2 607.2,322.5 608.5,324.7 609.8,326.8 611.1,329.0 612.4,331.0 613.7,333.1 615.0,335.1 616.3,337.0 617.6,338.9 618.9,340.8 620.2,342.6 621.5,344.4 622.8,346.1 624.1,347.8 625.4,349.5 626.7,351.1 628.0,352.7 629.4,354.2 630.7,355.8 632.0,357.2 633.3,358.7 634.6,360.1 635.9,361.5 637.2,362.8 638.5,364.2 639.8,365.5 641.1,366.7 642.4,368.0 643.7,369.2 645.0,370.3 646.3,371.5 647.6,372.6 648.9,373.7 650.2,374.8 651.5,375.8 652.8,376.8 654.1,377.8 655.4,378.8 656.7,379.7 658.0,380.6 659.3,381.5 660.6,382.4 661.9,383.2 663.2,384.0 664.5,384.8 665.8,385.6 667.1,386.3 668.4,387.0 669.7,387.7 671.0,388.4 672.3,389.1 673.6,389.7 674.9,390.3 676.2,390.9 677.5,391.5 678.8,392.0 680.1,392.5 681.4,393.0 682.7,393.5 684.0,394.0 685.3,394.5 686.6,394.9 687.9,395.3 689.2,395.7 690.5,396.1 691.8,396.4 693.1,396.8 694.4,397.1 695.7,397.4 697.0,397.7 698.3,398.0 699.6,398.3 700.9,398.5 702.2,398.8 703.5,399.0 704.8,399.2 706.1,399.4 707.5,399.6 708.8,399.8 710.1,399.9 711.4,400.1 712.7,400.2 714.0,400.4 715.3,400.5 716.6,400.6 717.9,400.7 719.2,400.8 720.5,400.9 721.8,401.0 723.1,401.0 724.4,401.1 725.7,401.2 727.0,401.2 728.3,401.3 729.6,401.3 730.9,401.4 732.2,401.4 733.5,401.5 734.8,401.5 736.1,401.5 737.4,401.6 738.7,401.6 740.0,401.6 741.3,401.6 742.6,401.7 743.9,401.7 745.2,401.7 746.5,401.8 747.8,401.8 749.1,401.8 750.4,401.8 751.7,401.9 753.0,401.9 754.3,401.9 755.6,401.9 756.9,402.0 758.2,402.0 759.5,402.0 760.8,402.0 762.1,402.1 763.4,402.1 764.7,402.1 766.0,402.1 767.3,402.2 768.6,402.2 769.9,402.2 771.2,402.2 772.5,402.2 773.8,402.3 775.1,402.3 776.4,402.3 777.7,402.3 779.0,402.4 780.3,402.4 781.6,402.4 782.9,402.4 784.2,402.5 785.6,402.5 786.9,402.5 788.2,402.5 789.5,402.5 790.8,402.6 792.1,402.6 793.4,402.6 794.7,402.6 796.0,402.7 797.3,402.7 798.6,402.7 799.9,402.7 801.2,402.8 802.5,402.8 803.8,402.8 805.1,402.8 806.4,402.9 807.7,402.9 809.0,402.9 810.3,402.9 811.6,403.0 812.9,403.0 814.2,403.0 815.5,403.1 816.8,403.1 818.1,403.1 819.4,403.1 820.7,403.2 822.0,403.2 823.3,403.2 824.6,403.3 825.9,403.3 827.2,403.3 828.5,403.3 829.8,403.4 831.1,403.4 832.4,403.4 833.7,403.5 835.0,403.5 836.3,403.5 837.6,403.6 838.9,403.6 840.2,403.7 841.5,403.7 842.8,403.7 844.1,403.8 845.4,403.8 846.7,403.8 848.0,403.9 849.3,403.9 850.6,404.0 851.9,404.0 853.2,404.0 854.5,404.1 855.8,404.1 857.1,404.2 858.4,404.2 859.7,404.3 861.0,404.3 862.3,404.4 863.7,404.4 865.0,404.5 866.3,404.5 867.6,404.6 868.9,404.6 870.2,404.7 871.5,404.7 872.8,404.8 874.1,404.8 875.4,404.9 876.7,404.9 878.0,405.0 879.3,405.0 880.6,405.1 881.9,405.1 883.2,405.2 884.5,405.2 885.8,405.3 887.1,405.4 888.4,405.4 889.7,405.5 891.0,405.5 892.3,405.6 893.6,405.6 894.9,405.7 896.2,405.7 897.5,405.8 898.8,405.9 900.1,405.9 901.4,406.0 902.7,406.0 904.0,406.1 905.3,406.1 906.6,406.2 907.9,406.2 909.2,406.3 910.5,406.3 911.8,406.4 913.1,406.4 914.4,406.5 915.7,406.6 917.0,406.6 918.3,406.7 919.6,406.7 920.9,406.8 922.2,406.8 923.5,406.9 924.8,406.9 926.1,406.9 927.4,407.0 928.7,407.0 930.0,407.1 931.3,407.1 932.6,407.2 933.9,407.2 935.2,407.3 936.5,407.3 937.8,407.3 939.1,407.4 940.4,407.4 941.8,407.5 943.1,407.5 944.4,407.5 945.7,407.6 947.0,407.6 948.3,407.6 949.6,407.7 950.9,407.7 952.2,407.7 953.5,407.7 954.8,407.8 956.1,407.8 957.4,407.8 958.7,407.8 960.0,407.8 961.3,407.9 962.6,407.9 963.9,407.9 965.2,407.9 966.5,407.9 967.8,407.9 969.1,407.9 970.4,408.0 971.7,408.0 973.0,408.0 974.3,408.0 975.6,408.0 976.9,408.0 978.2,408.0 979.5,408.0" stroke="#00ffff" stroke-width="2.8"/>
<path d="M590.3,96.1 591.6,104.1 592.9,111.8 594.2,119.1 595.5,126.0 596.8,132.6 598.1,138.9 599.4,144.8 600.7,150.5 602.0,155.9 603.3,161.1 604.6,166.1 605.9,171.0 607.2,175.7 608.5,180.4 609.8,185.0 611.1,189.6 612.4,194.2 613.7,198.9 615.0,203.6 616.3,208.5 617.6,213.2 618.9,217.7 620.2,222.0 621.5,226.0 622.8,229.8 624.1,233.5 625.4,237.0 626.7,240.3 628.0,243.6 629.4,246.8 630.7,250.0 632.0,253.1 633.3,256.1 634.6,259.1 635.9,262.0 637.2,264.8 638.5,267.6 639.8,270.3 641.1,273.0 642.4,275.6 643.7,278.1 645.0,280.6 646.3,283.1 647.6,285.5 648.9,287.8 650.2,290.1 651.5,292.4 652.8,294.6 654.1,296.7 655.4,298.8 656.7,300.9 658.0,302.9 659.3,304.9 660.6,306.8 661.9,308.7 663.2,310.6 664.5,312.4 665.8,314.2 667.1,315.9 668.4,317.6 669.7,319.3 671.0,320.9 672.3,322.5 673.6,324.1 674.9,325.7 676.2,327.2 677.5,328.7 678.8,330.1 680.1,331.6 681.4,333.0 682.7,334.4 684.0,335.8 685.3,337.1 686.6,338.4 687.9,339.7 689.2,341.0 690.5,342.3 691.8,343.5 693.1,344.8 694.4,346.0 695.7,347.1 697.0,348.3 698.3,349.5 699.6,350.6 700.9,351.7 702.2,352.8 703.5,353.9 704.8,355.0 706.1,356.0 707.5,357.1 708.8,358.1 710.1,359.1 711.4,360.1 712.7,361.1 714.0,362.0 715.3,363.0 716.6,363.9 717.9,364.9 719.2,365.8 720.5,366.7 721.8,367.6 723.1,368.5 724.4,369.4 725.7,370.3 727.0,371.1 728.3,372.0 729.6,372.8 730.9,373.7 732.2,374.5 733.5,375.4 734.8,376.2 736.1,377.0 737.4,377.8 738.7,378.6 740.0,379.4 741.3,380.2 742.6,381.0 743.9,381.8 745.2,382.6 746.5,383.4 747.8,384.2 749.1,384.9 750.4,385.7 751.7,386.4 753.0,387.2 754.3,387.9 755.6,388.6 756.9,389.2 758.2,389.9 759.5,390.5 760.8,391.1 762.1,391.7 763.4,392.3 764.7,392.8 766.0,393.3 767.3,393.8 768.6,394.3 769.9,394.7 771.2,395.2 772.5,395.6 773.8,396.0 775.1,396.3 776.4,396.7 777.7,397.1 779.0,397.4 780.3,397.7 781.6,398.1 782.9,398.4 784.2,398.7 785.6,399.0 786.9,399.4 788.2,399.7 789.5,400.0 790.8,400.3 792.1,400.6 793.4,400.9 794.7,401.2 796.0,401.5 797.3,401.7 798.6,402.0 799.9,402.3 801.2,402.6 802.5,402.8 803.8,403.1 805.1,403.3 806.4,403.6 807.7,403.8 809.0,404.1 810.3,404.3 811.6,404.5 812.9,404.8 814.2,405.0 815.5,405.2 816.8,405.4 818.1,405.6 819.4,405.8 820.7,406.0 822.0,406.2 823.3,406.4 824.6,406.6 825.9,406.8 827.2,407.0 828.5,407.1 829.8,407.3 831.1,407.5 832.4,407.6 833.7,407.8 835.0,407.9 836.3,408.1 837.6,408.2 838.9,408.3 840.2,408.5 841.5,408.6 842.8,408.7 844.1,408.8 845.4,408.9 846.7,409.0 848.0,409.1 849.3,409.2 850.6,409.3 851.9,409.4 853.2,409.5 854.5,409.6 855.8,409.7 857.1,409.8 858.4,409.8 859.7,409.9 861.0,410.0 862.3,410.0 863.7,410.1 865.0,410.1 866.3,410.2 867.6,410.2 868.9,410.3 870.2,410.3 871.5,410.3 872.8,410.4 874.1,410.4 875.4,410.4 876.7,410.5 878.0,410.5 879.3,410.5 880.6,410.5 881.9,410.6 883.2,410.6 884.5,410.6 885.8,410.6 887.1,410.6 888.4,410.6 889.7,410.6 891.0,410.6 892.3,410.6 893.6,410.6 894.9,410.6 896.2,410.6 897.5,410.6 898.8,410.6 900.1,410.6 901.4,410.6 902.7,410.6 904.0,410.6 905.3,410.6 906.6,410.6 907.9,410.6 909.2,410.6 910.5,410.6 911.8,410.6 913.1,410.6 914.4,410.6 915.7,410.6 917.0,410.6 918.3,410.6 919.6,410.6 920.9,410.6 922.2,410.6 923.5,410.6 924.8,410.6 926.1,410.6 927.4,410.6 928.7,410.6 930.0,410.6 931.3,410.6 932.6,410.6 933.9,410.6 935.2,410.6 936.5,410.6 937.8,410.6 939.1,410.6 940.4,410.6 941.8,410.6 943.1,410.6 944.4,410.6 945.7,410.6 947.0,410.6 948.3,410.6 949.6,410.6 950.9,410.6 952.2,410.6 953.5,410.6 954.8,410.6 956.1,410.6 957.4,410.6 958.7,410.6 960.0,410.6 961.3,410.6 962.6,410.6 963.9,410.6 965.2,410.6 966.5,410.6 967.8,410.6 969.1,410.6 970.4,410.6 971.7,410.6 973.0,410.6 974.3,410.6 975.6,410.6 976.9,410.6 978.2,410.6 979.5,410.6" stroke="#800000" stroke-width="2.8"/>
<path d="M590.4,24.0 591.7,29.5 593.0,34.3 594.3,39.0 595.6,43.8 596.9,49.1 598.2,55.0 599.5,61.2 600.8,67.3 602.1,73.1 603.4,78.8 604.7,84.3 606.0,89.5 607.3,94.7 608.6,99.7 609.9,104.5 611.2,109.3 612.5,113.9 613.8,118.5 615.1,123.0 616.4,127.5 617.7,131.9 619.0,136.2 620.3,140.5 621.6,144.8 622.9,149.0 624.2,153.1 625.5,157.2 626.8,161.3 628.1,165.3 629.4,169.2 630.7,173.1 632.0,176.9 633.3,180.7 634.6,184.5 635.9,188.2 637.2,191.8 638.5,195.4 639.9,199.0 641.2,202.5 642.5,206.0 643.8,209.4 645.1,212.8 646.4,216.1 647.7,219.4 649.0,222.6 650.3,225.8 651.6,229.0 652.9,232.1 654.2,235.2 655.5,238.2 656.8,241.2 658.1,244.1 659.4,247.0 660.7,249.9 662.0,252.7 663.3,255.5 664.6,258.3 665.9,261.0 667.2,263.7 668.5,266.3 669.8,268.9 671.1,271.5 672.4,274.0 673.7,276.5 675.0,279.0 676.3,281.4 677.6,283.8 678.9,286.1 680.2,288.5 681.5,290.7 682.8,293.0 684.1,295.2 685.4,297.4 686.7,299.6 688.0,301.7 689.3,303.8 690.6,305.9 691.9,307.9 693.2,309.9 694.5,311.9 695.8,313.9 697.1,315.8 698.4,317.7 699.7,319.5 701.0,321.4 702.3,323.2 703.6,325.0 704.9,326.7 706.2,328.4 707.5,330.1 708.8,331.8 710.1,333.4 711.4,335.0 712.7,336.6 714.0,338.2 715.3,339.7 716.6,341.2 717.9,342.7 719.2,344.1 720.5,345.6 721.8,346.9 723.1,348.3 724.4,349.6 725.7,351.0 727.0,352.3 728.3,353.5 729.6,354.7 730.9,356.0 732.2,357.1 733.5,358.3 734.8,359.4 736.1,360.5 737.5,361.6 738.8,362.7 740.1,363.7 741.4,364.7 742.7,365.7 744.0,366.7 745.3,367.6 746.6,368.5 747.9,369.4 749.2,370.2 750.5,371.1 751.8,371.9 753.1,372.7 754.4,373.5 755.7,374.2 757.0,374.9 758.3,375.6 759.6,376.3 760.9,377.0 762.2,377.6 763.5,378.2 764.8,378.8 766.1,379.4 767.4,379.9 768.7,380.5 770.0,381.0 771.3,381.5 772.6,382.0 773.9,382.5 775.2,382.9 776.5,383.4 777.8,383.8 779.1,384.2 780.4,384.6 781.7,385.0 783.0,385.4 784.3,385.7 785.6,386.1 786.9,386.4 788.2,386.7 789.5,387.0 790.8,387.3 792.1,387.6 793.4,387.9 794.7,388.1 796.0,388.4 797.3,388.7 798.6,388.9 799.9,389.1 801.2,389.4 802.5,389.6 803.8,389.8 805.1,390.0 806.4,390.2 807.7,390.4 809.0,390.6 810.3,390.8 811.6,391.0 812.9,391.2 814.2,391.3 815.5,391.5 816.8,391.7 818.1,391.9 819.4,392.1 820.7,392.2 822.0,392.4 823.3,392.6 824.6,392.8 825.9,392.9 827.2,393.1 828.5,393.3 829.8,393.5 831.1,393.7 832.4,393.8 833.8,394.0 835.1,394.2 836.4,394.4 837.7,394.6 839.0,394.7 840.3,394.9 841.6,395.1 842.9,395.3 844.2,395.5 845.5,395.7 846.8,395.8 848.1,396.0 849.4,396.2 850.7,396.4 852.0,396.6 853.3,396.8 854.6,396.9 855.9,397.1 857.2,397.3 858.5,397.5 859.8,397.7 861.1,397.9 862.4,398.0 863.7,398.2 865.0,398.4 866.3,398.6 867.6,398.8 868.9,399.0 870.2,399.1 871.5,399.3 872.8,399.5 874.1,399.7 875.4,399.8 876.7,400.0 878.0,400.2 879.3,400.4 880.6,400.5 881.9,400.7 883.2,400.9 884.5,401.1 885.8,401.2 887.1,401.4 888.4,401.6 889.7,401.7 891.0,401.9 892.3,402.1 893.6,402.2 894.9,402.4 896.2,402.6 897.5,402.7 898.8,402.9 900.1,403.0 901.4,403.2 902.7,403.3 904.0,403.5 905.3,403.6 906.6,403.8 907.9,403.9 909.2,404.1 910.5,404.2 911.8,404.4 913.1,404.5 914.4,404.7 915.7,404.8 917.0,404.9 918.3,405.1 919.6,405.2 920.9,405.3 922.2,405.5 923.5,405.6 924.8,405.7 926.1,405.8 927.4,405.9 928.7,406.1 930.0,406.2 931.4,406.3 932.7,406.4 934.0,406.5 935.3,406.6 936.6,406.7 937.9,406.8 939.2,406.9 940.5,407.0 941.8,407.1 943.1,407.2 944.4,407.3 945.7,407.3 947.0,407.4 948.3,407.5 949.6,407.6 950.9,407.7 952.2,407.7 953.5,407.8 954.8,407.9 956.1,407.9 957.4,408.0 958.7,408.0 960.0,408.1 961.3,408.1 962.6,408.2 963.9,408.2 965.2,408.2 966.5,408.3 967.8,408.3 969.1,408.3 970.4,408.4 971.7,408.4 973.0,408.4 974.3,408.4 975.6,408.4 976.9,408.4 978.2,408.4 979.5,408.4" stroke="#000080" stroke-width="2.8"/>
</g>
<line x1="590.1" y1="24.8" x2="979.5" y2="24.8" stroke="#8a8a8a" stroke-width="2"/>
<line x1="979.5" y1="24.8" x2="979.5" y2="417.1" stroke="#666" stroke-width="1.6"/>
<line x1="590.1" y1="24.8" x2="590.1" y2="417.1" stroke="#888" stroke-width="1.3"/>
<line x1="584.3000000000001" y1="24.8" x2="590.1" y2="24.8" stroke="#888" stroke-width="1.2"/>
<line x1="629.04" y1="24.8" x2="629.04" y2="27.8" stroke="#333" stroke-width="1"/>
<line x1="976.5" y1="63.45" x2="979.5" y2="63.45" stroke="#222" stroke-width="1"/>
<line x1="667.98" y1="24.8" x2="667.98" y2="29.8" stroke="#333" stroke-width="1"/>
<line x1="974.5" y1="102.10" x2="979.5" y2="102.10" stroke="#222" stroke-width="1"/>
<line x1="706.92" y1="24.8" x2="706.92" y2="27.8" stroke="#333" stroke-width="1"/>
<line x1="976.5" y1="140.75" x2="979.5" y2="140.75" stroke="#222" stroke-width="1"/>
<line x1="745.86" y1="24.8" x2="745.86" y2="29.8" stroke="#333" stroke-width="1"/>
<line x1="974.5" y1="179.40" x2="979.5" y2="179.40" stroke="#222" stroke-width="1"/>
<line x1="784.80" y1="24.8" x2="784.80" y2="27.8" stroke="#333" stroke-width="1"/>
<line x1="976.5" y1="218.05" x2="979.5" y2="218.05" stroke="#222" stroke-width="1"/>
<line x1="823.74" y1="24.8" x2="823.74" y2="29.8" stroke="#333" stroke-width="1"/>
<line x1="974.5" y1="256.70" x2="979.5" y2="256.70" stroke="#222" stroke-width="1"/>
<line x1="862.68" y1="24.8" x2="862.68" y2="27.8" stroke="#333" stroke-width="1"/>
<line x1="976.5" y1="295.35" x2="979.5" y2="295.35" stroke="#222" stroke-width="1"/>
<line x1="901.62" y1="24.8" x2="901.62" y2="29.8" stroke="#333" stroke-width="1"/>
<line x1="974.5" y1="334.00" x2="979.5" y2="334.00" stroke="#222" stroke-width="1"/>
<line x1="940.56" y1="24.8" x2="940.56" y2="27.8" stroke="#333" stroke-width="1"/>
<line x1="976.5" y1="372.65" x2="979.5" y2="372.65" stroke="#222" stroke-width="1"/>
<line x1="590.10" y1="411.3" x2="590.10" y2="417.1" stroke="#222" stroke-width="1.2"/>
<text x="590.10" y="436.50" font-size="19" font-weight="bold" text-anchor="middle" >200</text>
<line x1="687.45" y1="411.3" x2="687.45" y2="417.1" stroke="#222" stroke-width="1.2"/>
<text x="687.45" y="436.50" font-size="19" font-weight="bold" text-anchor="middle" >215</text>
<line x1="784.80" y1="411.3" x2="784.80" y2="417.1" stroke="#222" stroke-width="1.2"/>
<text x="784.80" y="436.50" font-size="19" font-weight="bold" text-anchor="middle" >230</text>
<line x1="882.15" y1="411.3" x2="882.15" y2="417.1" stroke="#222" stroke-width="1.2"/>
<text x="882.15" y="436.50" font-size="19" font-weight="bold" text-anchor="middle" >245</text>
<line x1="979.50" y1="411.3" x2="979.50" y2="417.1" stroke="#222" stroke-width="1.2"/>
<text x="979.50" y="436.50" font-size="19" font-weight="bold" text-anchor="middle" >260</text>
<line x1="638.77" y1="411.3" x2="638.77" y2="414.3" stroke="#333" stroke-width="1"/>
<line x1="736.12" y1="411.3" x2="736.12" y2="414.3" stroke="#333" stroke-width="1"/>
<line x1="833.48" y1="411.3" x2="833.48" y2="414.3" stroke="#333" stroke-width="1"/>
<line x1="930.83" y1="411.3" x2="930.83" y2="414.3" stroke="#333" stroke-width="1"/>
<line x1="584.3000000000001" y1="411.30" x2="590.1" y2="411.30" stroke="#222" stroke-width="1.2"/>
<text x="579.80" y="417.20" font-size="19" font-weight="bold" text-anchor="end" >0.00</text>
<line x1="584.3000000000001" y1="282.47" x2="590.1" y2="282.47" stroke="#222" stroke-width="1.2"/>
<text x="579.80" y="288.37" font-size="19" font-weight="bold" text-anchor="end" >0.05</text>
<line x1="584.3000000000001" y1="153.63" x2="590.1" y2="153.63" stroke="#222" stroke-width="1.2"/>
<text x="579.80" y="159.53" font-size="19" font-weight="bold" text-anchor="end" >0.10</text>
<line x1="584.3000000000001" y1="24.80" x2="590.1" y2="24.80" stroke="#222" stroke-width="1.2"/>
<text x="579.80" y="30.70" font-size="19" font-weight="bold" text-anchor="end" >0.15</text>
<line x1="587.1" y1="346.88" x2="590.1" y2="346.88" stroke="#333" stroke-width="1"/>
<line x1="587.1" y1="218.05" x2="590.1" y2="218.05" stroke="#333" stroke-width="1"/>
<line x1="587.1" y1="89.22" x2="590.1" y2="89.22" stroke="#333" stroke-width="1"/>
<text x="784.90" y="471.10" font-size="19" font-weight="bold" text-anchor="middle" >Wavelength [nm]</text>
<text x="0" y="0" font-size="19" font-weight="bold" text-anchor="middle" transform="translate(529.90,207.75) rotate(-90)">Extinction coefficient</text>
<text x="510.60" y="28.80" font-size="15.5" font-weight="normal" text-anchor="start" stroke="#000" stroke-width="0.35" letter-spacing="0.9">(d)</text>
<rect x="828.1" y="32.1" width="145.69999999999993" height="92.0" fill="#fff" stroke="#b4b4b4" stroke-width="1"/>
<line x1="828.8000000000001" y1="40.50" x2="854.5" y2="40.50" stroke="#000000" stroke-width="2.8" stroke-linecap="round"/>
<text x="858.80" y="44.30" font-size="11.5" font-weight="normal" text-anchor="start" letter-spacing="0.3" stroke="#000" stroke-width="0.3">SiO<tspan dy="3.9">2</tspan><tspan dy="-3.9">=3016 Cycles</tspan></text>
<line x1="828.8000000000001" y1="58.50" x2="854.5" y2="58.50" stroke="#ff0000" stroke-width="2.8" stroke-linecap="round"/>
<text x="858.80" y="62.30" font-size="11.5" font-weight="normal" text-anchor="start" letter-spacing="0.3" stroke="#000" stroke-width="0.3">HfO<tspan dy="3.9">2</tspan><tspan dy="-3.9">=1524 Cycles</tspan></text>
<line x1="828.8000000000001" y1="76.50" x2="854.5" y2="76.50" stroke="#00ffff" stroke-width="2.8" stroke-linecap="round"/>
<text x="858.80" y="80.30" font-size="11.5" font-weight="normal" text-anchor="start" letter-spacing="0.3" stroke="#000" stroke-width="0.3">SiO<tspan dy="3.9">2</tspan><tspan dy="-3.9">:HfO</tspan><tspan dy="3.9">2</tspan><tspan dy="-3.9">=[2:2]*615</tspan></text>
<line x1="828.8000000000001" y1="94.50" x2="854.5" y2="94.50" stroke="#800000" stroke-width="2.8" stroke-linecap="round"/>
<text x="858.80" y="98.30" font-size="11.5" font-weight="normal" text-anchor="start" letter-spacing="0.3" stroke="#000" stroke-width="0.3">SiO<tspan dy="3.9">2</tspan><tspan dy="-3.9">:HfO</tspan><tspan dy="3.9">2</tspan><tspan dy="-3.9">=[2:8]*100</tspan></text>
<line x1="828.8000000000001" y1="112.50" x2="854.5" y2="112.50" stroke="#000080" stroke-width="2.8" stroke-linecap="round"/>
<text x="858.80" y="116.30" font-size="11.5" font-weight="normal" text-anchor="start" letter-spacing="0.3" stroke="#000" stroke-width="0.3">SiO<tspan dy="3.9">2</tspan><tspan dy="-3.9">:HfO</tspan><tspan dy="3.9">2</tspan><tspan dy="-3.9">=[2:16]*98</tspan></text>
<line x1="585.3" y1="883.6" x2="979.5" y2="883.6" stroke="#222" stroke-width="1.3"/>
<clipPath id="clipe"><rect x="588.3" y="497.7" width="391.20000000000005" height="387.50000000000006"/></clipPath>
<g clip-path="url(#clipe)" fill="none" stroke-linejoin="round">
<path d="M588.3,883.9 979.5,883.9" stroke="#000000" stroke-width="2.8"/>
<path d="M588.7,549.1 590.0,556.7 591.3,563.6 592.6,570.0 593.9,576.4 595.2,582.8 596.5,589.3 597.8,595.7 599.2,601.9 600.5,607.6 601.8,613.0 603.1,618.2 604.4,623.2 605.7,628.1 607.0,633.0 608.3,638.0 609.6,642.9 610.9,647.7 612.2,652.5 613.5,657.2 614.8,661.7 616.1,666.2 617.5,670.5 618.8,674.7 620.1,678.8 621.4,682.8 622.7,686.7 624.0,690.5 625.3,694.3 626.6,698.0 627.9,701.6 629.2,705.2 630.5,708.7 631.8,712.1 633.1,715.4 634.4,718.7 635.8,722.0 637.1,725.1 638.4,728.2 639.7,731.3 641.0,734.3 642.3,737.2 643.6,740.1 644.9,742.9 646.2,745.6 647.5,748.3 648.8,751.0 650.1,753.6 651.4,756.1 652.7,758.6 654.1,761.0 655.4,763.4 656.7,765.8 658.0,768.1 659.3,770.3 660.6,772.5 661.9,774.7 663.2,776.8 664.5,778.9 665.8,780.9 667.1,782.9 668.4,784.9 669.7,786.8 671.0,788.7 672.3,790.6 673.7,792.4 675.0,794.2 676.3,795.9 677.6,797.6 678.9,799.3 680.2,801.0 681.5,802.6 682.8,804.2 684.1,805.8 685.4,807.4 686.7,808.9 688.0,810.4 689.3,811.9 690.6,813.3 692.0,814.8 693.3,816.2 694.6,817.6 695.9,818.9 697.2,820.3 698.5,821.6 699.8,822.9 701.1,824.1 702.4,825.4 703.7,826.6 705.0,827.8 706.3,829.0 707.6,830.2 708.9,831.3 710.3,832.5 711.6,833.6 712.9,834.6 714.2,835.7 715.5,836.8 716.8,837.8 718.1,838.8 719.4,839.8 720.7,840.8 722.0,841.7 723.3,842.7 724.6,843.6 725.9,844.5 727.2,845.4 728.6,846.3 729.9,847.1 731.2,848.0 732.5,848.8 733.8,849.6 735.1,850.4 736.4,851.2 737.7,851.9 739.0,852.7 740.3,853.4 741.6,854.2 742.9,854.9 744.2,855.6 745.5,856.3 746.8,856.9 748.2,857.6 749.5,858.2 750.8,858.9 752.1,859.5 753.4,860.1 754.7,860.7 756.0,861.3 757.3,861.9 758.6,862.5 759.9,863.0 761.2,863.6 762.5,864.1 763.8,864.6 765.1,865.1 766.5,865.6 767.8,866.1 769.1,866.6 770.4,867.1 771.7,867.5 773.0,868.0 774.3,868.4 775.6,868.9 776.9,869.3 778.2,869.7 779.5,870.1 780.8,870.5 782.1,870.9 783.4,871.3 784.8,871.6 786.1,872.0 787.4,872.3 788.7,872.7 790.0,873.0 791.3,873.4 792.6,873.7 793.9,874.0 795.2,874.3 796.5,874.6 797.8,874.9 799.1,875.2 800.4,875.5 801.7,875.7 803.1,876.0 804.4,876.2 805.7,876.5 807.0,876.7 808.3,877.0 809.6,877.2 810.9,877.4 812.2,877.7 813.5,877.9 814.8,878.1 816.1,878.3 817.4,878.5 818.7,878.7 820.0,878.9 821.4,879.1 822.7,879.2 824.0,879.4 825.3,879.6 826.6,879.7 827.9,879.9 829.2,880.0 830.5,880.2 831.8,880.3 833.1,880.4 834.4,880.6 835.7,880.7 837.0,880.8 838.3,880.9 839.6,881.0 841.0,881.2 842.3,881.3 843.6,881.4 844.9,881.4 846.2,881.5 847.5,881.6 848.8,881.7 850.1,881.8 851.4,881.9 852.7,881.9 854.0,882.0 855.3,882.1 856.6,882.1 857.9,882.2 859.3,882.2 860.6,882.3 861.9,882.3 863.2,882.4 864.5,882.4 865.8,882.4 867.1,882.5 868.4,882.5 869.7,882.5 871.0,882.6 872.3,882.6 873.6,882.6 874.9,882.6 876.2,882.6 877.6,882.7 878.9,882.7 880.2,882.7 881.5,882.7 882.8,882.7 884.1,882.7 885.4,882.7 886.7,882.7 888.0,882.7 889.3,882.7 890.6,882.7 891.9,882.7 893.2,882.7 894.5,882.7 895.9,882.7 897.2,882.7 898.5,882.7 899.8,882.7 901.1,882.7 902.4,882.7 903.7,882.7 905.0,882.7 906.3,882.7 907.6,882.7 908.9,882.7 910.2,882.7 911.5,882.7 912.8,882.7 914.1,882.7 915.5,882.7 916.8,882.7 918.1,882.7 919.4,882.7 920.7,882.7 922.0,882.7 923.3,882.7 924.6,882.7 925.9,882.7 927.2,882.7 928.5,882.7 929.8,882.7 931.1,882.7 932.4,882.7 933.8,882.7 935.1,882.7 936.4,882.7 937.7,882.7 939.0,882.7 940.3,882.7 941.6,882.7 942.9,882.7 944.2,882.7 945.5,882.7 946.8,882.7 948.1,882.7 949.4,882.7 950.7,882.7 952.1,882.7 953.4,882.7 954.7,882.7 956.0,882.7 957.3,882.7 958.6,882.7 959.9,882.7 961.2,882.7 962.5,882.7 963.8,882.7 965.1,882.7 966.4,882.7 967.7,882.7 969.0,882.7 970.4,882.7 971.7,882.7 973.0,882.7 974.3,882.7 975.6,882.7 976.9,882.7 978.2,882.7 979.5,882.7" stroke="#ff0000" stroke-width="2.8"/>
<path d="M588.5,830.9 589.8,832.3 591.1,833.7 592.4,835.1 593.7,836.5 595.0,837.8 596.3,839.1 597.7,840.4 599.0,841.6 600.3,842.9 601.6,844.1 602.9,845.2 604.2,846.4 605.5,847.5 606.8,848.5 608.1,849.6 609.4,850.6 610.7,851.6 612.0,852.6 613.3,853.6 614.7,854.5 616.0,855.4 617.3,856.3 618.6,857.1 619.9,858.0 621.2,858.8 622.5,859.6 623.8,860.4 625.1,861.1 626.4,861.8 627.7,862.5 629.0,863.2 630.3,863.9 631.7,864.5 633.0,865.1 634.3,865.8 635.6,866.3 636.9,866.9 638.2,867.5 639.5,868.0 640.8,868.5 642.1,869.0 643.4,869.5 644.7,869.9 646.0,870.4 647.3,870.8 648.7,871.2 650.0,871.6 651.3,872.0 652.6,872.4 653.9,872.7 655.2,873.0 656.5,873.4 657.8,873.7 659.1,874.0 660.4,874.3 661.7,874.5 663.0,874.8 664.3,875.0 665.7,875.3 667.0,875.5 668.3,875.7 669.6,875.9 670.9,876.1 672.2,876.3 673.5,876.5 674.8,876.6 676.1,876.8 677.4,876.9 678.7,877.1 680.0,877.2 681.3,877.3 682.7,877.4 684.0,877.5 685.3,877.6 686.6,877.7 687.9,877.8 689.2,877.9 690.5,878.0 691.8,878.0 693.1,878.1 694.4,878.1 695.7,878.2 697.0,878.2 698.3,878.3 699.7,878.3 701.0,878.3 702.3,878.3 703.6,878.4 704.9,878.4 706.2,878.4 707.5,878.4 708.8,878.4 710.1,878.4 711.4,878.4 712.7,878.4 714.0,878.4 715.3,878.4 716.7,878.4 718.0,878.4 719.3,878.4 720.6,878.4 721.9,878.4 723.2,878.4 724.5,878.4 725.8,878.4 727.1,878.4 728.4,878.4 729.7,878.4 731.0,878.4 732.3,878.4 733.7,878.4 735.0,878.4 736.3,878.4 737.6,878.4 738.9,878.4 740.2,878.4 741.5,878.4 742.8,878.4 744.1,878.4 745.4,878.4 746.7,878.4 748.0,878.4 749.3,878.4 750.7,878.4 752.0,878.4 753.3,878.4 754.6,878.4 755.9,878.4 757.2,878.4 758.5,878.4 759.8,878.4 761.1,878.4 762.4,878.4 763.7,878.4 765.0,878.4 766.3,878.4 767.7,878.4 769.0,878.4 770.3,878.4 771.6,878.4 772.9,878.4 774.2,878.4 775.5,878.4 776.8,878.4 778.1,878.4 779.4,878.4 780.7,878.4 782.0,878.4 783.3,878.4 784.7,878.4 786.0,878.4 787.3,878.4 788.6,878.4 789.9,878.4 791.2,878.4 792.5,878.4 793.8,878.4 795.1,878.4 796.4,878.4 797.7,878.4 799.0,878.4 800.3,878.4 801.7,878.4 803.0,878.4 804.3,878.4 805.6,878.4 806.9,878.4 808.2,878.4 809.5,878.4 810.8,878.4 812.1,878.4 813.4,878.4 814.7,878.4 816.0,878.4 817.3,878.4 818.7,878.4 820.0,878.4 821.3,878.4 822.6,878.4 823.9,878.4 825.2,878.4 826.5,878.4 827.8,878.4 829.1,878.4 830.4,878.4 831.7,878.4 833.0,878.4 834.3,878.4 835.7,878.4 837.0,878.4 838.3,878.4 839.6,878.4 840.9,878.4 842.2,878.4 843.5,878.4 844.8,878.4 846.1,878.4 847.4,878.4 848.7,878.4 850.0,878.4 851.3,878.4 852.7,878.4 854.0,878.4 855.3,878.4 856.6,878.4 857.9,878.4 859.2,878.4 860.5,878.5 861.8,878.5 863.1,878.5 864.4,878.6 865.7,878.6 867.0,878.7 868.3,878.7 869.7,878.7 871.0,878.8 872.3,878.8 873.6,878.9 874.9,878.9 876.2,878.9 877.5,879.0 878.8,879.0 880.1,879.1 881.4,879.1 882.7,879.2 884.0,879.2 885.3,879.2 886.7,879.3 888.0,879.3 889.3,879.4 890.6,879.4 891.9,879.4 893.2,879.5 894.5,879.5 895.8,879.6 897.1,879.6 898.4,879.6 899.7,879.7 901.0,879.7 902.3,879.8 903.7,879.8 905.0,879.8 906.3,879.9 907.6,879.9 908.9,880.0 910.2,880.0 911.5,880.0 912.8,880.1 914.1,880.1 915.4,880.2 916.7,880.2 918.0,880.2 919.3,880.3 920.7,880.3 922.0,880.3 923.3,880.4 924.6,880.4 925.9,880.4 927.2,880.5 928.5,880.5 929.8,880.5 931.1,880.6 932.4,880.6 933.7,880.6 935.0,880.7 936.3,880.7 937.7,880.7 939.0,880.8 940.3,880.8 941.6,880.8 942.9,880.8 944.2,880.9 945.5,880.9 946.8,880.9 948.1,880.9 949.4,881.0 950.7,881.0 952.0,881.0 953.3,881.0 954.7,881.0 956.0,881.1 957.3,881.1 958.6,881.1 959.9,881.1 961.2,881.1 962.5,881.1 963.8,881.2 965.1,881.2 966.4,881.2 967.7,881.2 969.0,881.2 970.3,881.2 971.7,881.2 973.0,881.2 974.3,881.2 975.6,881.2 976.9,881.2 978.2,881.2 979.5,881.2" stroke="#00ff00" stroke-width="2.8"/>
<path d="M588.4,769.6 589.7,771.1 591.0,772.6 592.3,774.1 593.6,775.6 594.9,777.1 596.2,778.6 597.6,780.0 598.9,781.4 600.2,782.9 601.5,784.3 602.8,785.7 604.1,787.0 605.4,788.4 606.7,789.8 608.0,791.1 609.3,792.4 610.6,793.7 611.9,795.1 613.3,796.3 614.6,797.6 615.9,798.9 617.2,800.1 618.5,801.4 619.8,802.6 621.1,803.8 622.4,805.0 623.7,806.2 625.0,807.4 626.3,808.6 627.6,809.7 628.9,810.9 630.3,812.0 631.6,813.1 632.9,814.3 634.2,815.4 635.5,816.4 636.8,817.5 638.1,818.6 639.4,819.6 640.7,820.7 642.0,821.7 643.3,822.7 644.6,823.7 646.0,824.7 647.3,825.7 648.6,826.7 649.9,827.7 651.2,828.6 652.5,829.6 653.8,830.5 655.1,831.4 656.4,832.3 657.7,833.2 659.0,834.1 660.3,835.0 661.6,835.9 663.0,836.7 664.3,837.6 665.6,838.4 666.9,839.2 668.2,840.1 669.5,840.9 670.8,841.7 672.1,842.5 673.4,843.2 674.7,844.0 676.0,844.8 677.3,845.5 678.7,846.2 680.0,847.0 681.3,847.7 682.6,848.4 683.9,849.1 685.2,849.8 686.5,850.5 687.8,851.2 689.1,851.8 690.4,852.5 691.7,853.1 693.0,853.8 694.4,854.4 695.7,855.0 697.0,855.6 698.3,856.2 699.6,856.8 700.9,857.4 702.2,858.0 703.5,858.6 704.8,859.1 706.1,859.7 707.4,860.2 708.7,860.8 710.0,861.3 711.4,861.8 712.7,862.3 714.0,862.8 715.3,863.3 716.6,863.8 717.9,864.3 719.2,864.8 720.5,865.2 721.8,865.7 723.1,866.1 724.4,866.6 725.7,867.0 727.1,867.4 728.4,867.8 729.7,868.3 731.0,868.7 732.3,869.1 733.6,869.4 734.9,869.8 736.2,870.2 737.5,870.6 738.8,870.9 740.1,871.3 741.4,871.6 742.7,872.0 744.1,872.3 745.4,872.7 746.7,873.0 748.0,873.3 749.3,873.6 750.6,873.9 751.9,874.2 753.2,874.5 754.5,874.8 755.8,875.1 757.1,875.3 758.4,875.6 759.8,875.9 761.1,876.1 762.4,876.4 763.7,876.6 765.0,876.8 766.3,877.1 767.6,877.3 768.9,877.5 770.2,877.7 771.5,877.9 772.8,878.1 774.1,878.3 775.4,878.5 776.8,878.7 778.1,878.9 779.4,879.1 780.7,879.3 782.0,879.4 783.3,879.6 784.6,879.7 785.9,879.9 787.2,880.1 788.5,880.2 789.8,880.3 791.1,880.5 792.5,880.6 793.8,880.7 795.1,880.9 796.4,881.0 797.7,881.1 799.0,881.2 800.3,881.3 801.6,881.4 802.9,881.5 804.2,881.6 805.5,881.7 806.8,881.8 808.1,881.8 809.5,881.9 810.8,882.0 812.1,882.1 813.4,882.1 814.7,882.2 816.0,882.3 817.3,882.3 818.6,882.4 819.9,882.4 821.2,882.5 822.5,882.5 823.8,882.6 825.2,882.6 826.5,882.6 827.8,882.7 829.1,882.7 830.4,882.7 831.7,882.7 833.0,882.8 834.3,882.8 835.6,882.8 836.9,882.8 838.2,882.8 839.5,882.8 840.8,882.9 842.2,882.9 843.5,882.9 844.8,882.9 846.1,882.9 847.4,882.9 848.7,882.9 850.0,882.9 851.3,882.9 852.6,882.9 853.9,882.9 855.2,882.9 856.5,882.9 857.9,882.9 859.2,882.9 860.5,882.9 861.8,882.9 863.1,882.9 864.4,882.9 865.7,882.9 867.0,882.9 868.3,882.9 869.6,882.9 870.9,882.9 872.2,882.9 873.5,882.9 874.9,882.9 876.2,882.9 877.5,882.9 878.8,882.9 880.1,882.9 881.4,882.9 882.7,882.9 884.0,882.9 885.3,882.9 886.6,882.9 887.9,882.9 889.2,882.9 890.6,882.9 891.9,882.9 893.2,882.9 894.5,882.9 895.8,882.9 897.1,882.9 898.4,882.9 899.7,882.9 901.0,882.9 902.3,882.9 903.6,882.9 904.9,882.9 906.3,882.9 907.6,882.9 908.9,882.9 910.2,882.9 911.5,882.9 912.8,882.9 914.1,882.9 915.4,882.9 916.7,882.9 918.0,882.9 919.3,882.9 920.6,882.9 921.9,882.9 923.3,882.9 924.6,882.9 925.9,882.9 927.2,882.9 928.5,882.9 929.8,882.9 931.1,882.9 932.4,882.9 933.7,882.9 935.0,882.9 936.3,882.9 937.6,882.9 939.0,882.9 940.3,882.9 941.6,882.9 942.9,882.9 944.2,882.9 945.5,882.9 946.8,882.9 948.1,882.9 949.4,882.9 950.7,882.9 952.0,882.9 953.3,882.9 954.6,882.9 956.0,882.9 957.3,882.9 958.6,882.9 959.9,882.9 961.2,882.9 962.5,882.9 963.8,882.9 965.1,882.9 966.4,882.9 967.7,882.9 969.0,882.9 970.3,882.9 971.7,882.9 973.0,882.9 974.3,882.9 975.6,882.9 976.9,882.9 978.2,882.9 979.5,882.9" stroke="#0000ff" stroke-width="2.8"/>
<path d="M588.5,681.5 589.8,684.7 591.1,688.0 592.4,691.2 593.7,694.5 595.0,697.7 596.3,700.9 597.7,704.1 599.0,707.3 600.3,710.5 601.6,713.7 602.9,716.8 604.2,720.0 605.5,723.1 606.8,726.2 608.1,729.2 609.4,732.3 610.7,735.3 612.0,738.3 613.3,741.2 614.7,744.1 616.0,747.0 617.3,749.8 618.6,752.6 619.9,755.4 621.2,758.1 622.5,760.8 623.8,763.4 625.1,766.0 626.4,768.5 627.7,771.0 629.0,773.5 630.3,775.8 631.7,778.2 633.0,780.4 634.3,782.6 635.6,784.8 636.9,786.9 638.2,789.0 639.5,791.0 640.8,793.0 642.1,794.9 643.4,796.8 644.7,798.6 646.0,800.4 647.3,802.2 648.7,803.9 650.0,805.6 651.3,807.3 652.6,808.9 653.9,810.5 655.2,812.0 656.5,813.6 657.8,815.1 659.1,816.6 660.4,818.1 661.7,819.5 663.0,820.9 664.3,822.3 665.7,823.7 667.0,825.0 668.3,826.3 669.6,827.6 670.9,828.9 672.2,830.1 673.5,831.3 674.8,832.4 676.1,833.6 677.4,834.6 678.7,835.7 680.0,836.7 681.3,837.7 682.7,838.6 684.0,839.5 685.3,840.3 686.6,841.1 687.9,841.8 689.2,842.5 690.5,843.2 691.8,843.8 693.1,844.4 694.4,845.0 695.7,845.5 697.0,846.0 698.3,846.5 699.7,846.9 701.0,847.3 702.3,847.7 703.6,848.1 704.9,848.5 706.2,848.8 707.5,849.1 708.8,849.4 710.1,849.8 711.4,850.1 712.7,850.3 714.0,850.6 715.3,850.9 716.7,851.2 718.0,851.4 719.3,851.7 720.6,852.0 721.9,852.2 723.2,852.5 724.5,852.7 725.8,853.0 727.1,853.2 728.4,853.5 729.7,853.8 731.0,854.0 732.3,854.3 733.7,854.6 735.0,854.8 736.3,855.1 737.6,855.4 738.9,855.6 740.2,855.9 741.5,856.2 742.8,856.4 744.1,856.7 745.4,857.0 746.7,857.2 748.0,857.5 749.3,857.8 750.7,858.0 752.0,858.3 753.3,858.6 754.6,858.8 755.9,859.1 757.2,859.4 758.5,859.6 759.8,859.9 761.1,860.1 762.4,860.4 763.7,860.7 765.0,860.9 766.3,861.2 767.7,861.4 769.0,861.7 770.3,861.9 771.6,862.2 772.9,862.4 774.2,862.7 775.5,862.9 776.8,863.2 778.1,863.4 779.4,863.6 780.7,863.9 782.0,864.1 783.3,864.4 784.7,864.6 786.0,864.8 787.3,865.0 788.6,865.3 789.9,865.5 791.2,865.7 792.5,865.9 793.8,866.1 795.1,866.3 796.4,866.5 797.7,866.7 799.0,866.9 800.3,867.1 801.7,867.3 803.0,867.5 804.3,867.7 805.6,867.9 806.9,868.1 808.2,868.3 809.5,868.5 810.8,868.7 812.1,868.9 813.4,869.0 814.7,869.2 816.0,869.4 817.3,869.6 818.7,869.7 820.0,869.9 821.3,870.1 822.6,870.3 823.9,870.4 825.2,870.6 826.5,870.7 827.8,870.9 829.1,871.1 830.4,871.2 831.7,871.4 833.0,871.5 834.3,871.7 835.7,871.8 837.0,872.0 838.3,872.1 839.6,872.3 840.9,872.4 842.2,872.5 843.5,872.7 844.8,872.8 846.1,873.0 847.4,873.1 848.7,873.2 850.0,873.4 851.3,873.5 852.7,873.6 854.0,873.7 855.3,873.9 856.6,874.0 857.9,874.1 859.2,874.2 860.5,874.3 861.8,874.5 863.1,874.6 864.4,874.7 865.7,874.8 867.0,874.9 868.3,875.0 869.7,875.1 871.0,875.2 872.3,875.3 873.6,875.4 874.9,875.5 876.2,875.7 877.5,875.8 878.8,875.9 880.1,875.9 881.4,876.0 882.7,876.1 884.0,876.2 885.3,876.3 886.7,876.4 888.0,876.5 889.3,876.6 890.6,876.7 891.9,876.8 893.2,876.9 894.5,877.0 895.8,877.0 897.1,877.1 898.4,877.2 899.7,877.3 901.0,877.4 902.3,877.4 903.7,877.5 905.0,877.6 906.3,877.7 907.6,877.8 908.9,877.8 910.2,877.9 911.5,878.0 912.8,878.0 914.1,878.1 915.4,878.2 916.7,878.3 918.0,878.3 919.3,878.4 920.7,878.5 922.0,878.5 923.3,878.6 924.6,878.7 925.9,878.7 927.2,878.8 928.5,878.9 929.8,878.9 931.1,879.0 932.4,879.0 933.7,879.1 935.0,879.2 936.3,879.2 937.7,879.3 939.0,879.3 940.3,879.4 941.6,879.5 942.9,879.5 944.2,879.6 945.5,879.6 946.8,879.7 948.1,879.7 949.4,879.8 950.7,879.8 952.0,879.9 953.3,880.0 954.7,880.0 956.0,880.1 957.3,880.1 958.6,880.2 959.9,880.2 961.2,880.3 962.5,880.3 963.8,880.4 965.1,880.4 966.4,880.5 967.7,880.5 969.0,880.6 970.3,880.6 971.7,880.7 973.0,880.7 974.3,880.8 975.6,880.8 976.9,880.9 978.2,880.9 979.5,881.0" stroke="#ff00ff" stroke-width="2.8"/>
<path d="M588.3,883.9 979.5,883.9" stroke="#808000" stroke-width="2.8"/>
</g>
<line x1="588.3" y1="498.7" x2="979.5" y2="498.7" stroke="#7a7a7a" stroke-width="1.6"/>
<line x1="979.5" y1="498.7" x2="979.5" y2="889.4" stroke="#777" stroke-width="1.8"/>
<line x1="588.3" y1="498.7" x2="588.3" y2="889.4" stroke="#555" stroke-width="1.4"/>
<line x1="582.5" y1="498.7" x2="588.3" y2="498.7" stroke="#555" stroke-width="1.2"/>
<line x1="627.42" y1="498.7" x2="627.42" y2="501.7" stroke="#333" stroke-width="1"/>
<line x1="976.5" y1="537.19" x2="979.5" y2="537.19" stroke="#222" stroke-width="1"/>
<line x1="666.54" y1="498.7" x2="666.54" y2="503.7" stroke="#333" stroke-width="1"/>
<line x1="974.5" y1="575.68" x2="979.5" y2="575.68" stroke="#222" stroke-width="1"/>
<line x1="705.66" y1="498.7" x2="705.66" y2="501.7" stroke="#333" stroke-width="1"/>
<line x1="976.5" y1="614.17" x2="979.5" y2="614.17" stroke="#222" stroke-width="1"/>
<line x1="744.78" y1="498.7" x2="744.78" y2="503.7" stroke="#333" stroke-width="1"/>
<line x1="974.5" y1="652.66" x2="979.5" y2="652.66" stroke="#222" stroke-width="1"/>
<line x1="783.90" y1="498.7" x2="783.90" y2="501.7" stroke="#333" stroke-width="1"/>
<line x1="976.5" y1="691.15" x2="979.5" y2="691.15" stroke="#222" stroke-width="1"/>
<line x1="823.02" y1="498.7" x2="823.02" y2="503.7" stroke="#333" stroke-width="1"/>
<line x1="974.5" y1="729.64" x2="979.5" y2="729.64" stroke="#222" stroke-width="1"/>
<line x1="862.14" y1="498.7" x2="862.14" y2="501.7" stroke="#333" stroke-width="1"/>
<line x1="976.5" y1="768.13" x2="979.5" y2="768.13" stroke="#222" stroke-width="1"/>
<line x1="901.26" y1="498.7" x2="901.26" y2="503.7" stroke="#333" stroke-width="1"/>
<line x1="974.5" y1="806.62" x2="979.5" y2="806.62" stroke="#222" stroke-width="1"/>
<line x1="940.38" y1="498.7" x2="940.38" y2="501.7" stroke="#333" stroke-width="1"/>
<line x1="976.5" y1="845.11" x2="979.5" y2="845.11" stroke="#222" stroke-width="1"/>
<line x1="588.30" y1="883.6" x2="588.30" y2="889.4" stroke="#222" stroke-width="1.2"/>
<text x="588.30" y="909.70" font-size="19" font-weight="bold" text-anchor="middle" >200</text>
<line x1="686.10" y1="883.6" x2="686.10" y2="889.4" stroke="#222" stroke-width="1.2"/>
<text x="686.10" y="909.70" font-size="19" font-weight="bold" text-anchor="middle" >215</text>
<line x1="783.90" y1="883.6" x2="783.90" y2="889.4" stroke="#222" stroke-width="1.2"/>
<text x="783.90" y="909.70" font-size="19" font-weight="bold" text-anchor="middle" >230</text>
<line x1="881.70" y1="883.6" x2="881.70" y2="889.4" stroke="#222" stroke-width="1.2"/>
<text x="881.70" y="909.70" font-size="19" font-weight="bold" text-anchor="middle" >245</text>
<line x1="979.50" y1="883.6" x2="979.50" y2="889.4" stroke="#222" stroke-width="1.2"/>
<text x="979.50" y="909.70" font-size="19" font-weight="bold" text-anchor="middle" >260</text>
<line x1="637.20" y1="883.6" x2="637.20" y2="886.6" stroke="#333" stroke-width="1"/>
<line x1="735.00" y1="883.6" x2="735.00" y2="886.6" stroke="#333" stroke-width="1"/>
<line x1="832.80" y1="883.6" x2="832.80" y2="886.6" stroke="#333" stroke-width="1"/>
<line x1="930.60" y1="883.6" x2="930.60" y2="886.6" stroke="#333" stroke-width="1"/>
<line x1="582.5" y1="883.60" x2="588.3" y2="883.60" stroke="#222" stroke-width="1.2"/>
<text x="578.00" y="889.50" font-size="19" font-weight="bold" text-anchor="end" >0.00</text>
<line x1="582.5" y1="755.30" x2="588.3" y2="755.30" stroke="#222" stroke-width="1.2"/>
<text x="578.00" y="761.20" font-size="19" font-weight="bold" text-anchor="end" >0.05</text>
<line x1="582.5" y1="627.00" x2="588.3" y2="627.00" stroke="#222" stroke-width="1.2"/>
<text x="578.00" y="632.90" font-size="19" font-weight="bold" text-anchor="end" >0.10</text>
<line x1="582.5" y1="498.70" x2="588.3" y2="498.70" stroke="#222" stroke-width="1.2"/>
<text x="578.00" y="504.60" font-size="19" font-weight="bold" text-anchor="end" >0.15</text>
<line x1="585.3" y1="819.45" x2="588.3" y2="819.45" stroke="#333" stroke-width="1"/>
<line x1="585.3" y1="691.15" x2="588.3" y2="691.15" stroke="#333" stroke-width="1"/>
<line x1="585.3" y1="562.85" x2="588.3" y2="562.85" stroke="#333" stroke-width="1"/>
<text x="784.90" y="944.10" font-size="19" font-weight="bold" text-anchor="middle" >Wavelength [nm]</text>
<text x="0" y="0" font-size="19" font-weight="bold" text-anchor="middle" transform="translate(527.80,681.35) rotate(-90)">Extinction coefficient</text>
<text x="509.60" y="502.80" font-size="15.5" font-weight="normal" text-anchor="start" stroke="#000" stroke-width="0.35" letter-spacing="0.9">(e)</text>
<rect x="828.2" y="505.3" width="146.0999999999999" height="110.30000000000001" fill="#fff" stroke="#b4b4b4" stroke-width="1"/>
<line x1="829.4000000000001" y1="513.20" x2="855.5" y2="513.20" stroke="#000000" stroke-width="2.8" stroke-linecap="round"/>
<text x="858.80" y="517.00" font-size="11.5" font-weight="normal" text-anchor="start" letter-spacing="0.3" stroke="#000" stroke-width="0.3">SiO<tspan dy="3.9">2</tspan><tspan dy="-3.9">=3016 Cycles</tspan></text>
<line x1="829.4000000000001" y1="531.30" x2="855.5" y2="531.30" stroke="#ff0000" stroke-width="2.8" stroke-linecap="round"/>
<text x="858.80" y="535.10" font-size="11.5" font-weight="normal" text-anchor="start" letter-spacing="0.3" stroke="#000" stroke-width="0.3">HfO<tspan dy="3.9">2</tspan><tspan dy="-3.9">=1524 Cycles</tspan></text>
<line x1="829.4000000000001" y1="549.40" x2="855.5" y2="549.40" stroke="#00ff00" stroke-width="2.8" stroke-linecap="round"/>
<text x="858.80" y="553.20" font-size="11.5" font-weight="normal" text-anchor="start" letter-spacing="0.3" stroke="#000" stroke-width="0.3">SiO<tspan dy="3.9">2</tspan><tspan dy="-3.9">:HfO</tspan><tspan dy="3.9">2</tspan><tspan dy="-3.9">=[4:2]*465</tspan></text>
<line x1="829.4000000000001" y1="567.50" x2="855.5" y2="567.50" stroke="#0000ff" stroke-width="2.8" stroke-linecap="round"/>
<text x="858.80" y="571.30" font-size="11.5" font-weight="normal" text-anchor="start" letter-spacing="0.3" stroke="#000" stroke-width="0.3">SiO<tspan dy="3.9">2</tspan><tspan dy="-3.9">:HfO</tspan><tspan dy="3.9">2</tspan><tspan dy="-3.9">=[4:4]*315</tspan></text>
<line x1="829.4000000000001" y1="585.60" x2="855.5" y2="585.60" stroke="#ff00ff" stroke-width="2.8" stroke-linecap="round"/>
<text x="858.80" y="589.40" font-size="11.5" font-weight="normal" text-anchor="start" letter-spacing="0.3" stroke="#000" stroke-width="0.3">SiO<tspan dy="3.9">2</tspan><tspan dy="-3.9">:HfO</tspan><tspan dy="3.9">2</tspan><tspan dy="-3.9">=[4:8]*160</tspan></text>
<line x1="829.4000000000001" y1="603.70" x2="855.5" y2="603.70" stroke="#808000" stroke-width="2.8" stroke-linecap="round"/>
<text x="858.80" y="607.50" font-size="11.5" font-weight="normal" text-anchor="start" letter-spacing="0.3" stroke="#000" stroke-width="0.3">SiO<tspan dy="3.9">2</tspan><tspan dy="-3.9">:HfO</tspan><tspan dy="3.9">2</tspan><tspan dy="-3.9">=[4:16]*87</tspan></text>
<line x1="588.0" y1="1357.4" x2="984.3" y2="1357.4" stroke="#222" stroke-width="1.3"/>
<clipPath id="clipf"><rect x="591.0" y="971.5" width="393.29999999999995" height="387.29999999999995"/></clipPath>
<g clip-path="url(#clipf)" fill="none" stroke-linejoin="round">
<path d="M591.0,1357.5 984.3,1357.5" stroke="#000000" stroke-width="2.8"/>
<path d="M591.4,1022.2 592.7,1028.5 594.0,1034.9 595.3,1041.5 596.7,1048.4 598.0,1055.5 599.3,1062.9 600.6,1070.2 601.9,1076.9 603.2,1082.8 604.5,1088.0 605.9,1092.9 607.2,1097.5 608.5,1102.0 609.8,1106.7 611.1,1111.6 612.4,1116.6 613.7,1121.7 615.1,1126.7 616.4,1131.5 617.7,1136.2 619.0,1140.5 620.3,1144.7 621.6,1148.6 622.9,1152.4 624.3,1156.0 625.6,1159.7 626.9,1163.3 628.2,1166.9 629.5,1170.6 630.8,1174.3 632.1,1178.0 633.4,1181.6 634.8,1185.3 636.1,1188.8 637.4,1192.2 638.7,1195.5 640.0,1198.6 641.3,1201.7 642.6,1204.6 644.0,1207.4 645.3,1210.1 646.6,1212.7 647.9,1215.3 649.2,1217.9 650.5,1220.5 651.8,1223.0 653.2,1225.5 654.5,1227.9 655.8,1230.4 657.1,1232.8 658.4,1235.2 659.7,1237.5 661.0,1239.8 662.4,1242.1 663.7,1244.4 665.0,1246.7 666.3,1248.9 667.6,1251.1 668.9,1253.2 670.2,1255.3 671.6,1257.4 672.9,1259.5 674.2,1261.5 675.5,1263.5 676.8,1265.4 678.1,1267.4 679.4,1269.2 680.8,1271.1 682.1,1272.9 683.4,1274.7 684.7,1276.4 686.0,1278.1 687.3,1279.8 688.6,1281.4 690.0,1283.0 691.3,1284.6 692.6,1286.1 693.9,1287.6 695.2,1289.1 696.5,1290.5 697.8,1292.0 699.2,1293.3 700.5,1294.7 701.8,1296.0 703.1,1297.3 704.4,1298.5 705.7,1299.8 707.0,1301.0 708.4,1302.2 709.7,1303.3 711.0,1304.4 712.3,1305.6 713.6,1306.6 714.9,1307.7 716.2,1308.7 717.5,1309.8 718.9,1310.8 720.2,1311.7 721.5,1312.7 722.8,1313.6 724.1,1314.5 725.4,1315.4 726.7,1316.3 728.1,1317.2 729.4,1318.0 730.7,1318.9 732.0,1319.7 733.3,1320.5 734.6,1321.3 735.9,1322.1 737.3,1322.9 738.6,1323.6 739.9,1324.4 741.2,1325.1 742.5,1325.8 743.8,1326.5 745.1,1327.2 746.5,1327.9 747.8,1328.6 749.1,1329.3 750.4,1329.9 751.7,1330.6 753.0,1331.2 754.3,1331.8 755.7,1332.4 757.0,1333.0 758.3,1333.6 759.6,1334.2 760.9,1334.8 762.2,1335.3 763.5,1335.9 764.9,1336.4 766.2,1337.0 767.5,1337.5 768.8,1338.0 770.1,1338.5 771.4,1339.0 772.7,1339.5 774.1,1340.0 775.4,1340.4 776.7,1340.9 778.0,1341.3 779.3,1341.8 780.6,1342.2 781.9,1342.6 783.3,1343.1 784.6,1343.5 785.9,1343.9 787.2,1344.3 788.5,1344.6 789.8,1345.0 791.1,1345.4 792.4,1345.7 793.8,1346.1 795.1,1346.4 796.4,1346.8 797.7,1347.1 799.0,1347.4 800.3,1347.7 801.6,1348.0 803.0,1348.3 804.3,1348.6 805.6,1348.9 806.9,1349.2 808.2,1349.5 809.5,1349.7 810.8,1350.0 812.2,1350.3 813.5,1350.5 814.8,1350.7 816.1,1351.0 817.4,1351.2 818.7,1351.4 820.0,1351.6 821.4,1351.9 822.7,1352.1 824.0,1352.3 825.3,1352.4 826.6,1352.6 827.9,1352.8 829.2,1353.0 830.6,1353.2 831.9,1353.3 833.2,1353.5 834.5,1353.6 835.8,1353.8 837.1,1353.9 838.4,1354.1 839.8,1354.2 841.1,1354.3 842.4,1354.5 843.7,1354.6 845.0,1354.7 846.3,1354.8 847.6,1354.9 849.0,1355.0 850.3,1355.1 851.6,1355.2 852.9,1355.3 854.2,1355.4 855.5,1355.5 856.8,1355.5 858.2,1355.6 859.5,1355.7 860.8,1355.7 862.1,1355.8 863.4,1355.9 864.7,1355.9 866.0,1356.0 867.3,1356.0 868.7,1356.1 870.0,1356.1 871.3,1356.1 872.6,1356.2 873.9,1356.2 875.2,1356.2 876.5,1356.3 877.9,1356.3 879.2,1356.3 880.5,1356.3 881.8,1356.4 883.1,1356.4 884.4,1356.4 885.7,1356.4 887.1,1356.4 888.4,1356.4 889.7,1356.4 891.0,1356.4 892.3,1356.4 893.6,1356.4 894.9,1356.4 896.3,1356.4 897.6,1356.4 898.9,1356.4 900.2,1356.4 901.5,1356.4 902.8,1356.4 904.1,1356.4 905.5,1356.4 906.8,1356.4 908.1,1356.4 909.4,1356.4 910.7,1356.4 912.0,1356.4 913.3,1356.4 914.7,1356.4 916.0,1356.4 917.3,1356.4 918.6,1356.4 919.9,1356.4 921.2,1356.4 922.5,1356.4 923.9,1356.4 925.2,1356.4 926.5,1356.4 927.8,1356.4 929.1,1356.4 930.4,1356.4 931.7,1356.4 933.1,1356.4 934.4,1356.4 935.7,1356.4 937.0,1356.4 938.3,1356.4 939.6,1356.4 940.9,1356.4 942.3,1356.4 943.6,1356.4 944.9,1356.4 946.2,1356.4 947.5,1356.4 948.8,1356.4 950.1,1356.4 951.4,1356.4 952.8,1356.4 954.1,1356.4 955.4,1356.4 956.7,1356.4 958.0,1356.4 959.3,1356.4 960.6,1356.4 962.0,1356.4 963.3,1356.4 964.6,1356.4 965.9,1356.4 967.2,1356.4 968.5,1356.4 969.8,1356.4 971.2,1356.4 972.5,1356.4 973.8,1356.4 975.1,1356.4 976.4,1356.4 977.7,1356.4 979.0,1356.4 980.4,1356.4 981.7,1356.4 983.0,1356.4 984.3,1356.4" stroke="#ff0000" stroke-width="2.8"/>
<path d="M591.4,1340.0 592.7,1340.2 594.0,1340.4 595.3,1340.6 596.7,1340.7 598.0,1340.9 599.3,1341.1 600.6,1341.3 601.9,1341.5 603.2,1341.7 604.5,1341.9 605.9,1342.1 607.2,1342.2 608.5,1342.4 609.8,1342.6 611.1,1342.8 612.4,1342.9 613.7,1343.1 615.1,1343.3 616.4,1343.5 617.7,1343.6 619.0,1343.8 620.3,1344.0 621.6,1344.1 622.9,1344.3 624.3,1344.4 625.6,1344.6 626.9,1344.8 628.2,1344.9 629.5,1345.1 630.8,1345.2 632.1,1345.4 633.4,1345.5 634.8,1345.7 636.1,1345.8 637.4,1346.0 638.7,1346.1 640.0,1346.3 641.3,1346.4 642.6,1346.5 644.0,1346.7 645.3,1346.8 646.6,1346.9 647.9,1347.1 649.2,1347.2 650.5,1347.3 651.8,1347.5 653.2,1347.6 654.5,1347.7 655.8,1347.9 657.1,1348.0 658.4,1348.1 659.7,1348.2 661.0,1348.4 662.4,1348.5 663.7,1348.6 665.0,1348.7 666.3,1348.8 667.6,1348.9 668.9,1349.1 670.2,1349.2 671.6,1349.3 672.9,1349.4 674.2,1349.5 675.5,1349.6 676.8,1349.7 678.1,1349.8 679.4,1349.9 680.8,1350.0 682.1,1350.1 683.4,1350.2 684.7,1350.3 686.0,1350.4 687.3,1350.5 688.6,1350.6 690.0,1350.7 691.3,1350.8 692.6,1350.9 693.9,1351.0 695.2,1351.1 696.5,1351.2 697.8,1351.3 699.2,1351.4 700.5,1351.4 701.8,1351.5 703.1,1351.6 704.4,1351.7 705.7,1351.8 707.0,1351.9 708.4,1351.9 709.7,1352.0 711.0,1352.1 712.3,1352.2 713.6,1352.2 714.9,1352.3 716.2,1352.4 717.5,1352.5 718.9,1352.5 720.2,1352.6 721.5,1352.7 722.8,1352.7 724.1,1352.8 725.4,1352.9 726.7,1352.9 728.1,1353.0 729.4,1353.1 730.7,1353.1 732.0,1353.2 733.3,1353.3 734.6,1353.3 735.9,1353.4 737.3,1353.4 738.6,1353.5 739.9,1353.6 741.2,1353.6 742.5,1353.7 743.8,1353.7 745.1,1353.8 746.5,1353.8 747.8,1353.9 749.1,1353.9 750.4,1354.0 751.7,1354.0 753.0,1354.1 754.3,1354.1 755.7,1354.2 757.0,1354.2 758.3,1354.3 759.6,1354.3 760.9,1354.4 762.2,1354.4 763.5,1354.4 764.9,1354.5 766.2,1354.5 767.5,1354.6 768.8,1354.6 770.1,1354.6 771.4,1354.7 772.7,1354.7 774.1,1354.8 775.4,1354.8 776.7,1354.8 778.0,1354.9 779.3,1354.9 780.6,1354.9 781.9,1355.0 783.3,1355.0 784.6,1355.0 785.9,1355.1 787.2,1355.1 788.5,1355.1 789.8,1355.2 791.1,1355.2 792.4,1355.2 793.8,1355.2 795.1,1355.3 796.4,1355.3 797.7,1355.3 799.0,1355.3 800.3,1355.4 801.6,1355.4 803.0,1355.4 804.3,1355.4 805.6,1355.5 806.9,1355.5 808.2,1355.5 809.5,1355.5 810.8,1355.5 812.2,1355.6 813.5,1355.6 814.8,1355.6 816.1,1355.6 817.4,1355.6 818.7,1355.7 820.0,1355.7 821.4,1355.7 822.7,1355.7 824.0,1355.7 825.3,1355.7 826.6,1355.8 827.9,1355.8 829.2,1355.8 830.6,1355.8 831.9,1355.8 833.2,1355.8 834.5,1355.8 835.8,1355.9 837.1,1355.9 838.4,1355.9 839.8,1355.9 841.1,1355.9 842.4,1355.9 843.7,1355.9 845.0,1355.9 846.3,1356.0 847.6,1356.0 849.0,1356.0 850.3,1356.0 851.6,1356.0 852.9,1356.0 854.2,1356.0 855.5,1356.0 856.8,1356.0 858.2,1356.0 859.5,1356.0 860.8,1356.1 862.1,1356.1 863.4,1356.1 864.7,1356.1 866.0,1356.1 867.3,1356.1 868.7,1356.1 870.0,1356.1 871.3,1356.1 872.6,1356.1 873.9,1356.1 875.2,1356.1 876.5,1356.1 877.9,1356.1 879.2,1356.1 880.5,1356.1 881.8,1356.2 883.1,1356.2 884.4,1356.2 885.7,1356.2 887.1,1356.2 888.4,1356.2 889.7,1356.2 891.0,1356.2 892.3,1356.2 893.6,1356.2 894.9,1356.2 896.3,1356.2 897.6,1356.2 898.9,1356.2 900.2,1356.2 901.5,1356.2 902.8,1356.2 904.1,1356.2 905.5,1356.2 906.8,1356.2 908.1,1356.3 909.4,1356.3 910.7,1356.3 912.0,1356.3 913.3,1356.3 914.7,1356.3 916.0,1356.3 917.3,1356.3 918.6,1356.3 919.9,1356.3 921.2,1356.3 922.5,1356.3 923.9,1356.3 925.2,1356.3 926.5,1356.3 927.8,1356.3 929.1,1356.3 930.4,1356.3 931.7,1356.4 933.1,1356.4 934.4,1356.4 935.7,1356.4 937.0,1356.4 938.3,1356.4 939.6,1356.4 940.9,1356.4 942.3,1356.4 943.6,1356.4 944.9,1356.4 946.2,1356.4 947.5,1356.5 948.8,1356.5 950.1,1356.5 951.4,1356.5 952.8,1356.5 954.1,1356.5 955.4,1356.5 956.7,1356.5 958.0,1356.5 959.3,1356.6 960.6,1356.6 962.0,1356.6 963.3,1356.6 964.6,1356.6 965.9,1356.6 967.2,1356.6 968.5,1356.6 969.8,1356.7 971.2,1356.7 972.5,1356.7 973.8,1356.7 975.1,1356.7 976.4,1356.7 977.7,1356.8 979.0,1356.8 980.4,1356.8 981.7,1356.8 983.0,1356.8 984.3,1356.9" stroke="#800080" stroke-width="2.8"/>
<path d="M591.4,1351.6 592.7,1351.7 594.0,1351.7 595.3,1351.8 596.7,1351.8 598.0,1351.9 599.3,1351.9 600.6,1352.0 601.9,1352.1 603.2,1352.1 604.5,1352.2 605.9,1352.2 607.2,1352.3 608.5,1352.3 609.8,1352.4 611.1,1352.4 612.4,1352.5 613.7,1352.6 615.1,1352.6 616.4,1352.7 617.7,1352.7 619.0,1352.8 620.3,1352.8 621.6,1352.9 622.9,1352.9 624.3,1352.9 625.6,1353.0 626.9,1353.0 628.2,1353.1 629.5,1353.1 630.8,1353.2 632.1,1353.2 633.4,1353.3 634.8,1353.3 636.1,1353.4 637.4,1353.4 638.7,1353.4 640.0,1353.5 641.3,1353.5 642.6,1353.6 644.0,1353.6 645.3,1353.6 646.6,1353.7 647.9,1353.7 649.2,1353.8 650.5,1353.8 651.8,1353.8 653.2,1353.9 654.5,1353.9 655.8,1353.9 657.1,1354.0 658.4,1354.0 659.7,1354.1 661.0,1354.1 662.4,1354.1 663.7,1354.2 665.0,1354.2 666.3,1354.2 667.6,1354.3 668.9,1354.3 670.2,1354.3 671.6,1354.3 672.9,1354.4 674.2,1354.4 675.5,1354.4 676.8,1354.5 678.1,1354.5 679.4,1354.5 680.8,1354.6 682.1,1354.6 683.4,1354.6 684.7,1354.6 686.0,1354.7 687.3,1354.7 688.6,1354.7 690.0,1354.7 691.3,1354.8 692.6,1354.8 693.9,1354.8 695.2,1354.8 696.5,1354.9 697.8,1354.9 699.2,1354.9 700.5,1354.9 701.8,1355.0 703.1,1355.0 704.4,1355.0 705.7,1355.0 707.0,1355.0 708.4,1355.1 709.7,1355.1 711.0,1355.1 712.3,1355.1 713.6,1355.1 714.9,1355.2 716.2,1355.2 717.5,1355.2 718.9,1355.2 720.2,1355.2 721.5,1355.3 722.8,1355.3 724.1,1355.3 725.4,1355.3 726.7,1355.3 728.1,1355.3 729.4,1355.4 730.7,1355.4 732.0,1355.4 733.3,1355.4 734.6,1355.4 735.9,1355.4 737.3,1355.5 738.6,1355.5 739.9,1355.5 741.2,1355.5 742.5,1355.5 743.8,1355.5 745.1,1355.5 746.5,1355.5 747.8,1355.6 749.1,1355.6 750.4,1355.6 751.7,1355.6 753.0,1355.6 754.3,1355.6 755.7,1355.6 757.0,1355.6 758.3,1355.6 759.6,1355.7 760.9,1355.7 762.2,1355.7 763.5,1355.7 764.9,1355.7 766.2,1355.7 767.5,1355.7 768.8,1355.7 770.1,1355.7 771.4,1355.7 772.7,1355.8 774.1,1355.8 775.4,1355.8 776.7,1355.8 778.0,1355.8 779.3,1355.8 780.6,1355.8 781.9,1355.8 783.3,1355.8 784.6,1355.8 785.9,1355.8 787.2,1355.8 788.5,1355.8 789.8,1355.8 791.1,1355.9 792.4,1355.9 793.8,1355.9 795.1,1355.9 796.4,1355.9 797.7,1355.9 799.0,1355.9 800.3,1355.9 801.6,1355.9 803.0,1355.9 804.3,1355.9 805.6,1355.9 806.9,1355.9 808.2,1355.9 809.5,1355.9 810.8,1355.9 812.2,1355.9 813.5,1355.9 814.8,1355.9 816.1,1355.9 817.4,1355.9 818.7,1356.0 820.0,1356.0 821.4,1356.0 822.7,1356.0 824.0,1356.0 825.3,1356.0 826.6,1356.0 827.9,1356.0 829.2,1356.0 830.6,1356.0 831.9,1356.0 833.2,1356.0 834.5,1356.0 835.8,1356.0 837.1,1356.0 838.4,1356.0 839.8,1356.0 841.1,1356.0 842.4,1356.0 843.7,1356.0 845.0,1356.0 846.3,1356.0 847.6,1356.0 849.0,1356.0 850.3,1356.0 851.6,1356.0 852.9,1356.0 854.2,1356.0 855.5,1356.0 856.8,1356.0 858.2,1356.0 859.5,1356.0 860.8,1356.0 862.1,1356.0 863.4,1356.0 864.7,1356.0 866.0,1356.0 867.3,1356.1 868.7,1356.1 870.0,1356.1 871.3,1356.1 872.6,1356.1 873.9,1356.1 875.2,1356.1 876.5,1356.1 877.9,1356.1 879.2,1356.1 880.5,1356.1 881.8,1356.1 883.1,1356.1 884.4,1356.1 885.7,1356.1 887.1,1356.1 888.4,1356.1 889.7,1356.1 891.0,1356.1 892.3,1356.1 893.6,1356.1 894.9,1356.1 896.3,1356.1 897.6,1356.1 898.9,1356.1 900.2,1356.1 901.5,1356.1 902.8,1356.1 904.1,1356.1 905.5,1356.1 906.8,1356.1 908.1,1356.2 909.4,1356.2 910.7,1356.2 912.0,1356.2 913.3,1356.2 914.7,1356.2 916.0,1356.2 917.3,1356.2 918.6,1356.2 919.9,1356.2 921.2,1356.2 922.5,1356.2 923.9,1356.2 925.2,1356.2 926.5,1356.2 927.8,1356.2 929.1,1356.2 930.4,1356.3 931.7,1356.3 933.1,1356.3 934.4,1356.3 935.7,1356.3 937.0,1356.3 938.3,1356.3 939.6,1356.3 940.9,1356.3 942.3,1356.3 943.6,1356.3 944.9,1356.3 946.2,1356.3 947.5,1356.4 948.8,1356.4 950.1,1356.4 951.4,1356.4 952.8,1356.4 954.1,1356.4 955.4,1356.4 956.7,1356.4 958.0,1356.4 959.3,1356.4 960.6,1356.5 962.0,1356.5 963.3,1356.5 964.6,1356.5 965.9,1356.5 967.2,1356.5 968.5,1356.5 969.8,1356.5 971.2,1356.6 972.5,1356.6 973.8,1356.6 975.1,1356.6 976.4,1356.6 977.7,1356.6 979.0,1356.6 980.4,1356.7 981.7,1356.7 983.0,1356.7 984.3,1356.7" stroke="#008080" stroke-width="2.8"/>
<path d="M591.0,1357.5 984.3,1357.5" stroke="#ff8000" stroke-width="2.8"/>
<path d="M591.4,1029.7 592.7,1035.4 594.0,1041.0 595.3,1046.5 596.7,1052.0 598.0,1057.4 599.3,1062.7 600.6,1067.9 601.9,1073.1 603.2,1078.2 604.5,1083.3 605.9,1088.2 607.2,1093.2 608.5,1098.0 609.8,1102.8 611.1,1107.5 612.4,1112.2 613.7,1116.8 615.1,1121.4 616.4,1125.9 617.7,1130.4 619.0,1134.8 620.3,1139.1 621.6,1143.4 622.9,1147.7 624.3,1151.9 625.6,1156.0 626.9,1160.1 628.2,1164.2 629.5,1168.2 630.8,1172.2 632.1,1176.1 633.4,1180.0 634.8,1183.8 636.1,1187.6 637.4,1191.4 638.7,1195.1 640.0,1198.8 641.3,1202.4 642.6,1206.0 644.0,1209.5 645.3,1213.0 646.6,1216.5 647.9,1219.9 649.2,1223.2 650.5,1226.6 651.8,1229.8 653.2,1233.1 654.5,1236.3 655.8,1239.4 657.1,1242.5 658.4,1245.6 659.7,1248.6 661.0,1251.6 662.4,1254.5 663.7,1257.4 665.0,1260.2 666.3,1263.0 667.6,1265.8 668.9,1268.4 670.2,1271.1 671.6,1273.7 672.9,1276.2 674.2,1278.7 675.5,1281.1 676.8,1283.5 678.1,1285.8 679.4,1288.0 680.8,1290.2 682.1,1292.3 683.4,1294.4 684.7,1296.4 686.0,1298.3 687.3,1300.1 688.6,1301.9 690.0,1303.6 691.3,1305.2 692.6,1306.8 693.9,1308.2 695.2,1309.6 696.5,1310.9 697.8,1312.1 699.2,1313.3 700.5,1314.4 701.8,1315.4 703.1,1316.4 704.4,1317.2 705.7,1318.1 707.0,1318.9 708.4,1319.6 709.7,1320.3 711.0,1321.0 712.3,1321.6 713.6,1322.2 714.9,1322.7 716.2,1323.2 717.5,1323.8 718.9,1324.2 720.2,1324.7 721.5,1325.2 722.8,1325.6 724.1,1326.0 725.4,1326.4 726.7,1326.8 728.1,1327.2 729.4,1327.6 730.7,1327.9 732.0,1328.2 733.3,1328.6 734.6,1328.9 735.9,1329.2 737.3,1329.5 738.6,1329.8 739.9,1330.0 741.2,1330.3 742.5,1330.6 743.8,1330.8 745.1,1331.1 746.5,1331.3 747.8,1331.6 749.1,1331.8 750.4,1332.1 751.7,1332.3 753.0,1332.5 754.3,1332.8 755.7,1333.0 757.0,1333.2 758.3,1333.5 759.6,1333.7 760.9,1333.9 762.2,1334.2 763.5,1334.4 764.9,1334.6 766.2,1334.9 767.5,1335.1 768.8,1335.4 770.1,1335.6 771.4,1335.8 772.7,1336.1 774.1,1336.3 775.4,1336.5 776.7,1336.8 778.0,1337.0 779.3,1337.2 780.6,1337.5 781.9,1337.7 783.3,1337.9 784.6,1338.2 785.9,1338.4 787.2,1338.6 788.5,1338.9 789.8,1339.1 791.1,1339.3 792.4,1339.6 793.8,1339.8 795.1,1340.0 796.4,1340.2 797.7,1340.5 799.0,1340.7 800.3,1340.9 801.6,1341.1 803.0,1341.3 804.3,1341.6 805.6,1341.8 806.9,1342.0 808.2,1342.2 809.5,1342.4 810.8,1342.6 812.2,1342.8 813.5,1343.1 814.8,1343.3 816.1,1343.5 817.4,1343.7 818.7,1343.9 820.0,1344.1 821.4,1344.3 822.7,1344.5 824.0,1344.7 825.3,1344.8 826.6,1345.0 827.9,1345.2 829.2,1345.4 830.6,1345.6 831.9,1345.8 833.2,1345.9 834.5,1346.1 835.8,1346.3 837.1,1346.5 838.4,1346.6 839.8,1346.8 841.1,1347.0 842.4,1347.1 843.7,1347.3 845.0,1347.5 846.3,1347.6 847.6,1347.8 849.0,1347.9 850.3,1348.1 851.6,1348.3 852.9,1348.4 854.2,1348.6 855.5,1348.7 856.8,1348.9 858.2,1349.0 859.5,1349.1 860.8,1349.3 862.1,1349.4 863.4,1349.6 864.7,1349.7 866.0,1349.8 867.3,1350.0 868.7,1350.1 870.0,1350.2 871.3,1350.3 872.6,1350.5 873.9,1350.6 875.2,1350.7 876.5,1350.8 877.9,1351.0 879.2,1351.1 880.5,1351.2 881.8,1351.3 883.1,1351.4 884.4,1351.5 885.7,1351.6 887.1,1351.7 888.4,1351.9 889.7,1352.0 891.0,1352.1 892.3,1352.2 893.6,1352.3 894.9,1352.4 896.3,1352.5 897.6,1352.6 898.9,1352.7 900.2,1352.8 901.5,1352.8 902.8,1352.9 904.1,1353.0 905.5,1353.1 906.8,1353.2 908.1,1353.3 909.4,1353.4 910.7,1353.5 912.0,1353.5 913.3,1353.6 914.7,1353.7 916.0,1353.8 917.3,1353.9 918.6,1353.9 919.9,1354.0 921.2,1354.1 922.5,1354.1 923.9,1354.2 925.2,1354.3 926.5,1354.4 927.8,1354.4 929.1,1354.5 930.4,1354.6 931.7,1354.6 933.1,1354.7 934.4,1354.7 935.7,1354.8 937.0,1354.9 938.3,1354.9 939.6,1355.0 940.9,1355.0 942.3,1355.1 943.6,1355.1 944.9,1355.2 946.2,1355.2 947.5,1355.3 948.8,1355.3 950.1,1355.4 951.4,1355.4 952.8,1355.5 954.1,1355.5 955.4,1355.6 956.7,1355.6 958.0,1355.7 959.3,1355.7 960.6,1355.7 962.0,1355.8 963.3,1355.8 964.6,1355.8 965.9,1355.9 967.2,1355.9 968.5,1356.0 969.8,1356.0 971.2,1356.0 972.5,1356.1 973.8,1356.1 975.1,1356.1 976.4,1356.1 977.7,1356.2 979.0,1356.2 980.4,1356.2 981.7,1356.3 983.0,1356.3 984.3,1356.3" stroke="#8000ff" stroke-width="2.8"/>
</g>
<line x1="591.0" y1="972.5" x2="984.3" y2="972.5" stroke="#111" stroke-width="1.4"/>
<line x1="984.3" y1="972.5" x2="984.3" y2="1363.2" stroke="#333" stroke-width="1.6"/>
<line x1="591.0" y1="972.5" x2="591.0" y2="1363.2" stroke="#999" stroke-width="2"/>
<line x1="585.2" y1="972.5" x2="591.0" y2="972.5" stroke="#999" stroke-width="1.2"/>
<line x1="630.33" y1="972.5" x2="630.33" y2="975.5" stroke="#333" stroke-width="1"/>
<line x1="981.3" y1="1010.99" x2="984.3" y2="1010.99" stroke="#222" stroke-width="1"/>
<line x1="669.66" y1="972.5" x2="669.66" y2="977.5" stroke="#333" stroke-width="1"/>
<line x1="979.3" y1="1049.48" x2="984.3" y2="1049.48" stroke="#222" stroke-width="1"/>
<line x1="708.99" y1="972.5" x2="708.99" y2="975.5" stroke="#333" stroke-width="1"/>
<line x1="981.3" y1="1087.97" x2="984.3" y2="1087.97" stroke="#222" stroke-width="1"/>
<line x1="748.32" y1="972.5" x2="748.32" y2="977.5" stroke="#333" stroke-width="1"/>
<line x1="979.3" y1="1126.46" x2="984.3" y2="1126.46" stroke="#222" stroke-width="1"/>
<line x1="787.65" y1="972.5" x2="787.65" y2="975.5" stroke="#333" stroke-width="1"/>
<line x1="981.3" y1="1164.95" x2="984.3" y2="1164.95" stroke="#222" stroke-width="1"/>
<line x1="826.98" y1="972.5" x2="826.98" y2="977.5" stroke="#333" stroke-width="1"/>
<line x1="979.3" y1="1203.44" x2="984.3" y2="1203.44" stroke="#222" stroke-width="1"/>
<line x1="866.31" y1="972.5" x2="866.31" y2="975.5" stroke="#333" stroke-width="1"/>
<line x1="981.3" y1="1241.93" x2="984.3" y2="1241.93" stroke="#222" stroke-width="1"/>
<line x1="905.64" y1="972.5" x2="905.64" y2="977.5" stroke="#333" stroke-width="1"/>
<line x1="979.3" y1="1280.42" x2="984.3" y2="1280.42" stroke="#222" stroke-width="1"/>
<line x1="944.97" y1="972.5" x2="944.97" y2="975.5" stroke="#333" stroke-width="1"/>
<line x1="981.3" y1="1318.91" x2="984.3" y2="1318.91" stroke="#222" stroke-width="1"/>
<line x1="591.00" y1="1357.4" x2="591.00" y2="1363.2" stroke="#222" stroke-width="1.2"/>
<text x="591.00" y="1383.20" font-size="19" font-weight="bold" text-anchor="middle" >200</text>
<line x1="689.33" y1="1357.4" x2="689.33" y2="1363.2" stroke="#222" stroke-width="1.2"/>
<text x="689.33" y="1383.20" font-size="19" font-weight="bold" text-anchor="middle" >215</text>
<line x1="787.65" y1="1357.4" x2="787.65" y2="1363.2" stroke="#222" stroke-width="1.2"/>
<text x="787.65" y="1383.20" font-size="19" font-weight="bold" text-anchor="middle" >230</text>
<line x1="885.97" y1="1357.4" x2="885.97" y2="1363.2" stroke="#222" stroke-width="1.2"/>
<text x="885.97" y="1383.20" font-size="19" font-weight="bold" text-anchor="middle" >245</text>
<line x1="984.30" y1="1357.4" x2="984.30" y2="1363.2" stroke="#222" stroke-width="1.2"/>
<text x="984.30" y="1383.20" font-size="19" font-weight="bold" text-anchor="middle" >260</text>
<line x1="640.16" y1="1357.4" x2="640.16" y2="1360.4" stroke="#333" stroke-width="1"/>
<line x1="738.49" y1="1357.4" x2="738.49" y2="1360.4" stroke="#333" stroke-width="1"/>
<line x1="836.81" y1="1357.4" x2="836.81" y2="1360.4" stroke="#333" stroke-width="1"/>
<line x1="935.14" y1="1357.4" x2="935.14" y2="1360.4" stroke="#333" stroke-width="1"/>
<line x1="585.2" y1="1357.40" x2="591.0" y2="1357.40" stroke="#222" stroke-width="1.2"/>
<text x="580.70" y="1363.30" font-size="19" font-weight="bold" text-anchor="end" >0.00</text>
<line x1="585.2" y1="1229.10" x2="591.0" y2="1229.10" stroke="#222" stroke-width="1.2"/>
<text x="580.70" y="1235.00" font-size="19" font-weight="bold" text-anchor="end" >0.05</text>
<line x1="585.2" y1="1100.80" x2="591.0" y2="1100.80" stroke="#222" stroke-width="1.2"/>
<text x="580.70" y="1106.70" font-size="19" font-weight="bold" text-anchor="end" >0.10</text>
<line x1="585.2" y1="972.50" x2="591.0" y2="972.50" stroke="#222" stroke-width="1.2"/>
<text x="580.70" y="978.40" font-size="19" font-weight="bold" text-anchor="end" >0.15</text>
<line x1="588.0" y1="1293.25" x2="591.0" y2="1293.25" stroke="#333" stroke-width="1"/>
<line x1="588.0" y1="1164.95" x2="591.0" y2="1164.95" stroke="#333" stroke-width="1"/>
<line x1="588.0" y1="1036.65" x2="591.0" y2="1036.65" stroke="#333" stroke-width="1"/>
<text x="788.40" y="1417.20" font-size="19" font-weight="bold" text-anchor="middle" >Wavelength [nm]</text>
<text x="0" y="0" font-size="19" font-weight="bold" text-anchor="middle" transform="translate(530.70,1152.95) rotate(-90)">Extinction coefficient</text>
<text x="512.80" y="976.10" font-size="15.5" font-weight="normal" text-anchor="start" stroke="#000" stroke-width="0.35" letter-spacing="0.9">(f)</text>
<rect x="834.5" y="977.3" width="146.29999999999995" height="110.29999999999995" fill="#fff" stroke="#b4b4b4" stroke-width="1"/>
<line x1="836.1" y1="985.30" x2="861.8" y2="985.30" stroke="#000000" stroke-width="2.8" stroke-linecap="round"/>
<text x="865.20" y="989.10" font-size="11.5" font-weight="normal" text-anchor="start" letter-spacing="0.3" stroke="#000" stroke-width="0.3">SiO<tspan dy="3.9">2</tspan><tspan dy="-3.9">=3016 Cycles</tspan></text>
<line x1="836.1" y1="1003.60" x2="861.8" y2="1003.60" stroke="#ff0000" stroke-width="2.8" stroke-linecap="round"/>
<text x="865.20" y="1007.40" font-size="11.5" font-weight="normal" text-anchor="start" letter-spacing="0.3" stroke="#000" stroke-width="0.3">HfO<tspan dy="3.9">2</tspan><tspan dy="-3.9">=1524 Cycles</tspan></text>
<line x1="836.1" y1="1021.90" x2="861.8" y2="1021.90" stroke="#800080" stroke-width="2.8" stroke-linecap="round"/>
<text x="865.20" y="1025.70" font-size="11.5" font-weight="normal" text-anchor="start" letter-spacing="0.3" stroke="#000" stroke-width="0.3">SiO<tspan dy="3.9">2</tspan><tspan dy="-3.9">:HfO</tspan><tspan dy="3.9">2</tspan><tspan dy="-3.9">=[8:2]*300</tspan></text>
<line x1="836.1" y1="1040.20" x2="861.8" y2="1040.20" stroke="#008080" stroke-width="2.8" stroke-linecap="round"/>
<text x="865.20" y="1044.00" font-size="11.5" font-weight="normal" text-anchor="start" letter-spacing="0.3" stroke="#000" stroke-width="0.3">SiO<tspan dy="3.9">2</tspan><tspan dy="-3.9">:HfO</tspan><tspan dy="3.9">2</tspan><tspan dy="-3.9">=[8:4]*230</tspan></text>
<line x1="836.1" y1="1058.50" x2="861.8" y2="1058.50" stroke="#ff8000" stroke-width="2.8" stroke-linecap="round"/>
<text x="865.20" y="1062.30" font-size="11.5" font-weight="normal" text-anchor="start" letter-spacing="0.3" stroke="#000" stroke-width="0.3">SiO<tspan dy="3.9">2</tspan><tspan dy="-3.9">:HfO</tspan><tspan dy="3.9">2</tspan><tspan dy="-3.9">=[8:8]*145</tspan></text>
<line x1="836.1" y1="1076.80" x2="861.8" y2="1076.80" stroke="#8000ff" stroke-width="2.8" stroke-linecap="round"/>
<text x="865.20" y="1080.60" font-size="11.5" font-weight="normal" text-anchor="start" letter-spacing="0.3" stroke="#000" stroke-width="0.3">SiO<tspan dy="3.9">2</tspan><tspan dy="-3.9">:HfO</tspan><tspan dy="3.9">2</tspan><tspan dy="-3.9">=[8:16]*76</tspan></text>
</svg>
</body></html>
